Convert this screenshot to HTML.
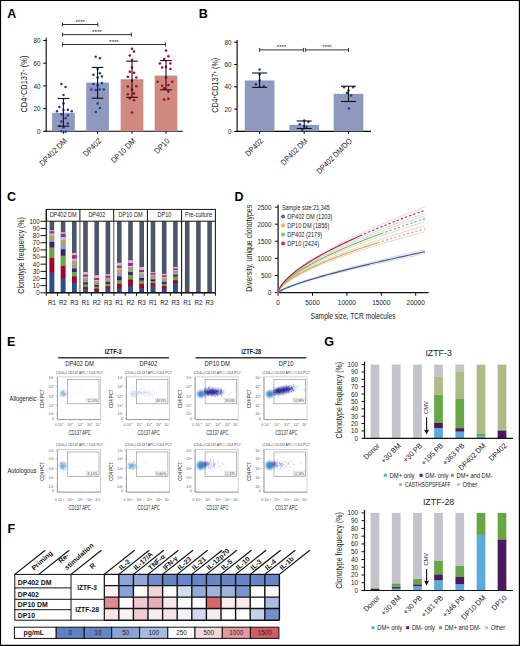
<!DOCTYPE html>
<html><head><meta charset="utf-8"><title>Figure</title>
<style>
html,body{margin:0;padding:0;background:#fff;width:520px;height:646px;overflow:hidden}
svg{display:block;font-family:"Liberation Sans", sans-serif}
</style></head><body>
<svg width="520" height="646" viewBox="0 0 520 646">
<defs><filter id="bl1" x="-50%" y="-50%" width="200%" height="200%"><feGaussianBlur stdDeviation="0.9"/></filter><filter id="bl2" x="-50%" y="-50%" width="200%" height="200%"><feGaussianBlur stdDeviation="0.7"/></filter><filter id="bl3" x="-50%" y="-50%" width="200%" height="200%"><feGaussianBlur stdDeviation="1.1"/></filter></defs>
<rect width="520" height="646" fill="#fff"/>
<text x="7.30" y="18.00" font-size="12.5" text-anchor="start" font-weight="bold" fill="#000" >A</text>
<line x1="46.20" y1="37.70" x2="46.20" y2="131.80" stroke="#000" stroke-width="1.1" />
<line x1="45.70" y1="131.30" x2="182.80" y2="131.30" stroke="#000" stroke-width="1.1" />
<line x1="43.20" y1="131.30" x2="46.20" y2="131.30" stroke="#000" stroke-width="1" />
<text x="40.60" y="133.90" font-size="7.8" text-anchor="end" font-weight="normal" fill="#222"  textLength="3.56" lengthAdjust="spacingAndGlyphs">0</text>
<line x1="43.20" y1="108.60" x2="46.20" y2="108.60" stroke="#000" stroke-width="1" />
<text x="40.60" y="111.20" font-size="7.8" text-anchor="end" font-weight="normal" fill="#222"  textLength="7.11" lengthAdjust="spacingAndGlyphs">20</text>
<line x1="43.20" y1="85.90" x2="46.20" y2="85.90" stroke="#000" stroke-width="1" />
<text x="40.60" y="88.50" font-size="7.8" text-anchor="end" font-weight="normal" fill="#222"  textLength="7.11" lengthAdjust="spacingAndGlyphs">40</text>
<line x1="43.20" y1="63.20" x2="46.20" y2="63.20" stroke="#000" stroke-width="1" />
<text x="40.60" y="65.80" font-size="7.8" text-anchor="end" font-weight="normal" fill="#222"  textLength="7.11" lengthAdjust="spacingAndGlyphs">60</text>
<line x1="43.20" y1="40.50" x2="46.20" y2="40.50" stroke="#000" stroke-width="1" />
<text x="40.60" y="43.10" font-size="7.8" text-anchor="end" font-weight="normal" fill="#222"  textLength="7.11" lengthAdjust="spacingAndGlyphs">80</text>
<text x="27.30" y="84.10" font-size="8.4" text-anchor="middle" font-weight="normal" fill="#222" transform="rotate(-90 27.30 84.10)"  textLength="57.00" lengthAdjust="spacingAndGlyphs">CD4<tspan dy="-2.6" font-size="5">+</tspan><tspan dy="2.6">CD137</tspan><tspan dy="-2.6" font-size="5">+</tspan><tspan dy="2.6"> (%)</tspan></text>
<rect x="52.05" y="112.80" width="22.70" height="18.50" fill="#8f99c0" stroke="none" stroke-width="0" />
<rect x="86.25" y="82.61" width="22.70" height="48.69" fill="#8f99c0" stroke="none" stroke-width="0" />
<rect x="120.65" y="79.20" width="22.70" height="52.10" fill="#cf8a80" stroke="none" stroke-width="0" />
<rect x="154.65" y="75.57" width="22.70" height="55.73" fill="#cf8a80" stroke="none" stroke-width="0" />
<circle cx="61.36" cy="84.12" r="1.25" fill="#1f3f86" stroke="none" stroke-width="0"/>
<circle cx="65.54" cy="86.90" r="1.25" fill="#1f3f86" stroke="none" stroke-width="0"/>
<circle cx="63.53" cy="94.95" r="1.25" fill="#1f3f86" stroke="none" stroke-width="0"/>
<circle cx="63.53" cy="103.47" r="1.25" fill="#1f3f86" stroke="none" stroke-width="0"/>
<circle cx="59.35" cy="107.03" r="1.25" fill="#1f3f86" stroke="none" stroke-width="0"/>
<circle cx="57.03" cy="111.21" r="1.25" fill="#1f3f86" stroke="none" stroke-width="0"/>
<circle cx="63.53" cy="110.12" r="1.25" fill="#1f3f86" stroke="none" stroke-width="0"/>
<circle cx="67.86" cy="109.66" r="1.25" fill="#1f3f86" stroke="none" stroke-width="0"/>
<circle cx="71.73" cy="111.21" r="1.25" fill="#1f3f86" stroke="none" stroke-width="0"/>
<circle cx="61.36" cy="114.30" r="1.25" fill="#1f3f86" stroke="none" stroke-width="0"/>
<circle cx="67.86" cy="115.39" r="1.25" fill="#1f3f86" stroke="none" stroke-width="0"/>
<circle cx="65.54" cy="118.17" r="1.25" fill="#1f3f86" stroke="none" stroke-width="0"/>
<circle cx="61.36" cy="121.58" r="1.25" fill="#1f3f86" stroke="none" stroke-width="0"/>
<circle cx="67.86" cy="123.59" r="1.25" fill="#1f3f86" stroke="none" stroke-width="0"/>
<circle cx="59.35" cy="125.91" r="1.25" fill="#1f3f86" stroke="none" stroke-width="0"/>
<circle cx="63.53" cy="127.46" r="1.25" fill="#1f3f86" stroke="none" stroke-width="0"/>
<circle cx="61.36" cy="131.33" r="1.25" fill="#1f3f86" stroke="none" stroke-width="0"/>
<circle cx="65.54" cy="131.64" r="1.25" fill="#1f3f86" stroke="none" stroke-width="0"/>
<circle cx="95.73" cy="56.72" r="1.25" fill="#1f3f86" stroke="none" stroke-width="0"/>
<circle cx="99.91" cy="58.27" r="1.25" fill="#1f3f86" stroke="none" stroke-width="0"/>
<circle cx="97.59" cy="68.95" r="1.25" fill="#1f3f86" stroke="none" stroke-width="0"/>
<circle cx="93.41" cy="74.83" r="1.25" fill="#1f3f86" stroke="none" stroke-width="0"/>
<circle cx="99.91" cy="73.28" r="1.25" fill="#1f3f86" stroke="none" stroke-width="0"/>
<circle cx="101.92" cy="76.38" r="1.25" fill="#1f3f86" stroke="none" stroke-width="0"/>
<circle cx="97.59" cy="77.62" r="1.25" fill="#1f3f86" stroke="none" stroke-width="0"/>
<circle cx="93.41" cy="84.12" r="1.25" fill="#1f3f86" stroke="none" stroke-width="0"/>
<circle cx="101.92" cy="83.03" r="1.25" fill="#1f3f86" stroke="none" stroke-width="0"/>
<circle cx="97.59" cy="85.20" r="1.25" fill="#1f3f86" stroke="none" stroke-width="0"/>
<circle cx="91.39" cy="89.54" r="1.25" fill="#1f3f86" stroke="none" stroke-width="0"/>
<circle cx="95.73" cy="90.00" r="1.25" fill="#1f3f86" stroke="none" stroke-width="0"/>
<circle cx="99.60" cy="89.54" r="1.25" fill="#1f3f86" stroke="none" stroke-width="0"/>
<circle cx="103.78" cy="89.54" r="1.25" fill="#1f3f86" stroke="none" stroke-width="0"/>
<circle cx="97.59" cy="103.47" r="1.25" fill="#1f3f86" stroke="none" stroke-width="0"/>
<circle cx="99.91" cy="108.11" r="1.25" fill="#1f3f86" stroke="none" stroke-width="0"/>
<circle cx="95.73" cy="111.98" r="1.25" fill="#1f3f86" stroke="none" stroke-width="0"/>
<circle cx="131.98" cy="48.82" r="1.25" fill="#a8002a" stroke="none" stroke-width="0"/>
<circle cx="133.99" cy="51.61" r="1.25" fill="#a8002a" stroke="none" stroke-width="0"/>
<circle cx="129.81" cy="55.48" r="1.25" fill="#a8002a" stroke="none" stroke-width="0"/>
<circle cx="131.98" cy="59.81" r="1.25" fill="#a8002a" stroke="none" stroke-width="0"/>
<circle cx="131.98" cy="67.55" r="1.25" fill="#a8002a" stroke="none" stroke-width="0"/>
<circle cx="129.81" cy="71.73" r="1.25" fill="#a8002a" stroke="none" stroke-width="0"/>
<circle cx="133.99" cy="72.82" r="1.25" fill="#a8002a" stroke="none" stroke-width="0"/>
<circle cx="127.80" cy="76.84" r="1.25" fill="#a8002a" stroke="none" stroke-width="0"/>
<circle cx="136.32" cy="77.46" r="1.25" fill="#a8002a" stroke="none" stroke-width="0"/>
<circle cx="131.98" cy="80.56" r="1.25" fill="#a8002a" stroke="none" stroke-width="0"/>
<circle cx="127.80" cy="86.44" r="1.25" fill="#a8002a" stroke="none" stroke-width="0"/>
<circle cx="136.32" cy="86.13" r="1.25" fill="#a8002a" stroke="none" stroke-width="0"/>
<circle cx="131.98" cy="89.54" r="1.25" fill="#a8002a" stroke="none" stroke-width="0"/>
<circle cx="127.80" cy="94.18" r="1.25" fill="#a8002a" stroke="none" stroke-width="0"/>
<circle cx="133.99" cy="93.41" r="1.25" fill="#a8002a" stroke="none" stroke-width="0"/>
<circle cx="129.81" cy="98.51" r="1.25" fill="#a8002a" stroke="none" stroke-width="0"/>
<circle cx="133.99" cy="100.37" r="1.25" fill="#a8002a" stroke="none" stroke-width="0"/>
<circle cx="131.98" cy="112.45" r="1.25" fill="#a8002a" stroke="none" stroke-width="0"/>
<circle cx="166.04" cy="50.53" r="1.25" fill="#a8002a" stroke="none" stroke-width="0"/>
<circle cx="168.36" cy="56.25" r="1.25" fill="#a8002a" stroke="none" stroke-width="0"/>
<circle cx="164.18" cy="58.89" r="1.25" fill="#a8002a" stroke="none" stroke-width="0"/>
<circle cx="159.85" cy="63.53" r="1.25" fill="#a8002a" stroke="none" stroke-width="0"/>
<circle cx="170.37" cy="63.53" r="1.25" fill="#a8002a" stroke="none" stroke-width="0"/>
<circle cx="162.17" cy="67.40" r="1.25" fill="#a8002a" stroke="none" stroke-width="0"/>
<circle cx="166.04" cy="66.63" r="1.25" fill="#a8002a" stroke="none" stroke-width="0"/>
<circle cx="170.37" cy="68.95" r="1.25" fill="#a8002a" stroke="none" stroke-width="0"/>
<circle cx="166.04" cy="77.15" r="1.25" fill="#a8002a" stroke="none" stroke-width="0"/>
<circle cx="157.68" cy="81.80" r="1.25" fill="#a8002a" stroke="none" stroke-width="0"/>
<circle cx="172.23" cy="81.80" r="1.25" fill="#a8002a" stroke="none" stroke-width="0"/>
<circle cx="162.17" cy="85.82" r="1.25" fill="#a8002a" stroke="none" stroke-width="0"/>
<circle cx="168.36" cy="84.89" r="1.25" fill="#a8002a" stroke="none" stroke-width="0"/>
<circle cx="164.18" cy="88.30" r="1.25" fill="#a8002a" stroke="none" stroke-width="0"/>
<circle cx="168.36" cy="91.55" r="1.25" fill="#a8002a" stroke="none" stroke-width="0"/>
<circle cx="164.18" cy="99.60" r="1.25" fill="#a8002a" stroke="none" stroke-width="0"/>
<circle cx="168.36" cy="98.82" r="1.25" fill="#a8002a" stroke="none" stroke-width="0"/>
<line x1="63.40" y1="98.50" x2="63.40" y2="126.20" stroke="#111" stroke-width="1.1" />
<line x1="57.60" y1="98.50" x2="69.20" y2="98.50" stroke="#111" stroke-width="1.1" />
<line x1="57.60" y1="126.20" x2="69.20" y2="126.20" stroke="#111" stroke-width="1.1" />
<line x1="63.40" y1="131.30" x2="63.40" y2="133.80" stroke="#000" stroke-width="1" />
<line x1="97.60" y1="67.40" x2="97.60" y2="98.20" stroke="#111" stroke-width="1.1" />
<line x1="91.80" y1="67.40" x2="103.40" y2="67.40" stroke="#111" stroke-width="1.1" />
<line x1="91.80" y1="98.20" x2="103.40" y2="98.20" stroke="#111" stroke-width="1.1" />
<line x1="97.60" y1="131.30" x2="97.60" y2="133.80" stroke="#000" stroke-width="1" />
<line x1="132.00" y1="61.20" x2="132.00" y2="97.30" stroke="#111" stroke-width="1.1" />
<line x1="126.20" y1="61.20" x2="137.80" y2="61.20" stroke="#111" stroke-width="1.1" />
<line x1="126.20" y1="97.30" x2="137.80" y2="97.30" stroke="#111" stroke-width="1.1" />
<line x1="132.00" y1="131.30" x2="132.00" y2="133.80" stroke="#000" stroke-width="1" />
<line x1="166.00" y1="60.60" x2="166.00" y2="89.80" stroke="#111" stroke-width="1.1" />
<line x1="160.20" y1="60.60" x2="171.80" y2="60.60" stroke="#111" stroke-width="1.1" />
<line x1="160.20" y1="89.80" x2="171.80" y2="89.80" stroke="#111" stroke-width="1.1" />
<line x1="166.00" y1="131.30" x2="166.00" y2="133.80" stroke="#000" stroke-width="1" />
<text x="67.60" y="141.50" font-size="8.0" text-anchor="end" font-weight="normal" fill="#222" transform="rotate(-45 67.60 141.50)"  textLength="35.21" lengthAdjust="spacingAndGlyphs">DP402 DM</text>
<text x="101.80" y="141.50" font-size="8.0" text-anchor="end" font-weight="normal" fill="#222" transform="rotate(-45 101.80 141.50)"  textLength="22.01" lengthAdjust="spacingAndGlyphs">DP402</text>
<text x="136.20" y="141.50" font-size="8.0" text-anchor="end" font-weight="normal" fill="#222" transform="rotate(-45 136.20 141.50)"  textLength="31.21" lengthAdjust="spacingAndGlyphs">DP10 DM</text>
<text x="170.20" y="141.50" font-size="8.0" text-anchor="end" font-weight="normal" fill="#222" transform="rotate(-45 170.20 141.50)"  textLength="18.01" lengthAdjust="spacingAndGlyphs">DP10</text>
<line x1="62.50" y1="24.50" x2="97.80" y2="24.50" stroke="#333" stroke-width="1" />
<line x1="62.50" y1="22.50" x2="62.50" y2="26.50" stroke="#333" stroke-width="1" />
<line x1="97.80" y1="22.50" x2="97.80" y2="26.50" stroke="#333" stroke-width="1" />
<text x="80.15" y="23.60" font-size="6.0" text-anchor="middle" font-weight="normal" fill="#222" >****</text>
<line x1="62.50" y1="34.60" x2="131.40" y2="34.60" stroke="#333" stroke-width="1" />
<line x1="62.50" y1="32.60" x2="62.50" y2="36.60" stroke="#333" stroke-width="1" />
<line x1="131.40" y1="32.60" x2="131.40" y2="36.60" stroke="#333" stroke-width="1" />
<text x="96.95" y="33.70" font-size="6.0" text-anchor="middle" font-weight="normal" fill="#222" >****</text>
<line x1="62.50" y1="44.50" x2="165.50" y2="44.50" stroke="#333" stroke-width="1" />
<line x1="62.50" y1="42.50" x2="62.50" y2="46.50" stroke="#333" stroke-width="1" />
<line x1="165.50" y1="42.50" x2="165.50" y2="46.50" stroke="#333" stroke-width="1" />
<text x="114.00" y="43.60" font-size="6.0" text-anchor="middle" font-weight="normal" fill="#222" >****</text>
<text x="198.80" y="17.60" font-size="12.5" text-anchor="start" font-weight="bold" fill="#000" >B</text>
<line x1="237.10" y1="39.90" x2="237.10" y2="131.90" stroke="#000" stroke-width="1.1" />
<line x1="236.60" y1="131.40" x2="371.00" y2="131.40" stroke="#000" stroke-width="1.1" />
<line x1="234.10" y1="131.40" x2="237.10" y2="131.40" stroke="#000" stroke-width="1" />
<text x="231.60" y="134.00" font-size="7.8" text-anchor="end" font-weight="normal" fill="#222"  textLength="3.56" lengthAdjust="spacingAndGlyphs">0</text>
<line x1="234.10" y1="109.10" x2="237.10" y2="109.10" stroke="#000" stroke-width="1" />
<text x="231.60" y="111.70" font-size="7.8" text-anchor="end" font-weight="normal" fill="#222"  textLength="7.11" lengthAdjust="spacingAndGlyphs">20</text>
<line x1="234.10" y1="86.80" x2="237.10" y2="86.80" stroke="#000" stroke-width="1" />
<text x="231.60" y="89.40" font-size="7.8" text-anchor="end" font-weight="normal" fill="#222"  textLength="7.11" lengthAdjust="spacingAndGlyphs">40</text>
<line x1="234.10" y1="64.50" x2="237.10" y2="64.50" stroke="#000" stroke-width="1" />
<text x="231.60" y="67.10" font-size="7.8" text-anchor="end" font-weight="normal" fill="#222"  textLength="7.11" lengthAdjust="spacingAndGlyphs">60</text>
<line x1="234.10" y1="42.20" x2="237.10" y2="42.20" stroke="#000" stroke-width="1" />
<text x="231.60" y="44.80" font-size="7.8" text-anchor="end" font-weight="normal" fill="#222"  textLength="7.11" lengthAdjust="spacingAndGlyphs">80</text>
<text x="218.30" y="85.30" font-size="8.4" text-anchor="middle" font-weight="normal" fill="#222" transform="rotate(-90 218.30 85.30)"  textLength="55.00" lengthAdjust="spacingAndGlyphs">CD4<tspan dy="-2.6" font-size="5">+</tspan><tspan dy="2.6">CD137</tspan><tspan dy="-2.6" font-size="5">+</tspan><tspan dy="2.6"> (%)</tspan></text>
<rect x="244.75" y="80.44" width="29.70" height="50.96" fill="#8f99c0" stroke="none" stroke-width="0" />
<rect x="289.35" y="124.82" width="29.70" height="6.58" fill="#8f99c0" stroke="none" stroke-width="0" />
<rect x="333.65" y="93.82" width="29.70" height="37.58" fill="#8f99c0" stroke="none" stroke-width="0" />
<circle cx="259.57" cy="69.49" r="1.25" fill="#1f3f86" stroke="none" stroke-width="0"/>
<circle cx="259.57" cy="74.60" r="1.25" fill="#1f3f86" stroke="none" stroke-width="0"/>
<circle cx="259.57" cy="80.55" r="1.25" fill="#1f3f86" stroke="none" stroke-width="0"/>
<circle cx="255.83" cy="84.13" r="1.25" fill="#1f3f86" stroke="none" stroke-width="0"/>
<circle cx="263.83" cy="86.17" r="1.25" fill="#1f3f86" stroke="none" stroke-width="0"/>
<circle cx="259.57" cy="87.02" r="1.25" fill="#1f3f86" stroke="none" stroke-width="0"/>
<circle cx="304.23" cy="120.38" r="1.25" fill="#1f3f86" stroke="none" stroke-width="0"/>
<circle cx="308.46" cy="121.92" r="1.25" fill="#1f3f86" stroke="none" stroke-width="0"/>
<circle cx="299.81" cy="124.23" r="1.25" fill="#1f3f86" stroke="none" stroke-width="0"/>
<circle cx="306.54" cy="127.12" r="1.25" fill="#1f3f86" stroke="none" stroke-width="0"/>
<circle cx="302.31" cy="130.00" r="1.25" fill="#1f3f86" stroke="none" stroke-width="0"/>
<circle cx="304.23" cy="126.15" r="1.25" fill="#1f3f86" stroke="none" stroke-width="0"/>
<circle cx="344.04" cy="87.31" r="1.25" fill="#1f3f86" stroke="none" stroke-width="0"/>
<circle cx="353.08" cy="87.31" r="1.25" fill="#1f3f86" stroke="none" stroke-width="0"/>
<circle cx="348.46" cy="90.58" r="1.25" fill="#1f3f86" stroke="none" stroke-width="0"/>
<circle cx="346.92" cy="93.08" r="1.25" fill="#1f3f86" stroke="none" stroke-width="0"/>
<circle cx="351.15" cy="95.38" r="1.25" fill="#1f3f86" stroke="none" stroke-width="0"/>
<circle cx="348.85" cy="108.46" r="1.25" fill="#1f3f86" stroke="none" stroke-width="0"/>
<line x1="259.60" y1="73.00" x2="259.60" y2="87.40" stroke="#111" stroke-width="1.1" />
<line x1="252.10" y1="73.00" x2="267.10" y2="73.00" stroke="#111" stroke-width="1.1" />
<line x1="252.10" y1="87.40" x2="267.10" y2="87.40" stroke="#111" stroke-width="1.1" />
<line x1="259.60" y1="131.40" x2="259.60" y2="133.90" stroke="#000" stroke-width="1" />
<line x1="304.20" y1="121.00" x2="304.20" y2="128.50" stroke="#111" stroke-width="1.1" />
<line x1="296.70" y1="121.00" x2="311.70" y2="121.00" stroke="#111" stroke-width="1.1" />
<line x1="296.70" y1="128.50" x2="311.70" y2="128.50" stroke="#111" stroke-width="1.1" />
<line x1="304.20" y1="131.40" x2="304.20" y2="133.90" stroke="#000" stroke-width="1" />
<line x1="348.50" y1="86.20" x2="348.50" y2="101.50" stroke="#111" stroke-width="1.1" />
<line x1="341.00" y1="86.20" x2="356.00" y2="86.20" stroke="#111" stroke-width="1.1" />
<line x1="341.00" y1="101.50" x2="356.00" y2="101.50" stroke="#111" stroke-width="1.1" />
<line x1="348.50" y1="131.40" x2="348.50" y2="133.90" stroke="#000" stroke-width="1" />
<text x="263.60" y="141.60" font-size="8.0" text-anchor="end" font-weight="normal" fill="#222" transform="rotate(-45 263.60 141.60)"  textLength="21.28" lengthAdjust="spacingAndGlyphs">DP402</text>
<text x="308.20" y="141.60" font-size="8.0" text-anchor="end" font-weight="normal" fill="#222" transform="rotate(-45 308.20 141.60)"  textLength="34.04" lengthAdjust="spacingAndGlyphs">DP402 DM</text>
<text x="352.50" y="141.60" font-size="8.0" text-anchor="end" font-weight="normal" fill="#222" transform="rotate(-45 352.50 141.60)"  textLength="46.41" lengthAdjust="spacingAndGlyphs">DP402 DM/DO</text>
<line x1="259.60" y1="49.90" x2="303.40" y2="49.90" stroke="#333" stroke-width="1" />
<line x1="259.60" y1="47.90" x2="259.60" y2="51.90" stroke="#333" stroke-width="1" />
<line x1="303.40" y1="47.90" x2="303.40" y2="51.90" stroke="#333" stroke-width="1" />
<line x1="305.40" y1="49.90" x2="348.50" y2="49.90" stroke="#333" stroke-width="1" />
<line x1="305.40" y1="47.90" x2="305.40" y2="51.90" stroke="#333" stroke-width="1" />
<line x1="348.50" y1="47.90" x2="348.50" y2="51.90" stroke="#333" stroke-width="1" />
<text x="281.50" y="49.00" font-size="6.0" text-anchor="middle" font-weight="normal" fill="#222" >****</text>
<text x="327.00" y="49.00" font-size="6.0" text-anchor="middle" font-weight="normal" fill="#222" >****</text>
<text x="7.00" y="201.20" font-size="12.5" text-anchor="start" font-weight="bold" fill="#000" >C</text>
<rect x="49.60" y="221.30" width="4.60" height="71.50" fill="#4d5669" stroke="none" stroke-width="0" />
<rect x="49.60" y="272.49" width="4.60" height="20.31" fill="#2c4f8c" stroke="none" stroke-width="0" />
<rect x="49.60" y="257.84" width="4.60" height="14.66" fill="#a8002d" stroke="none" stroke-width="0" />
<rect x="49.60" y="247.33" width="4.60" height="10.51" fill="#6aa842" stroke="none" stroke-width="0" />
<rect x="49.60" y="241.89" width="4.60" height="5.43" fill="#4b1c5c" stroke="none" stroke-width="0" />
<rect x="49.60" y="238.96" width="4.60" height="2.93" fill="#6ab0e6" stroke="none" stroke-width="0" />
<rect x="49.60" y="235.74" width="4.60" height="3.22" fill="#ec9420" stroke="none" stroke-width="0" />
<rect x="49.60" y="233.24" width="4.60" height="2.50" fill="#8fd0f0" stroke="none" stroke-width="0" />
<rect x="49.60" y="231.31" width="4.60" height="1.93" fill="#d5147a" stroke="none" stroke-width="0" />
<rect x="49.60" y="230.31" width="4.60" height="1.00" fill="#cbc2e4" stroke="none" stroke-width="0" />
<rect x="60.80" y="221.30" width="4.60" height="71.50" fill="#4d5669" stroke="none" stroke-width="0" />
<rect x="60.80" y="278.00" width="4.60" height="14.80" fill="#2c4f8c" stroke="none" stroke-width="0" />
<rect x="60.80" y="265.84" width="4.60" height="12.15" fill="#a8002d" stroke="none" stroke-width="0" />
<rect x="60.80" y="255.48" width="4.60" height="10.37" fill="#6aa842" stroke="none" stroke-width="0" />
<rect x="60.80" y="249.19" width="4.60" height="6.29" fill="#4b1c5c" stroke="none" stroke-width="0" />
<rect x="60.80" y="244.18" width="4.60" height="5.00" fill="#6ab0e6" stroke="none" stroke-width="0" />
<rect x="60.80" y="240.61" width="4.60" height="3.57" fill="#ec9420" stroke="none" stroke-width="0" />
<rect x="60.80" y="237.03" width="4.60" height="3.57" fill="#8fd0f0" stroke="none" stroke-width="0" />
<rect x="60.80" y="233.81" width="4.60" height="3.22" fill="#d5147a" stroke="none" stroke-width="0" />
<rect x="60.80" y="232.24" width="4.60" height="1.57" fill="#cbc2e4" stroke="none" stroke-width="0" />
<rect x="72.00" y="221.30" width="4.60" height="71.50" fill="#4d5669" stroke="none" stroke-width="0" />
<rect x="72.00" y="282.79" width="4.60" height="10.01" fill="#2c4f8c" stroke="none" stroke-width="0" />
<rect x="72.00" y="276.36" width="4.60" height="6.44" fill="#a8002d" stroke="none" stroke-width="0" />
<rect x="72.00" y="271.99" width="4.60" height="4.36" fill="#6aa842" stroke="none" stroke-width="0" />
<rect x="72.00" y="268.42" width="4.60" height="3.58" fill="#4b1c5c" stroke="none" stroke-width="0" />
<rect x="72.00" y="265.13" width="4.60" height="3.29" fill="#6ab0e6" stroke="none" stroke-width="0" />
<rect x="72.00" y="261.63" width="4.60" height="3.50" fill="#ec9420" stroke="none" stroke-width="0" />
<rect x="72.00" y="258.41" width="4.60" height="3.22" fill="#8fd0f0" stroke="none" stroke-width="0" />
<rect x="72.00" y="255.12" width="4.60" height="3.29" fill="#d5147a" stroke="none" stroke-width="0" />
<rect x="72.00" y="252.97" width="4.60" height="2.15" fill="#cbc2e4" stroke="none" stroke-width="0" />
<rect x="83.20" y="221.30" width="4.60" height="71.50" fill="#4d5669" stroke="none" stroke-width="0" />
<rect x="83.20" y="289.30" width="4.60" height="3.50" fill="#2c4f8c" stroke="none" stroke-width="0" />
<rect x="83.20" y="286.79" width="4.60" height="2.50" fill="#a8002d" stroke="none" stroke-width="0" />
<rect x="83.20" y="284.22" width="4.60" height="2.57" fill="#6aa842" stroke="none" stroke-width="0" />
<rect x="83.20" y="282.29" width="4.60" height="1.93" fill="#4b1c5c" stroke="none" stroke-width="0" />
<rect x="83.20" y="280.43" width="4.60" height="1.86" fill="#6ab0e6" stroke="none" stroke-width="0" />
<rect x="83.20" y="278.14" width="4.60" height="2.29" fill="#ec9420" stroke="none" stroke-width="0" />
<rect x="83.20" y="276.43" width="4.60" height="1.72" fill="#8fd0f0" stroke="none" stroke-width="0" />
<rect x="83.20" y="274.57" width="4.60" height="1.86" fill="#d5147a" stroke="none" stroke-width="0" />
<rect x="83.20" y="272.06" width="4.60" height="2.50" fill="#cbc2e4" stroke="none" stroke-width="0" />
<rect x="94.40" y="221.30" width="4.60" height="71.50" fill="#4d5669" stroke="none" stroke-width="0" />
<rect x="94.40" y="290.94" width="4.60" height="1.86" fill="#2c4f8c" stroke="none" stroke-width="0" />
<rect x="94.40" y="288.51" width="4.60" height="2.43" fill="#a8002d" stroke="none" stroke-width="0" />
<rect x="94.40" y="286.44" width="4.60" height="2.07" fill="#6aa842" stroke="none" stroke-width="0" />
<rect x="94.40" y="284.94" width="4.60" height="1.50" fill="#4b1c5c" stroke="none" stroke-width="0" />
<rect x="94.40" y="283.50" width="4.60" height="1.43" fill="#6ab0e6" stroke="none" stroke-width="0" />
<rect x="94.40" y="281.15" width="4.60" height="2.36" fill="#ec9420" stroke="none" stroke-width="0" />
<rect x="94.40" y="279.93" width="4.60" height="1.22" fill="#8fd0f0" stroke="none" stroke-width="0" />
<rect x="94.40" y="277.93" width="4.60" height="2.00" fill="#d5147a" stroke="none" stroke-width="0" />
<rect x="94.40" y="275.14" width="4.60" height="2.79" fill="#cbc2e4" stroke="none" stroke-width="0" />
<rect x="105.60" y="221.30" width="4.60" height="71.50" fill="#4d5669" stroke="none" stroke-width="0" />
<rect x="105.60" y="288.80" width="4.60" height="4.00" fill="#2c4f8c" stroke="none" stroke-width="0" />
<rect x="105.60" y="286.15" width="4.60" height="2.65" fill="#a8002d" stroke="none" stroke-width="0" />
<rect x="105.60" y="283.86" width="4.60" height="2.29" fill="#6aa842" stroke="none" stroke-width="0" />
<rect x="105.60" y="281.79" width="4.60" height="2.07" fill="#4b1c5c" stroke="none" stroke-width="0" />
<rect x="105.60" y="280.14" width="4.60" height="1.64" fill="#6ab0e6" stroke="none" stroke-width="0" />
<rect x="105.60" y="278.50" width="4.60" height="1.64" fill="#ec9420" stroke="none" stroke-width="0" />
<rect x="105.60" y="277.57" width="4.60" height="0.93" fill="#8fd0f0" stroke="none" stroke-width="0" />
<rect x="105.60" y="275.78" width="4.60" height="1.79" fill="#d5147a" stroke="none" stroke-width="0" />
<rect x="105.60" y="274.21" width="4.60" height="1.57" fill="#cbc2e4" stroke="none" stroke-width="0" />
<rect x="117.00" y="221.30" width="4.60" height="71.50" fill="#4d5669" stroke="none" stroke-width="0" />
<rect x="117.00" y="288.51" width="4.60" height="4.29" fill="#2c4f8c" stroke="none" stroke-width="0" />
<rect x="117.00" y="283.79" width="4.60" height="4.72" fill="#a8002d" stroke="none" stroke-width="0" />
<rect x="117.00" y="280.14" width="4.60" height="3.65" fill="#6aa842" stroke="none" stroke-width="0" />
<rect x="117.00" y="276.36" width="4.60" height="3.79" fill="#4b1c5c" stroke="none" stroke-width="0" />
<rect x="117.00" y="272.99" width="4.60" height="3.36" fill="#6ab0e6" stroke="none" stroke-width="0" />
<rect x="117.00" y="269.92" width="4.60" height="3.07" fill="#ec9420" stroke="none" stroke-width="0" />
<rect x="117.00" y="267.63" width="4.60" height="2.29" fill="#8fd0f0" stroke="none" stroke-width="0" />
<rect x="117.00" y="265.63" width="4.60" height="2.00" fill="#d5147a" stroke="none" stroke-width="0" />
<rect x="117.00" y="262.77" width="4.60" height="2.86" fill="#cbc2e4" stroke="none" stroke-width="0" />
<rect x="128.20" y="221.30" width="4.60" height="71.50" fill="#4d5669" stroke="none" stroke-width="0" />
<rect x="128.20" y="286.08" width="4.60" height="6.72" fill="#2c4f8c" stroke="none" stroke-width="0" />
<rect x="128.20" y="279.50" width="4.60" height="6.58" fill="#a8002d" stroke="none" stroke-width="0" />
<rect x="128.20" y="275.00" width="4.60" height="4.50" fill="#6aa842" stroke="none" stroke-width="0" />
<rect x="128.20" y="272.06" width="4.60" height="2.93" fill="#4b1c5c" stroke="none" stroke-width="0" />
<rect x="128.20" y="269.92" width="4.60" height="2.14" fill="#6ab0e6" stroke="none" stroke-width="0" />
<rect x="128.20" y="267.63" width="4.60" height="2.29" fill="#ec9420" stroke="none" stroke-width="0" />
<rect x="128.20" y="265.63" width="4.60" height="2.00" fill="#8fd0f0" stroke="none" stroke-width="0" />
<rect x="128.20" y="262.91" width="4.60" height="2.72" fill="#d5147a" stroke="none" stroke-width="0" />
<rect x="128.20" y="260.20" width="4.60" height="2.72" fill="#cbc2e4" stroke="none" stroke-width="0" />
<rect x="139.40" y="221.30" width="4.60" height="71.50" fill="#4d5669" stroke="none" stroke-width="0" />
<rect x="139.40" y="288.22" width="4.60" height="4.58" fill="#2c4f8c" stroke="none" stroke-width="0" />
<rect x="139.40" y="283.79" width="4.60" height="4.43" fill="#a8002d" stroke="none" stroke-width="0" />
<rect x="139.40" y="280.43" width="4.60" height="3.36" fill="#6aa842" stroke="none" stroke-width="0" />
<rect x="139.40" y="278.00" width="4.60" height="2.43" fill="#4b1c5c" stroke="none" stroke-width="0" />
<rect x="139.40" y="276.07" width="4.60" height="1.93" fill="#6ab0e6" stroke="none" stroke-width="0" />
<rect x="139.40" y="273.92" width="4.60" height="2.14" fill="#ec9420" stroke="none" stroke-width="0" />
<rect x="139.40" y="272.06" width="4.60" height="1.86" fill="#8fd0f0" stroke="none" stroke-width="0" />
<rect x="139.40" y="269.92" width="4.60" height="2.14" fill="#d5147a" stroke="none" stroke-width="0" />
<rect x="139.40" y="266.92" width="4.60" height="3.00" fill="#cbc2e4" stroke="none" stroke-width="0" />
<rect x="150.70" y="221.30" width="4.60" height="71.50" fill="#4d5669" stroke="none" stroke-width="0" />
<rect x="150.70" y="285.79" width="4.60" height="7.01" fill="#2c4f8c" stroke="none" stroke-width="0" />
<rect x="150.70" y="283.08" width="4.60" height="2.72" fill="#a8002d" stroke="none" stroke-width="0" />
<rect x="150.70" y="281.07" width="4.60" height="2.00" fill="#6aa842" stroke="none" stroke-width="0" />
<rect x="150.70" y="279.36" width="4.60" height="1.72" fill="#4b1c5c" stroke="none" stroke-width="0" />
<rect x="150.70" y="277.79" width="4.60" height="1.57" fill="#6ab0e6" stroke="none" stroke-width="0" />
<rect x="150.70" y="275.64" width="4.60" height="2.15" fill="#ec9420" stroke="none" stroke-width="0" />
<rect x="150.70" y="274.35" width="4.60" height="1.29" fill="#8fd0f0" stroke="none" stroke-width="0" />
<rect x="150.70" y="272.99" width="4.60" height="1.36" fill="#d5147a" stroke="none" stroke-width="0" />
<rect x="150.70" y="272.06" width="4.60" height="0.93" fill="#cbc2e4" stroke="none" stroke-width="0" />
<rect x="161.90" y="221.30" width="4.60" height="71.50" fill="#4d5669" stroke="none" stroke-width="0" />
<rect x="161.90" y="289.23" width="4.60" height="3.57" fill="#2c4f8c" stroke="none" stroke-width="0" />
<rect x="161.90" y="285.79" width="4.60" height="3.43" fill="#a8002d" stroke="none" stroke-width="0" />
<rect x="161.90" y="283.79" width="4.60" height="2.00" fill="#6aa842" stroke="none" stroke-width="0" />
<rect x="161.90" y="281.79" width="4.60" height="2.00" fill="#4b1c5c" stroke="none" stroke-width="0" />
<rect x="161.90" y="280.14" width="4.60" height="1.64" fill="#6ab0e6" stroke="none" stroke-width="0" />
<rect x="161.90" y="278.00" width="4.60" height="2.14" fill="#ec9420" stroke="none" stroke-width="0" />
<rect x="161.90" y="276.64" width="4.60" height="1.36" fill="#8fd0f0" stroke="none" stroke-width="0" />
<rect x="161.90" y="275.28" width="4.60" height="1.36" fill="#d5147a" stroke="none" stroke-width="0" />
<rect x="161.90" y="273.92" width="4.60" height="1.36" fill="#cbc2e4" stroke="none" stroke-width="0" />
<rect x="173.10" y="221.30" width="4.60" height="71.50" fill="#4d5669" stroke="none" stroke-width="0" />
<rect x="173.10" y="283.36" width="4.60" height="9.44" fill="#2c4f8c" stroke="none" stroke-width="0" />
<rect x="173.10" y="280.14" width="4.60" height="3.22" fill="#a8002d" stroke="none" stroke-width="0" />
<rect x="173.10" y="276.36" width="4.60" height="3.79" fill="#6aa842" stroke="none" stroke-width="0" />
<rect x="173.10" y="274.78" width="4.60" height="1.57" fill="#4b1c5c" stroke="none" stroke-width="0" />
<rect x="173.10" y="272.99" width="4.60" height="1.79" fill="#6ab0e6" stroke="none" stroke-width="0" />
<rect x="173.10" y="271.35" width="4.60" height="1.64" fill="#ec9420" stroke="none" stroke-width="0" />
<rect x="173.10" y="269.92" width="4.60" height="1.43" fill="#8fd0f0" stroke="none" stroke-width="0" />
<rect x="173.10" y="268.49" width="4.60" height="1.43" fill="#d5147a" stroke="none" stroke-width="0" />
<rect x="173.10" y="266.92" width="4.60" height="1.57" fill="#cbc2e4" stroke="none" stroke-width="0" />
<rect x="184.90" y="221.30" width="4.60" height="71.50" fill="#4d5669" stroke="none" stroke-width="0" />
<rect x="184.90" y="292.09" width="4.60" height="0.71" fill="#a0662a" stroke="none" stroke-width="0" />
<rect x="196.10" y="221.30" width="4.60" height="71.50" fill="#4d5669" stroke="none" stroke-width="0" />
<rect x="196.10" y="292.37" width="4.60" height="0.43" fill="#a0662a" stroke="none" stroke-width="0" />
<rect x="207.30" y="221.30" width="4.60" height="71.50" fill="#4d5669" stroke="none" stroke-width="0" />
<rect x="207.30" y="292.09" width="4.60" height="0.71" fill="#a0662a" stroke="none" stroke-width="0" />
<line x1="79.90" y1="221.30" x2="79.90" y2="292.80" stroke="#8c8c8c" stroke-width="1.5" />
<line x1="113.70" y1="221.30" x2="113.70" y2="292.80" stroke="#8c8c8c" stroke-width="1.5" />
<line x1="147.40" y1="221.30" x2="147.40" y2="292.80" stroke="#1a1a1a" stroke-width="1.1" />
<line x1="181.60" y1="221.30" x2="181.60" y2="292.80" stroke="#1a1a1a" stroke-width="1.1" />
<rect x="46.30" y="209.40" width="169.10" height="11.80" fill="none" stroke="#111" stroke-width="1" />
<line x1="79.90" y1="209.40" x2="79.90" y2="221.20" stroke="#111" stroke-width="1" />
<line x1="113.70" y1="209.40" x2="113.70" y2="221.20" stroke="#111" stroke-width="1" />
<line x1="147.40" y1="209.40" x2="147.40" y2="221.20" stroke="#111" stroke-width="1" />
<line x1="181.60" y1="209.40" x2="181.60" y2="221.20" stroke="#111" stroke-width="1" />
<line x1="215.40" y1="221.20" x2="215.40" y2="292.80" stroke="#111" stroke-width="1" />
<text x="63.10" y="217.40" font-size="6.4" text-anchor="middle" font-weight="normal" fill="#222"  textLength="26.92" lengthAdjust="spacingAndGlyphs">DP402 DM</text>
<text x="96.80" y="217.40" font-size="6.4" text-anchor="middle" font-weight="normal" fill="#222"  textLength="16.83" lengthAdjust="spacingAndGlyphs">DP402</text>
<text x="130.55" y="217.40" font-size="6.4" text-anchor="middle" font-weight="normal" fill="#222"  textLength="23.86" lengthAdjust="spacingAndGlyphs">DP10 DM</text>
<text x="164.50" y="217.40" font-size="6.4" text-anchor="middle" font-weight="normal" fill="#222"  textLength="13.77" lengthAdjust="spacingAndGlyphs">DP10</text>
<text x="198.50" y="217.40" font-size="6.4" text-anchor="middle" font-weight="normal" fill="#222"  textLength="26.92" lengthAdjust="spacingAndGlyphs">Pre-culture</text>
<line x1="46.30" y1="209.40" x2="46.30" y2="293.40" stroke="#111" stroke-width="1.2" />
<line x1="46.30" y1="292.80" x2="215.40" y2="292.80" stroke="#111" stroke-width="1.4" />
<line x1="46.30" y1="292.80" x2="46.30" y2="295.80" stroke="#111" stroke-width="1" />
<line x1="57.57" y1="292.80" x2="57.57" y2="295.80" stroke="#111" stroke-width="1" />
<line x1="68.85" y1="292.80" x2="68.85" y2="295.80" stroke="#111" stroke-width="1" />
<line x1="80.12" y1="292.80" x2="80.12" y2="295.80" stroke="#111" stroke-width="1" />
<line x1="91.39" y1="292.80" x2="91.39" y2="295.80" stroke="#111" stroke-width="1" />
<line x1="102.67" y1="292.80" x2="102.67" y2="295.80" stroke="#111" stroke-width="1" />
<line x1="113.94" y1="292.80" x2="113.94" y2="295.80" stroke="#111" stroke-width="1" />
<line x1="125.21" y1="292.80" x2="125.21" y2="295.80" stroke="#111" stroke-width="1" />
<line x1="136.49" y1="292.80" x2="136.49" y2="295.80" stroke="#111" stroke-width="1" />
<line x1="147.76" y1="292.80" x2="147.76" y2="295.80" stroke="#111" stroke-width="1" />
<line x1="159.03" y1="292.80" x2="159.03" y2="295.80" stroke="#111" stroke-width="1" />
<line x1="170.31" y1="292.80" x2="170.31" y2="295.80" stroke="#111" stroke-width="1" />
<line x1="181.58" y1="292.80" x2="181.58" y2="295.80" stroke="#111" stroke-width="1" />
<line x1="192.85" y1="292.80" x2="192.85" y2="295.80" stroke="#111" stroke-width="1" />
<line x1="204.13" y1="292.80" x2="204.13" y2="295.80" stroke="#111" stroke-width="1" />
<line x1="215.40" y1="292.80" x2="215.40" y2="295.80" stroke="#111" stroke-width="1" />
<line x1="40.50" y1="292.80" x2="46.30" y2="292.80" stroke="#111" stroke-width="1" />
<text x="39.60" y="295.20" font-size="6.8" text-anchor="end" font-weight="normal" fill="#222"  textLength="3.40" lengthAdjust="spacingAndGlyphs">0</text>
<line x1="40.50" y1="285.65" x2="46.30" y2="285.65" stroke="#111" stroke-width="1" />
<text x="39.60" y="288.05" font-size="6.8" text-anchor="end" font-weight="normal" fill="#222"  textLength="6.81" lengthAdjust="spacingAndGlyphs">10</text>
<line x1="40.50" y1="278.50" x2="46.30" y2="278.50" stroke="#111" stroke-width="1" />
<text x="39.60" y="280.90" font-size="6.8" text-anchor="end" font-weight="normal" fill="#222"  textLength="6.81" lengthAdjust="spacingAndGlyphs">20</text>
<line x1="40.50" y1="271.35" x2="46.30" y2="271.35" stroke="#111" stroke-width="1" />
<text x="39.60" y="273.75" font-size="6.8" text-anchor="end" font-weight="normal" fill="#222"  textLength="6.81" lengthAdjust="spacingAndGlyphs">30</text>
<line x1="40.50" y1="264.20" x2="46.30" y2="264.20" stroke="#111" stroke-width="1" />
<text x="39.60" y="266.60" font-size="6.8" text-anchor="end" font-weight="normal" fill="#222"  textLength="6.81" lengthAdjust="spacingAndGlyphs">40</text>
<line x1="40.50" y1="257.05" x2="46.30" y2="257.05" stroke="#111" stroke-width="1" />
<text x="39.60" y="259.45" font-size="6.8" text-anchor="end" font-weight="normal" fill="#222"  textLength="6.81" lengthAdjust="spacingAndGlyphs">50</text>
<line x1="40.50" y1="249.90" x2="46.30" y2="249.90" stroke="#111" stroke-width="1" />
<text x="39.60" y="252.30" font-size="6.8" text-anchor="end" font-weight="normal" fill="#222"  textLength="6.81" lengthAdjust="spacingAndGlyphs">60</text>
<line x1="40.50" y1="242.75" x2="46.30" y2="242.75" stroke="#111" stroke-width="1" />
<text x="39.60" y="245.15" font-size="6.8" text-anchor="end" font-weight="normal" fill="#222"  textLength="6.81" lengthAdjust="spacingAndGlyphs">70</text>
<line x1="40.50" y1="235.60" x2="46.30" y2="235.60" stroke="#111" stroke-width="1" />
<text x="39.60" y="238.00" font-size="6.8" text-anchor="end" font-weight="normal" fill="#222"  textLength="6.81" lengthAdjust="spacingAndGlyphs">80</text>
<line x1="40.50" y1="228.45" x2="46.30" y2="228.45" stroke="#111" stroke-width="1" />
<text x="39.60" y="230.85" font-size="6.8" text-anchor="end" font-weight="normal" fill="#222"  textLength="6.81" lengthAdjust="spacingAndGlyphs">90</text>
<line x1="40.50" y1="221.30" x2="46.30" y2="221.30" stroke="#111" stroke-width="1" />
<text x="39.60" y="223.70" font-size="6.8" text-anchor="end" font-weight="normal" fill="#222"  textLength="10.21" lengthAdjust="spacingAndGlyphs">100</text>
<text x="23.60" y="255.40" font-size="8.4" text-anchor="middle" font-weight="normal" fill="#222" transform="rotate(-90 23.60 255.40)"  textLength="76.50" lengthAdjust="spacingAndGlyphs">Clonotype frequency (%)</text>
<text x="51.90" y="305.00" font-size="7.0" text-anchor="middle" font-weight="normal" fill="#222"  textLength="8.05" lengthAdjust="spacingAndGlyphs">R1</text>
<text x="63.10" y="305.00" font-size="7.0" text-anchor="middle" font-weight="normal" fill="#222"  textLength="8.05" lengthAdjust="spacingAndGlyphs">R2</text>
<text x="74.30" y="305.00" font-size="7.0" text-anchor="middle" font-weight="normal" fill="#222"  textLength="8.05" lengthAdjust="spacingAndGlyphs">R3</text>
<text x="85.50" y="305.00" font-size="7.0" text-anchor="middle" font-weight="normal" fill="#222"  textLength="8.05" lengthAdjust="spacingAndGlyphs">R1</text>
<text x="96.70" y="305.00" font-size="7.0" text-anchor="middle" font-weight="normal" fill="#222"  textLength="8.05" lengthAdjust="spacingAndGlyphs">R2</text>
<text x="107.90" y="305.00" font-size="7.0" text-anchor="middle" font-weight="normal" fill="#222"  textLength="8.05" lengthAdjust="spacingAndGlyphs">R3</text>
<text x="119.30" y="305.00" font-size="7.0" text-anchor="middle" font-weight="normal" fill="#222"  textLength="8.05" lengthAdjust="spacingAndGlyphs">R1</text>
<text x="130.50" y="305.00" font-size="7.0" text-anchor="middle" font-weight="normal" fill="#222"  textLength="8.05" lengthAdjust="spacingAndGlyphs">R2</text>
<text x="141.70" y="305.00" font-size="7.0" text-anchor="middle" font-weight="normal" fill="#222"  textLength="8.05" lengthAdjust="spacingAndGlyphs">R3</text>
<text x="153.00" y="305.00" font-size="7.0" text-anchor="middle" font-weight="normal" fill="#222"  textLength="8.05" lengthAdjust="spacingAndGlyphs">R1</text>
<text x="164.20" y="305.00" font-size="7.0" text-anchor="middle" font-weight="normal" fill="#222"  textLength="8.05" lengthAdjust="spacingAndGlyphs">R2</text>
<text x="175.40" y="305.00" font-size="7.0" text-anchor="middle" font-weight="normal" fill="#222"  textLength="8.05" lengthAdjust="spacingAndGlyphs">R3</text>
<text x="187.20" y="305.00" font-size="7.0" text-anchor="middle" font-weight="normal" fill="#222"  textLength="8.05" lengthAdjust="spacingAndGlyphs">R1</text>
<text x="198.40" y="305.00" font-size="7.0" text-anchor="middle" font-weight="normal" fill="#222"  textLength="8.05" lengthAdjust="spacingAndGlyphs">R2</text>
<text x="209.60" y="305.00" font-size="7.0" text-anchor="middle" font-weight="normal" fill="#222"  textLength="8.05" lengthAdjust="spacingAndGlyphs">R3</text>
<text x="234.50" y="201.20" font-size="12.5" text-anchor="start" font-weight="bold" fill="#000" >D</text>
<line x1="278.10" y1="204.70" x2="278.10" y2="293.20" stroke="#111" stroke-width="1.2" />
<line x1="277.50" y1="292.60" x2="428.60" y2="292.60" stroke="#111" stroke-width="1.2" />
<line x1="274.90" y1="292.60" x2="278.10" y2="292.60" stroke="#111" stroke-width="1" />
<text x="271.40" y="295.10" font-size="7.1" text-anchor="end" font-weight="normal" fill="#222"  textLength="3.47" lengthAdjust="spacingAndGlyphs">0</text>
<line x1="274.90" y1="275.50" x2="278.10" y2="275.50" stroke="#111" stroke-width="1" />
<text x="271.40" y="278.00" font-size="7.1" text-anchor="end" font-weight="normal" fill="#222"  textLength="10.42" lengthAdjust="spacingAndGlyphs">500</text>
<line x1="274.90" y1="258.40" x2="278.10" y2="258.40" stroke="#111" stroke-width="1" />
<text x="271.40" y="260.90" font-size="7.1" text-anchor="end" font-weight="normal" fill="#222"  textLength="13.90" lengthAdjust="spacingAndGlyphs">1000</text>
<line x1="274.90" y1="241.30" x2="278.10" y2="241.30" stroke="#111" stroke-width="1" />
<text x="271.40" y="243.80" font-size="7.1" text-anchor="end" font-weight="normal" fill="#222"  textLength="13.90" lengthAdjust="spacingAndGlyphs">1500</text>
<line x1="274.90" y1="224.20" x2="278.10" y2="224.20" stroke="#111" stroke-width="1" />
<text x="271.40" y="226.70" font-size="7.1" text-anchor="end" font-weight="normal" fill="#222"  textLength="13.90" lengthAdjust="spacingAndGlyphs">2000</text>
<line x1="274.90" y1="207.10" x2="278.10" y2="207.10" stroke="#111" stroke-width="1" />
<text x="271.40" y="209.60" font-size="7.1" text-anchor="end" font-weight="normal" fill="#222"  textLength="13.90" lengthAdjust="spacingAndGlyphs">2500</text>
<line x1="278.10" y1="292.60" x2="278.10" y2="295.80" stroke="#111" stroke-width="1" />
<text x="278.10" y="304.80" font-size="7.1" text-anchor="middle" font-weight="normal" fill="#222"  textLength="3.63" lengthAdjust="spacingAndGlyphs">0</text>
<line x1="312.50" y1="292.60" x2="312.50" y2="295.80" stroke="#111" stroke-width="1" />
<text x="312.50" y="304.80" font-size="7.1" text-anchor="middle" font-weight="normal" fill="#222"  textLength="14.53" lengthAdjust="spacingAndGlyphs">5000</text>
<line x1="346.90" y1="292.60" x2="346.90" y2="295.80" stroke="#111" stroke-width="1" />
<text x="346.90" y="304.80" font-size="7.1" text-anchor="middle" font-weight="normal" fill="#222"  textLength="18.16" lengthAdjust="spacingAndGlyphs">10000</text>
<line x1="381.30" y1="292.60" x2="381.30" y2="295.80" stroke="#111" stroke-width="1" />
<text x="381.30" y="304.80" font-size="7.1" text-anchor="middle" font-weight="normal" fill="#222"  textLength="18.16" lengthAdjust="spacingAndGlyphs">15000</text>
<line x1="415.70" y1="292.60" x2="415.70" y2="295.80" stroke="#111" stroke-width="1" />
<text x="415.70" y="304.80" font-size="7.1" text-anchor="middle" font-weight="normal" fill="#222"  textLength="18.16" lengthAdjust="spacingAndGlyphs">20000</text>
<text x="353.00" y="318.60" font-size="9.5" text-anchor="middle" font-weight="normal" fill="#222"  textLength="85.00" lengthAdjust="spacingAndGlyphs">Sample size, TCR molecules</text>
<text x="251.80" y="248.20" font-size="8.8" text-anchor="middle" font-weight="normal" fill="#222" transform="rotate(-90 251.80 248.20)"  textLength="87.00" lengthAdjust="spacingAndGlyphs">Diversity, unique clonotypes</text>
<path d="M278.10,292.10 L278.31,291.82 L278.74,291.44 L279.32,291.02 L280.03,290.56 L280.86,290.08 L281.79,289.57 L282.82,289.05 L283.95,288.51 L285.16,287.96 L286.45,287.39 L287.83,286.80 L289.28,286.21 L290.81,285.60 L292.41,284.98 L294.08,284.36 L295.82,283.72 L297.62,283.07 L299.49,282.42 L301.43,281.76 L303.42,281.09 L305.48,280.41 L307.59,279.72 L309.77,279.03 L312.00,278.33 L314.29,277.62 L316.63,276.91 L319.03,276.19 L321.48,275.47 L323.99,274.73 L326.54,274.00 L329.15,273.25 L331.81,272.51 L334.52,271.75 L337.28,270.99 L340.09,270.23 L342.95,269.46 L345.86,268.69 L348.81,267.91 L351.81,267.12 L354.86,266.33 L357.95,265.54 L361.09,264.74 L364.28,263.94 L367.51,263.13 L370.78,262.32 L374.10,261.51 L377.46,260.69 L380.86,259.87 L384.31,259.04 L387.80,258.21 L391.33,257.38 L394.90,256.54 L398.52,255.69 L402.17,254.85 L405.87,254.00 L409.61,253.15 L413.38,252.29 L417.20,251.43 L421.06,250.56 L424.95,249.70" fill="none" stroke="#c9c9cf" stroke-width="0.7"/>
<path d="M278.10,293.10 L278.31,292.82 L278.74,292.45 L279.32,292.04 L280.03,291.60 L280.86,291.14 L281.79,290.65 L282.82,290.15 L283.95,289.63 L285.16,289.10 L286.45,288.56 L287.83,288.00 L289.28,287.44 L290.81,286.86 L292.41,286.28 L294.08,285.68 L295.82,285.08 L297.62,284.47 L299.49,283.86 L301.43,283.23 L303.42,282.60 L305.48,281.97 L307.59,281.33 L309.77,280.68 L312.00,280.02 L314.29,279.36 L316.63,278.70 L319.03,278.03 L321.48,277.35 L323.99,276.67 L326.54,275.99 L329.15,275.30 L331.81,274.60 L334.52,273.90 L337.28,273.20 L340.09,272.50 L342.95,271.78 L345.86,271.07 L348.81,270.35 L351.81,269.63 L354.86,268.90 L357.95,268.17 L361.09,267.44 L364.28,266.70 L367.51,265.96 L370.78,265.22 L374.10,264.47 L377.46,263.72 L380.86,262.97 L384.31,262.21 L387.80,261.45 L391.33,260.69 L394.90,259.92 L398.52,259.15 L402.17,258.38 L405.87,257.61 L409.61,256.83 L413.38,256.05 L417.20,255.27 L421.06,254.48 L424.95,253.70" fill="none" stroke="#c9c9cf" stroke-width="0.7"/>
<path d="M278.10,292.60 L278.31,292.32 L278.74,291.95 L279.32,291.53 L280.03,291.08 L280.86,290.61 L281.79,290.11 L282.82,289.60 L283.95,289.07 L285.16,288.53 L286.45,287.97 L287.83,287.40 L289.28,286.82 L290.81,286.23 L292.41,285.63 L294.08,285.02 L295.82,284.40 L297.62,283.77 L299.49,283.14 L301.43,282.50 L303.42,281.85 L305.48,281.19 L307.59,280.52 L309.77,279.85 L312.00,279.18 L314.29,278.49 L316.63,277.80 L319.03,277.11 L321.48,276.41 L323.99,275.70 L326.54,274.99 L329.15,274.28 L331.81,273.55 L334.52,272.83 L337.28,272.10 L340.09,271.36 L342.95,270.62 L345.86,269.88 L348.81,269.13 L351.81,268.38 L354.86,267.62 L357.95,266.86 L361.09,266.09 L364.28,265.32 L367.51,264.55 L370.78,263.77 L374.10,262.99 L377.46,262.21 L380.86,261.42 L384.31,260.63 L387.80,259.83 L391.33,259.03 L394.90,258.23 L398.52,257.42 L402.17,256.62 L405.87,255.80 L409.61,254.99 L413.38,254.17 L417.20,253.35 L421.06,252.52 L424.95,251.70 L424.95,251.70" fill="none" stroke="#3b5a9a" stroke-width="1.2"/>
<path d="M278.10,291.85 L278.31,290.85 L278.74,289.83 L279.32,288.79 L280.03,287.75 L280.86,286.70 L281.79,285.65 L282.82,284.59 L283.95,283.53 L285.16,282.46 L286.45,281.39 L287.83,280.32 L289.28,279.25 L290.81,278.17 L292.41,277.09 L294.08,276.01 L295.82,274.93 L297.62,273.84 L299.49,272.75 L301.43,271.66 L303.42,270.57 L305.48,269.48 L307.59,268.38 L309.77,267.29 L312.00,266.19 L314.29,265.09 L316.63,263.99 L319.03,262.88 L321.48,261.78 L323.99,260.68 L326.54,259.57 L329.15,258.46 L331.81,257.35 L334.52,256.24 L337.28,255.13 L340.09,254.01 L342.95,252.90 L345.86,251.78 L348.81,250.66 L351.81,249.55 L354.86,248.43 L357.95,247.31 L361.09,246.18 L364.28,245.06 L367.51,243.94 L370.78,242.81 L374.10,241.69 L377.46,240.56 L380.86,239.43 L384.31,238.30 L387.80,237.17 L391.33,236.04 L394.90,234.91 L398.52,233.78 L402.17,232.64 L405.87,231.51 L409.61,230.37 L413.38,229.23 L417.20,228.10 L421.06,226.96 L424.95,225.82" fill="none" stroke="#c9c9cf" stroke-width="0.7"/>
<path d="M278.10,293.35 L278.31,292.36 L278.74,291.35 L279.32,290.33 L280.03,289.31 L280.86,288.28 L281.79,287.26 L282.82,286.23 L283.95,285.20 L285.16,284.18 L286.45,283.15 L287.83,282.12 L289.28,281.09 L290.81,280.06 L292.41,279.03 L294.08,278.00 L295.82,276.97 L297.62,275.94 L299.49,274.91 L301.43,273.88 L303.42,272.85 L305.48,271.82 L307.59,270.79 L309.77,269.76 L312.00,268.73 L314.29,267.70 L316.63,266.67 L319.03,265.64 L321.48,264.61 L323.99,263.58 L326.54,262.55 L329.15,261.52 L331.81,260.50 L334.52,259.47 L337.28,258.44 L340.09,257.41 L342.95,256.39 L345.86,255.36 L348.81,254.33 L351.81,253.31 L354.86,252.28 L357.95,251.25 L361.09,250.23 L364.28,249.20 L367.51,248.18 L370.78,247.15 L374.10,246.13 L377.46,245.10 L380.86,244.08 L384.31,243.06 L387.80,242.03 L391.33,241.01 L394.90,239.99 L398.52,238.97 L402.17,237.94 L405.87,236.92 L409.61,235.90 L413.38,234.88 L417.20,233.86 L421.06,232.84 L424.95,231.82" fill="none" stroke="#c9c9cf" stroke-width="0.7"/>
<path d="M278.10,292.60 L278.31,291.60 L278.74,290.59 L279.32,289.56 L280.03,288.53 L280.86,287.49 L281.79,286.45 L282.82,285.41 L283.95,284.37 L285.16,283.32 L286.45,282.27 L287.83,281.22 L289.28,280.17 L290.81,279.11 L292.41,278.06 L294.08,277.00 L295.82,275.95 L297.62,274.89 L299.49,273.83 L301.43,272.77 L303.42,271.71 L305.48,270.65 L307.59,269.59 L309.77,268.52 L312.00,267.46 L314.29,266.39 L316.63,265.33 L319.03,264.26 L321.48,263.20 L323.99,262.13 L326.54,261.06 L329.15,259.99 L331.81,258.92 L334.52,257.85 L337.28,256.78 L340.09,255.71 L342.95,254.64 L345.86,253.57 L348.81,252.50 L351.81,251.43 L354.86,250.35 L357.95,249.28 L361.09,248.21 L364.28,247.13 L367.51,246.06 L370.78,244.98 L374.10,243.91 L377.46,242.83 L377.50,242.82" fill="none" stroke="#eba43a" stroke-width="1.2"/>
<path d="M377.50,242.82 L380.86,241.76 L384.31,240.68 L387.80,239.60 L391.33,238.53 L394.90,237.45 L398.52,236.37 L402.17,235.29 L405.87,234.21 L409.61,233.13 L413.38,232.06 L417.20,230.98 L421.06,229.90 L424.95,228.82" fill="none" stroke="#eba43a" stroke-width="1.2" stroke-dasharray="2.2,2.2"/>
<path d="M278.10,291.85 L278.31,290.73 L278.74,289.57 L279.32,288.39 L280.03,287.20 L280.86,286.01 L281.79,284.80 L282.82,283.59 L283.95,282.37 L285.16,281.15 L286.45,279.92 L287.83,278.69 L289.28,277.46 L290.81,276.22 L292.41,274.98 L294.08,273.73 L295.82,272.49 L297.62,271.24 L299.49,269.98 L301.43,268.73 L303.42,267.47 L305.48,266.21 L307.59,264.94 L309.77,263.68 L312.00,262.41 L314.29,261.14 L316.63,259.87 L319.03,258.60 L321.48,257.32 L323.99,256.04 L326.54,254.76 L329.15,253.48 L331.81,252.20 L334.52,250.92 L337.28,249.63 L340.09,248.34 L342.95,247.05 L345.86,245.76 L348.81,244.47 L351.81,243.18 L354.86,241.88 L357.95,240.58 L361.09,239.29 L364.28,237.99 L367.51,236.68 L370.78,235.38 L374.10,234.08 L377.46,232.77 L380.86,231.47 L384.31,230.16 L387.80,228.85 L391.33,227.54 L394.90,226.23 L398.52,224.92 L402.17,223.60 L405.87,222.29 L409.61,220.97 L413.38,219.65 L417.20,218.33 L421.06,217.01 L424.95,215.69" fill="none" stroke="#c9c9cf" stroke-width="0.7"/>
<path d="M278.10,293.35 L278.31,292.24 L278.74,291.09 L279.32,289.93 L280.03,288.76 L280.86,287.59 L281.79,286.41 L282.82,285.23 L283.95,284.05 L285.16,282.87 L286.45,281.68 L287.83,280.49 L289.28,279.30 L290.81,278.11 L292.41,276.92 L294.08,275.72 L295.82,274.53 L297.62,273.33 L299.49,272.14 L301.43,270.94 L303.42,269.74 L305.48,268.55 L307.59,267.35 L309.77,266.15 L312.00,264.95 L314.29,263.75 L316.63,262.55 L319.03,261.35 L321.48,260.15 L323.99,258.95 L326.54,257.75 L329.15,256.55 L331.81,255.35 L334.52,254.15 L337.28,252.94 L340.09,251.74 L342.95,250.54 L345.86,249.34 L348.81,248.14 L351.81,246.93 L354.86,245.73 L357.95,244.53 L361.09,243.33 L364.28,242.13 L367.51,240.92 L370.78,239.72 L374.10,238.52 L377.46,237.32 L380.86,236.12 L384.31,234.91 L387.80,233.71 L391.33,232.51 L394.90,231.31 L398.52,230.11 L402.17,228.90 L405.87,227.70 L409.61,226.50 L413.38,225.30 L417.20,224.10 L421.06,222.90 L424.95,221.69" fill="none" stroke="#c9c9cf" stroke-width="0.7"/>
<path d="M278.10,292.60 L278.31,291.48 L278.74,290.33 L279.32,289.16 L280.03,287.98 L280.86,286.80 L281.79,285.61 L282.82,284.41 L283.95,283.21 L285.16,282.01 L286.45,280.80 L287.83,279.59 L289.28,278.38 L290.81,277.16 L292.41,275.95 L294.08,274.73 L295.82,273.51 L297.62,272.28 L299.49,271.06 L301.43,269.83 L303.42,268.61 L305.48,267.38 L307.59,266.15 L309.77,264.91 L312.00,263.68 L314.29,262.45 L316.63,261.21 L319.03,259.97 L321.48,258.74 L323.99,257.50 L326.54,256.26 L329.15,255.02 L331.81,253.77 L334.52,252.53 L337.28,251.29 L340.09,250.04 L342.95,248.80 L345.86,247.55 L348.81,246.30 L351.81,245.06 L354.86,243.81 L357.95,242.56 L361.09,241.31 L364.28,240.06 L367.51,238.80 L370.78,237.55 L374.10,236.30 L377.46,235.05 L380.86,233.79 L381.30,233.63" fill="none" stroke="#7cb84e" stroke-width="1.2"/>
<path d="M381.30,233.63 L384.31,232.54 L387.80,231.28 L391.33,230.02 L394.90,228.77 L398.52,227.51 L402.17,226.25 L405.87,224.99 L409.61,223.74 L413.38,222.48 L417.20,221.22 L421.06,219.95 L424.95,218.69" fill="none" stroke="#7cb84e" stroke-width="1.2" stroke-dasharray="2.2,2.2"/>
<path d="M278.10,291.80 L278.31,290.55 L278.74,289.26 L279.32,287.95 L280.03,286.62 L280.86,285.29 L281.79,283.94 L282.82,282.59 L283.95,281.24 L285.16,279.88 L286.45,278.51 L287.83,277.14 L289.28,275.76 L290.81,274.38 L292.41,273.00 L294.08,271.62 L295.82,270.23 L297.62,268.83 L299.49,267.44 L301.43,266.04 L303.42,264.64 L305.48,263.23 L307.59,261.83 L309.77,260.42 L312.00,259.01 L314.29,257.59 L316.63,256.18 L319.03,254.76 L321.48,253.34 L323.99,251.92 L326.54,250.49 L329.15,249.07 L331.81,247.64 L334.52,246.21 L337.28,244.78 L340.09,243.34 L342.95,241.91 L345.86,240.47 L348.81,239.03 L351.81,237.59 L354.86,236.15 L357.95,234.71 L361.09,233.26 L364.28,231.82 L367.51,230.37 L370.78,228.92 L374.10,227.47 L377.46,226.02 L380.86,224.56 L384.31,223.11 L387.80,221.65 L391.33,220.19 L394.90,218.73 L398.52,217.27 L402.17,215.81 L405.87,214.35 L409.61,212.88 L413.38,211.42 L417.20,209.95 L421.06,208.48 L424.95,207.01" fill="none" stroke="#c9c9cf" stroke-width="0.7"/>
<path d="M278.10,293.40 L278.31,292.16 L278.74,290.88 L279.32,289.59 L280.03,288.28 L280.86,286.98 L281.79,285.66 L282.82,284.35 L283.95,283.03 L285.16,281.71 L286.45,280.38 L287.83,279.06 L289.28,277.73 L290.81,276.40 L292.41,275.07 L294.08,273.74 L295.82,272.41 L297.62,271.07 L299.49,269.74 L301.43,268.40 L303.42,267.07 L305.48,265.73 L307.59,264.39 L309.77,263.05 L312.00,261.72 L314.29,260.38 L316.63,259.04 L319.03,257.70 L321.48,256.36 L323.99,255.02 L326.54,253.68 L329.15,252.34 L331.81,251.00 L334.52,249.65 L337.28,248.31 L340.09,246.97 L342.95,245.63 L345.86,244.29 L348.81,242.95 L351.81,241.60 L354.86,240.26 L357.95,238.92 L361.09,237.58 L364.28,236.23 L367.51,234.89 L370.78,233.55 L374.10,232.21 L377.46,230.86 L380.86,229.52 L384.31,228.18 L387.80,226.84 L391.33,225.49 L394.90,224.15 L398.52,222.81 L402.17,221.47 L405.87,220.12 L409.61,218.78 L413.38,217.44 L417.20,216.10 L421.06,214.75 L424.95,213.41" fill="none" stroke="#c9c9cf" stroke-width="0.7"/>
<path d="M278.10,292.60 L278.31,291.36 L278.74,290.07 L279.32,288.77 L280.03,287.45 L280.86,286.13 L281.79,284.80 L282.82,283.47 L283.95,282.13 L285.16,280.79 L286.45,279.45 L287.83,278.10 L289.28,276.75 L290.81,275.39 L292.41,274.04 L294.08,272.68 L295.82,271.32 L297.62,269.95 L299.49,268.59 L301.43,267.22 L303.42,265.85 L305.48,264.48 L307.59,263.11 L309.77,261.74 L312.00,260.36 L314.29,258.99 L316.63,257.61 L319.03,256.23 L321.48,254.85 L323.99,253.47 L326.54,252.09 L329.15,250.70 L331.81,249.32 L334.52,247.93 L337.28,246.55 L340.09,245.16 L342.95,243.77 L345.86,242.38 L348.81,240.99 L351.81,239.60 L354.86,238.21 L357.95,236.81 L360.20,235.82" fill="none" stroke="#b8203e" stroke-width="1.2"/>
<path d="M360.20,235.82 L361.09,235.42 L364.28,234.03 L367.51,232.63 L370.78,231.23 L374.10,229.84 L377.46,228.44 L380.86,227.04 L384.31,225.64 L387.80,224.24 L391.33,222.84 L394.90,221.44 L398.52,220.04 L402.17,218.64 L405.87,217.24 L409.61,215.83 L413.38,214.43 L417.20,213.02 L421.06,211.62 L424.95,210.21" fill="none" stroke="#b8203e" stroke-width="1.2" stroke-dasharray="2.2,2.2"/>
<text x="281.90" y="210.10" font-size="6.8" text-anchor="start" font-weight="normal" fill="#222"  textLength="48.00" lengthAdjust="spacingAndGlyphs">Sample size:21,345</text>
<circle cx="283.10" cy="216.50" r="1.9" fill="#3b5a9a" stroke="none" stroke-width="0"/>
<circle cx="283.10" cy="216.50" r="0.45" fill="#fff" stroke="none" stroke-width="0"/>
<text x="287.30" y="218.90" font-size="7.0" text-anchor="start" font-weight="normal" fill="#222"  textLength="45.13" lengthAdjust="spacingAndGlyphs">DP402 DM (1203)</text>
<circle cx="283.10" cy="225.50" r="1.9" fill="#eba43a" stroke="none" stroke-width="0"/>
<circle cx="283.10" cy="225.50" r="0.45" fill="#fff" stroke="none" stroke-width="0"/>
<text x="287.30" y="227.90" font-size="7.0" text-anchor="start" font-weight="normal" fill="#222"  textLength="42.01" lengthAdjust="spacingAndGlyphs">DP10 DM (1856)</text>
<circle cx="283.10" cy="234.50" r="1.9" fill="#7cb84e" stroke="none" stroke-width="0"/>
<circle cx="283.10" cy="234.50" r="0.45" fill="#fff" stroke="none" stroke-width="0"/>
<text x="287.30" y="236.90" font-size="7.0" text-anchor="start" font-weight="normal" fill="#222"  textLength="34.86" lengthAdjust="spacingAndGlyphs">DP402 (2179)</text>
<circle cx="283.10" cy="243.50" r="1.9" fill="#b8203e" stroke="none" stroke-width="0"/>
<circle cx="283.10" cy="243.50" r="0.45" fill="#fff" stroke="none" stroke-width="0"/>
<text x="287.30" y="245.90" font-size="7.0" text-anchor="start" font-weight="normal" fill="#222"  textLength="31.75" lengthAdjust="spacingAndGlyphs">DP10 (2424)</text>
<text x="6.90" y="345.80" font-size="12.5" text-anchor="start" font-weight="bold" fill="#000" >E</text>
<text x="113.20" y="353.90" font-size="6.6" text-anchor="middle" font-weight="bold" fill="#1a1a1a"  textLength="17.10" lengthAdjust="spacingAndGlyphs">IZTF-3</text>
<line x1="58.20" y1="357.80" x2="168.90" y2="357.80" stroke="#3a3a3a" stroke-width="1.6" />
<text x="251.20" y="353.90" font-size="6.6" text-anchor="middle" font-weight="bold" fill="#1a1a1a"  textLength="20.00" lengthAdjust="spacingAndGlyphs">IZTF-28</text>
<line x1="195.50" y1="357.80" x2="306.30" y2="357.80" stroke="#3a3a3a" stroke-width="1.6" />
<text x="23.00" y="401.40" font-size="6.8" text-anchor="middle" font-weight="normal" fill="#222"  textLength="27.00" lengthAdjust="spacingAndGlyphs">Allogeneic</text>
<text x="21.85" y="472.90" font-size="6.6" text-anchor="middle" font-weight="normal" fill="#222"  textLength="28.90" lengthAdjust="spacingAndGlyphs">Autologous</text>
<text x="79.50" y="366.40" font-size="7.3" text-anchor="middle" font-weight="normal" fill="#222"  textLength="28.56" lengthAdjust="spacingAndGlyphs">DP402 DM</text>
<text x="79.50" y="373.50" font-size="3.7" text-anchor="middle" font-weight="normal" fill="#444"  textLength="47.00" lengthAdjust="spacingAndGlyphs">|CD4+) CD137 APC / CD4 PC7</text>
<rect x="57.40" y="376.90" width="43.00" height="42.60" fill="#fff" stroke="#b4b4b4" stroke-width="0.6" />
<line x1="57.40" y1="376.90" x2="57.40" y2="419.50" stroke="#8a8a8a" stroke-width="0.7" />
<line x1="57.40" y1="419.50" x2="100.40" y2="419.50" stroke="#8a8a8a" stroke-width="0.7" />
<line x1="56.10" y1="378.00" x2="57.40" y2="378.00" stroke="#999" stroke-width="0.5" />
<line x1="56.10" y1="386.30" x2="57.40" y2="386.30" stroke="#999" stroke-width="0.5" />
<line x1="56.10" y1="396.30" x2="57.40" y2="396.30" stroke="#999" stroke-width="0.5" />
<line x1="56.10" y1="405.40" x2="57.40" y2="405.40" stroke="#999" stroke-width="0.5" />
<line x1="56.10" y1="414.00" x2="57.40" y2="414.00" stroke="#999" stroke-width="0.5" />
<line x1="56.10" y1="418.50" x2="57.40" y2="418.50" stroke="#999" stroke-width="0.5" />
<line x1="60.40" y1="419.50" x2="60.40" y2="420.80" stroke="#999" stroke-width="0.5" />
<line x1="70.40" y1="419.50" x2="70.40" y2="420.80" stroke="#999" stroke-width="0.5" />
<line x1="80.40" y1="419.50" x2="80.40" y2="420.80" stroke="#999" stroke-width="0.5" />
<line x1="90.40" y1="419.50" x2="90.40" y2="420.80" stroke="#999" stroke-width="0.5" />
<line x1="100.40" y1="419.50" x2="100.40" y2="420.80" stroke="#999" stroke-width="0.5" />
<text x="54.20" y="379.30" font-size="3.8" text-anchor="end" font-weight="normal" fill="#666" >10<tspan dy="-1.3" font-size="2.4">4</tspan></text>
<text x="54.20" y="387.60" font-size="3.8" text-anchor="end" font-weight="normal" fill="#666" >10<tspan dy="-1.3" font-size="2.4">3</tspan></text>
<text x="54.20" y="397.60" font-size="3.8" text-anchor="end" font-weight="normal" fill="#666" >10<tspan dy="-1.3" font-size="2.4">2</tspan></text>
<text x="54.20" y="406.70" font-size="3.8" text-anchor="end" font-weight="normal" fill="#666" >10<tspan dy="-1.3" font-size="2.4">1</tspan></text>
<text x="54.20" y="415.30" font-size="3.8" text-anchor="end" font-weight="normal" fill="#666" >-10<tspan dy="-1.3" font-size="2.4">1</tspan></text>
<text x="54.20" y="419.80" font-size="3.8" text-anchor="end" font-weight="normal" fill="#666" >0</text>
<text x="59.40" y="425.70" font-size="3.8" text-anchor="middle" font-weight="normal" fill="#666" >0 10<tspan dy="-1.3" font-size="2.4">-1</tspan></text>
<text x="70.30" y="425.70" font-size="3.8" text-anchor="middle" font-weight="normal" fill="#666" >10<tspan dy="-1.3" font-size="2.4">1</tspan></text>
<text x="80.30" y="425.70" font-size="3.8" text-anchor="middle" font-weight="normal" fill="#666" >10<tspan dy="-1.3" font-size="2.4">2</tspan></text>
<text x="89.80" y="425.70" font-size="3.8" text-anchor="middle" font-weight="normal" fill="#666" >10<tspan dy="-1.3" font-size="2.4">3</tspan></text>
<text x="98.10" y="425.70" font-size="3.8" text-anchor="middle" font-weight="normal" fill="#666" >10<tspan dy="-1.3" font-size="2.4">4</tspan></text>
<text x="79.70" y="435.40" font-size="6.4" text-anchor="middle" font-weight="normal" fill="#2a2a2a"  textLength="22.30" lengthAdjust="spacingAndGlyphs">CD137 APC</text>
<text x="44.00" y="398.90" font-size="6.2" text-anchor="middle" font-weight="normal" fill="#2a2a2a" transform="rotate(-90 44.00 398.90)"  textLength="18.50" lengthAdjust="spacingAndGlyphs">CD4 PC7</text>
<rect x="67.40" y="379.40" width="31.60" height="24.40" fill="none" stroke="#8a8a8a" stroke-width="0.6" />
<rect x="86.40" y="398.50" width="12.10" height="4.60" fill="#fff" stroke="#aaa" stroke-width="0.35" />
<text x="92.50" y="402.20" font-size="4.2" text-anchor="middle" font-weight="normal" fill="#333"  textLength="10.20" lengthAdjust="spacingAndGlyphs">12,24%</text>
<ellipse cx="63.00" cy="393.40" rx="2.6" ry="3.0" fill="#8dbde6" fill-opacity="0.75" filter="url(#bl1)" transform="rotate(0 63.00 393.40)"/>
<circle cx="62.54" cy="394.42" r="0.45" fill="#6aa6da" fill-opacity="0.6"/>
<circle cx="62.59" cy="392.77" r="0.45" fill="#6aa6da" fill-opacity="0.6"/>
<circle cx="61.33" cy="392.97" r="0.45" fill="#6aa6da" fill-opacity="0.6"/>
<circle cx="65.00" cy="394.25" r="0.45" fill="#6aa6da" fill-opacity="0.6"/>
<circle cx="64.87" cy="393.90" r="0.45" fill="#6aa6da" fill-opacity="0.6"/>
<circle cx="63.71" cy="393.77" r="0.45" fill="#6aa6da" fill-opacity="0.6"/>
<circle cx="60.00" cy="395.11" r="0.45" fill="#6aa6da" fill-opacity="0.6"/>
<circle cx="63.91" cy="394.40" r="0.45" fill="#6aa6da" fill-opacity="0.6"/>
<circle cx="59.96" cy="389.91" r="0.45" fill="#6aa6da" fill-opacity="0.6"/>
<circle cx="61.40" cy="392.46" r="0.45" fill="#6aa6da" fill-opacity="0.6"/>
<circle cx="63.55" cy="393.31" r="0.45" fill="#6aa6da" fill-opacity="0.6"/>
<circle cx="63.94" cy="392.12" r="0.45" fill="#6aa6da" fill-opacity="0.6"/>
<circle cx="63.56" cy="394.19" r="0.45" fill="#6aa6da" fill-opacity="0.6"/>
<circle cx="61.81" cy="396.84" r="0.45" fill="#6aa6da" fill-opacity="0.6"/>
<circle cx="64.00" cy="395.79" r="0.45" fill="#6aa6da" fill-opacity="0.6"/>
<circle cx="61.88" cy="391.92" r="0.45" fill="#6aa6da" fill-opacity="0.6"/>
<circle cx="62.38" cy="393.19" r="0.45" fill="#6aa6da" fill-opacity="0.6"/>
<circle cx="64.14" cy="393.90" r="0.45" fill="#6aa6da" fill-opacity="0.6"/>
<circle cx="62.19" cy="391.49" r="0.45" fill="#6aa6da" fill-opacity="0.6"/>
<circle cx="62.06" cy="395.84" r="0.45" fill="#6aa6da" fill-opacity="0.6"/>
<circle cx="61.55" cy="393.89" r="0.45" fill="#6aa6da" fill-opacity="0.6"/>
<circle cx="63.77" cy="390.42" r="0.45" fill="#6aa6da" fill-opacity="0.6"/>
<circle cx="63.09" cy="396.01" r="0.45" fill="#6aa6da" fill-opacity="0.6"/>
<circle cx="59.37" cy="392.76" r="0.45" fill="#6aa6da" fill-opacity="0.6"/>
<circle cx="62.81" cy="391.77" r="0.45" fill="#6aa6da" fill-opacity="0.6"/>
<circle cx="63.90" cy="393.28" r="0.45" fill="#6aa6da" fill-opacity="0.6"/>
<circle cx="60.36" cy="395.06" r="0.45" fill="#6aa6da" fill-opacity="0.6"/>
<circle cx="64.20" cy="395.29" r="0.45" fill="#6aa6da" fill-opacity="0.6"/>
<circle cx="65.59" cy="394.12" r="0.45" fill="#6aa6da" fill-opacity="0.6"/>
<circle cx="63.21" cy="390.80" r="0.45" fill="#6aa6da" fill-opacity="0.6"/>
<circle cx="64.11" cy="392.18" r="0.45" fill="#6aa6da" fill-opacity="0.6"/>
<circle cx="62.19" cy="390.87" r="0.45" fill="#6aa6da" fill-opacity="0.6"/>
<circle cx="61.26" cy="392.34" r="0.45" fill="#6aa6da" fill-opacity="0.6"/>
<circle cx="65.32" cy="389.34" r="0.45" fill="#6aa6da" fill-opacity="0.6"/>
<circle cx="60.38" cy="393.88" r="0.45" fill="#6aa6da" fill-opacity="0.6"/>
<circle cx="65.60" cy="394.56" r="0.45" fill="#6aa6da" fill-opacity="0.6"/>
<circle cx="59.58" cy="388.36" r="0.45" fill="#6aa6da" fill-opacity="0.6"/>
<circle cx="63.64" cy="391.93" r="0.45" fill="#6aa6da" fill-opacity="0.6"/>
<circle cx="60.98" cy="395.35" r="0.45" fill="#6aa6da" fill-opacity="0.6"/>
<circle cx="64.98" cy="393.71" r="0.45" fill="#6aa6da" fill-opacity="0.6"/>
<circle cx="63.44" cy="394.27" r="0.45" fill="#6aa6da" fill-opacity="0.6"/>
<circle cx="65.87" cy="394.64" r="0.45" fill="#6aa6da" fill-opacity="0.6"/>
<circle cx="63.93" cy="394.50" r="0.45" fill="#6aa6da" fill-opacity="0.6"/>
<circle cx="60.18" cy="395.96" r="0.45" fill="#6aa6da" fill-opacity="0.6"/>
<circle cx="64.72" cy="394.46" r="0.45" fill="#6aa6da" fill-opacity="0.6"/>
<circle cx="82.74" cy="391.50" r="0.45" fill="#a8c4e8" fill-opacity="0.5"/>
<circle cx="71.42" cy="387.97" r="0.45" fill="#a8c4e8" fill-opacity="0.5"/>
<circle cx="64.84" cy="396.46" r="0.45" fill="#a8c4e8" fill-opacity="0.5"/>
<circle cx="76.11" cy="398.23" r="0.45" fill="#a8c4e8" fill-opacity="0.5"/>
<circle cx="68.52" cy="392.95" r="0.45" fill="#a8c4e8" fill-opacity="0.5"/>
<circle cx="66.25" cy="395.35" r="0.45" fill="#a8c4e8" fill-opacity="0.5"/>
<circle cx="64.20" cy="396.84" r="0.45" fill="#a8c4e8" fill-opacity="0.5"/>
<circle cx="69.62" cy="392.16" r="0.45" fill="#a8c4e8" fill-opacity="0.5"/>
<circle cx="73.42" cy="393.48" r="0.45" fill="#a8c4e8" fill-opacity="0.5"/>
<circle cx="71.80" cy="396.24" r="0.45" fill="#a8c4e8" fill-opacity="0.5"/>
<circle cx="77.65" cy="392.07" r="0.45" fill="#a8c4e8" fill-opacity="0.5"/>
<circle cx="76.80" cy="393.00" r="0.45" fill="#a8c4e8" fill-opacity="0.5"/>
<circle cx="64.49" cy="392.51" r="0.45" fill="#a8c4e8" fill-opacity="0.5"/>
<circle cx="77.05" cy="390.32" r="0.45" fill="#a8c4e8" fill-opacity="0.5"/>
<circle cx="75.61" cy="389.60" r="0.45" fill="#a8c4e8" fill-opacity="0.5"/>
<circle cx="70.87" cy="395.29" r="0.45" fill="#a8c4e8" fill-opacity="0.5"/>
<circle cx="74.29" cy="395.98" r="0.45" fill="#a8c4e8" fill-opacity="0.5"/>
<circle cx="66.45" cy="393.83" r="0.45" fill="#a8c4e8" fill-opacity="0.5"/>
<circle cx="64.52" cy="395.13" r="0.45" fill="#a8c4e8" fill-opacity="0.5"/>
<circle cx="64.76" cy="394.23" r="0.45" fill="#a8c4e8" fill-opacity="0.5"/>
<circle cx="68.73" cy="393.40" r="0.45" fill="#a8c4e8" fill-opacity="0.5"/>
<circle cx="70.64" cy="395.10" r="0.45" fill="#a8c4e8" fill-opacity="0.5"/>
<circle cx="83.11" cy="394.37" r="0.45" fill="#a8c4e8" fill-opacity="0.5"/>
<circle cx="67.28" cy="392.28" r="0.45" fill="#a8c4e8" fill-opacity="0.5"/>
<circle cx="63.13" cy="396.17" r="0.45" fill="#a8c4e8" fill-opacity="0.5"/>
<circle cx="66.37" cy="394.56" r="0.45" fill="#a8c4e8" fill-opacity="0.5"/>
<circle cx="81.37" cy="385.71" r="0.45" fill="#a8c4e8" fill-opacity="0.5"/>
<circle cx="74.24" cy="394.13" r="0.45" fill="#a8c4e8" fill-opacity="0.5"/>
<circle cx="66.98" cy="394.12" r="0.45" fill="#a8c4e8" fill-opacity="0.5"/>
<circle cx="67.31" cy="395.37" r="0.45" fill="#a8c4e8" fill-opacity="0.5"/>
<circle cx="65.82" cy="391.83" r="0.45" fill="#a8c4e8" fill-opacity="0.5"/>
<circle cx="87.30" cy="394.47" r="0.45" fill="#a8c4e8" fill-opacity="0.5"/>
<circle cx="68.54" cy="393.10" r="0.45" fill="#a8c4e8" fill-opacity="0.5"/>
<circle cx="65.26" cy="393.21" r="0.45" fill="#a8c4e8" fill-opacity="0.5"/>
<circle cx="90.28" cy="391.94" r="0.45" fill="#a8c4e8" fill-opacity="0.5"/>
<circle cx="73.09" cy="389.89" r="0.45" fill="#a8c4e8" fill-opacity="0.5"/>
<circle cx="63.67" cy="396.26" r="0.45" fill="#a8c4e8" fill-opacity="0.5"/>
<circle cx="71.56" cy="397.87" r="0.45" fill="#a8c4e8" fill-opacity="0.5"/>
<circle cx="80.01" cy="392.34" r="0.45" fill="#a8c4e8" fill-opacity="0.5"/>
<circle cx="66.41" cy="395.27" r="0.45" fill="#a8c4e8" fill-opacity="0.5"/>
<text x="148.40" y="366.40" font-size="7.3" text-anchor="middle" font-weight="normal" fill="#222"  textLength="17.86" lengthAdjust="spacingAndGlyphs">DP402</text>
<text x="148.40" y="373.50" font-size="3.7" text-anchor="middle" font-weight="normal" fill="#444"  textLength="47.00" lengthAdjust="spacingAndGlyphs">|CD4+) CD137 APC / CD4 PC7</text>
<rect x="126.30" y="376.90" width="43.00" height="42.60" fill="#fff" stroke="#b4b4b4" stroke-width="0.6" />
<line x1="126.30" y1="376.90" x2="126.30" y2="419.50" stroke="#8a8a8a" stroke-width="0.7" />
<line x1="126.30" y1="419.50" x2="169.30" y2="419.50" stroke="#8a8a8a" stroke-width="0.7" />
<line x1="125.00" y1="378.00" x2="126.30" y2="378.00" stroke="#999" stroke-width="0.5" />
<line x1="125.00" y1="386.30" x2="126.30" y2="386.30" stroke="#999" stroke-width="0.5" />
<line x1="125.00" y1="396.30" x2="126.30" y2="396.30" stroke="#999" stroke-width="0.5" />
<line x1="125.00" y1="405.40" x2="126.30" y2="405.40" stroke="#999" stroke-width="0.5" />
<line x1="125.00" y1="414.00" x2="126.30" y2="414.00" stroke="#999" stroke-width="0.5" />
<line x1="125.00" y1="418.50" x2="126.30" y2="418.50" stroke="#999" stroke-width="0.5" />
<line x1="129.30" y1="419.50" x2="129.30" y2="420.80" stroke="#999" stroke-width="0.5" />
<line x1="139.30" y1="419.50" x2="139.30" y2="420.80" stroke="#999" stroke-width="0.5" />
<line x1="149.30" y1="419.50" x2="149.30" y2="420.80" stroke="#999" stroke-width="0.5" />
<line x1="159.30" y1="419.50" x2="159.30" y2="420.80" stroke="#999" stroke-width="0.5" />
<line x1="169.30" y1="419.50" x2="169.30" y2="420.80" stroke="#999" stroke-width="0.5" />
<text x="123.10" y="379.30" font-size="3.8" text-anchor="end" font-weight="normal" fill="#666" >10<tspan dy="-1.3" font-size="2.4">4</tspan></text>
<text x="123.10" y="387.60" font-size="3.8" text-anchor="end" font-weight="normal" fill="#666" >10<tspan dy="-1.3" font-size="2.4">3</tspan></text>
<text x="123.10" y="397.60" font-size="3.8" text-anchor="end" font-weight="normal" fill="#666" >10<tspan dy="-1.3" font-size="2.4">2</tspan></text>
<text x="123.10" y="406.70" font-size="3.8" text-anchor="end" font-weight="normal" fill="#666" >10<tspan dy="-1.3" font-size="2.4">1</tspan></text>
<text x="123.10" y="415.30" font-size="3.8" text-anchor="end" font-weight="normal" fill="#666" >-10<tspan dy="-1.3" font-size="2.4">1</tspan></text>
<text x="123.10" y="419.80" font-size="3.8" text-anchor="end" font-weight="normal" fill="#666" >0</text>
<text x="128.30" y="425.70" font-size="3.8" text-anchor="middle" font-weight="normal" fill="#666" >0 10<tspan dy="-1.3" font-size="2.4">-1</tspan></text>
<text x="139.20" y="425.70" font-size="3.8" text-anchor="middle" font-weight="normal" fill="#666" >10<tspan dy="-1.3" font-size="2.4">1</tspan></text>
<text x="149.20" y="425.70" font-size="3.8" text-anchor="middle" font-weight="normal" fill="#666" >10<tspan dy="-1.3" font-size="2.4">2</tspan></text>
<text x="158.70" y="425.70" font-size="3.8" text-anchor="middle" font-weight="normal" fill="#666" >10<tspan dy="-1.3" font-size="2.4">3</tspan></text>
<text x="167.00" y="425.70" font-size="3.8" text-anchor="middle" font-weight="normal" fill="#666" >10<tspan dy="-1.3" font-size="2.4">4</tspan></text>
<text x="148.60" y="435.40" font-size="6.4" text-anchor="middle" font-weight="normal" fill="#2a2a2a"  textLength="22.30" lengthAdjust="spacingAndGlyphs">CD137 APC</text>
<text x="112.90" y="398.90" font-size="6.2" text-anchor="middle" font-weight="normal" fill="#2a2a2a" transform="rotate(-90 112.90 398.90)"  textLength="18.50" lengthAdjust="spacingAndGlyphs">CD4 PC7</text>
<rect x="136.30" y="379.40" width="31.60" height="24.40" fill="none" stroke="#8a8a8a" stroke-width="0.6" />
<rect x="155.30" y="398.50" width="12.10" height="4.60" fill="#fff" stroke="#aaa" stroke-width="0.35" />
<text x="161.40" y="402.20" font-size="4.2" text-anchor="middle" font-weight="normal" fill="#333"  textLength="10.20" lengthAdjust="spacingAndGlyphs">48,53%</text>
<ellipse cx="132.90" cy="393.90" rx="3.0" ry="2.2" fill="#a9cbea" fill-opacity="0.5" filter="url(#bl1)" transform="rotate(0 132.90 393.90)"/>
<ellipse cx="143.90" cy="392.90" rx="10" ry="2.6" fill="#d0dcf0" fill-opacity="0.35" filter="url(#bl1)" transform="rotate(0 143.90 392.90)"/>
<circle cx="147.91" cy="386.16" r="0.45" fill="#a8cce8" fill-opacity="0.45"/>
<circle cx="142.91" cy="388.69" r="0.45" fill="#a8cce8" fill-opacity="0.45"/>
<circle cx="137.83" cy="395.97" r="0.45" fill="#9aaee0" fill-opacity="0.45"/>
<circle cx="138.48" cy="393.17" r="0.45" fill="#9aaee0" fill-opacity="0.45"/>
<circle cx="134.93" cy="396.93" r="0.45" fill="#a8cce8" fill-opacity="0.45"/>
<circle cx="152.36" cy="394.21" r="0.45" fill="#a8cce8" fill-opacity="0.45"/>
<circle cx="145.96" cy="392.06" r="0.45" fill="#9aaee0" fill-opacity="0.45"/>
<circle cx="136.96" cy="394.72" r="0.45" fill="#9aaee0" fill-opacity="0.45"/>
<circle cx="144.70" cy="389.14" r="0.45" fill="#a8cce8" fill-opacity="0.45"/>
<circle cx="143.77" cy="393.26" r="0.45" fill="#a8cce8" fill-opacity="0.45"/>
<circle cx="149.83" cy="394.30" r="0.45" fill="#a8cce8" fill-opacity="0.45"/>
<circle cx="139.59" cy="389.10" r="0.45" fill="#9aaee0" fill-opacity="0.45"/>
<circle cx="144.33" cy="396.59" r="0.45" fill="#9aaee0" fill-opacity="0.45"/>
<circle cx="145.12" cy="386.66" r="0.45" fill="#9aaee0" fill-opacity="0.45"/>
<circle cx="149.59" cy="395.89" r="0.45" fill="#a8cce8" fill-opacity="0.45"/>
<circle cx="138.66" cy="394.16" r="0.45" fill="#9aaee0" fill-opacity="0.45"/>
<circle cx="152.38" cy="389.93" r="0.45" fill="#9aaee0" fill-opacity="0.45"/>
<circle cx="150.16" cy="386.52" r="0.45" fill="#a8cce8" fill-opacity="0.45"/>
<circle cx="136.08" cy="395.64" r="0.45" fill="#9aaee0" fill-opacity="0.45"/>
<circle cx="165.04" cy="392.31" r="0.45" fill="#a8cce8" fill-opacity="0.45"/>
<circle cx="153.16" cy="391.41" r="0.45" fill="#9aaee0" fill-opacity="0.45"/>
<circle cx="150.15" cy="389.25" r="0.45" fill="#9aaee0" fill-opacity="0.45"/>
<circle cx="135.79" cy="395.20" r="0.45" fill="#9aaee0" fill-opacity="0.45"/>
<circle cx="135.20" cy="392.27" r="0.45" fill="#9aaee0" fill-opacity="0.45"/>
<circle cx="152.31" cy="396.24" r="0.45" fill="#9aaee0" fill-opacity="0.45"/>
<circle cx="141.96" cy="393.72" r="0.45" fill="#a8cce8" fill-opacity="0.45"/>
<circle cx="149.49" cy="395.09" r="0.45" fill="#a8cce8" fill-opacity="0.45"/>
<circle cx="141.03" cy="392.36" r="0.45" fill="#9aaee0" fill-opacity="0.45"/>
<circle cx="134.41" cy="393.84" r="0.45" fill="#9aaee0" fill-opacity="0.45"/>
<circle cx="137.96" cy="391.69" r="0.45" fill="#9aaee0" fill-opacity="0.45"/>
<circle cx="133.72" cy="390.29" r="0.45" fill="#9aaee0" fill-opacity="0.45"/>
<circle cx="141.81" cy="392.55" r="0.45" fill="#a8cce8" fill-opacity="0.45"/>
<circle cx="146.98" cy="394.55" r="0.45" fill="#9aaee0" fill-opacity="0.45"/>
<circle cx="132.72" cy="397.43" r="0.45" fill="#a8cce8" fill-opacity="0.45"/>
<circle cx="145.10" cy="391.21" r="0.45" fill="#a8cce8" fill-opacity="0.45"/>
<circle cx="142.09" cy="394.04" r="0.45" fill="#a8cce8" fill-opacity="0.45"/>
<circle cx="144.75" cy="392.48" r="0.45" fill="#9aaee0" fill-opacity="0.45"/>
<circle cx="140.17" cy="392.42" r="0.45" fill="#a8cce8" fill-opacity="0.45"/>
<circle cx="134.96" cy="388.59" r="0.45" fill="#a8cce8" fill-opacity="0.45"/>
<circle cx="135.05" cy="396.31" r="0.45" fill="#a8cce8" fill-opacity="0.45"/>
<circle cx="139.10" cy="391.94" r="0.45" fill="#9aaee0" fill-opacity="0.45"/>
<circle cx="131.91" cy="393.73" r="0.45" fill="#9aaee0" fill-opacity="0.45"/>
<circle cx="150.57" cy="394.05" r="0.45" fill="#a8cce8" fill-opacity="0.45"/>
<circle cx="140.98" cy="392.11" r="0.45" fill="#a8cce8" fill-opacity="0.45"/>
<circle cx="132.63" cy="392.24" r="0.45" fill="#a8cce8" fill-opacity="0.45"/>
<circle cx="143.49" cy="392.48" r="0.45" fill="#a8cce8" fill-opacity="0.45"/>
<circle cx="138.10" cy="394.74" r="0.45" fill="#a8cce8" fill-opacity="0.45"/>
<circle cx="139.13" cy="391.80" r="0.45" fill="#9aaee0" fill-opacity="0.45"/>
<circle cx="137.86" cy="392.89" r="0.45" fill="#9aaee0" fill-opacity="0.45"/>
<circle cx="135.25" cy="396.72" r="0.45" fill="#9aaee0" fill-opacity="0.45"/>
<circle cx="139.08" cy="392.18" r="0.45" fill="#9aaee0" fill-opacity="0.45"/>
<circle cx="135.44" cy="396.15" r="0.45" fill="#a8cce8" fill-opacity="0.45"/>
<circle cx="165.23" cy="394.47" r="0.45" fill="#a8cce8" fill-opacity="0.45"/>
<circle cx="140.99" cy="392.75" r="0.45" fill="#9aaee0" fill-opacity="0.45"/>
<circle cx="154.43" cy="393.30" r="0.45" fill="#9aaee0" fill-opacity="0.45"/>
<circle cx="143.81" cy="394.63" r="0.45" fill="#a8cce8" fill-opacity="0.45"/>
<circle cx="139.47" cy="391.34" r="0.45" fill="#9aaee0" fill-opacity="0.45"/>
<circle cx="148.40" cy="391.06" r="0.45" fill="#a8cce8" fill-opacity="0.45"/>
<circle cx="139.10" cy="393.48" r="0.45" fill="#a8cce8" fill-opacity="0.45"/>
<circle cx="132.10" cy="393.81" r="0.45" fill="#a8cce8" fill-opacity="0.45"/>
<circle cx="141.04" cy="389.72" r="0.45" fill="#9aaee0" fill-opacity="0.45"/>
<circle cx="138.43" cy="392.37" r="0.45" fill="#a8cce8" fill-opacity="0.45"/>
<circle cx="137.49" cy="393.75" r="0.45" fill="#a8cce8" fill-opacity="0.45"/>
<circle cx="143.68" cy="391.97" r="0.45" fill="#9aaee0" fill-opacity="0.45"/>
<circle cx="135.90" cy="392.90" r="0.45" fill="#9aaee0" fill-opacity="0.45"/>
<circle cx="137.77" cy="393.76" r="0.45" fill="#9aaee0" fill-opacity="0.45"/>
<circle cx="132.34" cy="395.27" r="0.45" fill="#a8cce8" fill-opacity="0.45"/>
<circle cx="132.68" cy="396.10" r="0.45" fill="#9aaee0" fill-opacity="0.45"/>
<circle cx="134.69" cy="393.64" r="0.45" fill="#9aaee0" fill-opacity="0.45"/>
<circle cx="153.70" cy="392.69" r="0.45" fill="#a8cce8" fill-opacity="0.45"/>
<circle cx="140.53" cy="395.50" r="0.45" fill="#a8cce8" fill-opacity="0.45"/>
<circle cx="151.87" cy="395.15" r="0.45" fill="#9aaee0" fill-opacity="0.45"/>
<circle cx="148.76" cy="392.70" r="0.45" fill="#9aaee0" fill-opacity="0.45"/>
<circle cx="144.67" cy="392.61" r="0.45" fill="#a8cce8" fill-opacity="0.45"/>
<circle cx="139.33" cy="396.82" r="0.45" fill="#a8cce8" fill-opacity="0.45"/>
<circle cx="135.26" cy="391.39" r="0.45" fill="#9aaee0" fill-opacity="0.45"/>
<circle cx="141.37" cy="393.35" r="0.45" fill="#9aaee0" fill-opacity="0.45"/>
<circle cx="135.42" cy="391.38" r="0.45" fill="#9aaee0" fill-opacity="0.45"/>
<circle cx="154.10" cy="394.62" r="0.45" fill="#a8cce8" fill-opacity="0.45"/>
<circle cx="132.19" cy="391.67" r="0.45" fill="#9aaee0" fill-opacity="0.45"/>
<circle cx="132.64" cy="395.93" r="0.45" fill="#9aaee0" fill-opacity="0.45"/>
<circle cx="136.00" cy="393.82" r="0.45" fill="#a8cce8" fill-opacity="0.45"/>
<circle cx="149.54" cy="392.00" r="0.45" fill="#9aaee0" fill-opacity="0.45"/>
<circle cx="145.15" cy="392.30" r="0.45" fill="#9aaee0" fill-opacity="0.45"/>
<circle cx="146.68" cy="392.68" r="0.45" fill="#9aaee0" fill-opacity="0.45"/>
<circle cx="135.27" cy="393.20" r="0.45" fill="#a8cce8" fill-opacity="0.45"/>
<circle cx="144.51" cy="392.83" r="0.45" fill="#9aaee0" fill-opacity="0.45"/>
<circle cx="133.31" cy="393.74" r="0.45" fill="#9aaee0" fill-opacity="0.45"/>
<circle cx="133.22" cy="394.98" r="0.45" fill="#a8cce8" fill-opacity="0.45"/>
<circle cx="145.92" cy="391.97" r="0.45" fill="#a8cce8" fill-opacity="0.45"/>
<circle cx="132.69" cy="388.54" r="0.45" fill="#9aaee0" fill-opacity="0.45"/>
<circle cx="142.54" cy="399.03" r="0.45" fill="#9aaee0" fill-opacity="0.45"/>
<circle cx="133.35" cy="389.93" r="0.45" fill="#9aaee0" fill-opacity="0.45"/>
<circle cx="147.75" cy="388.25" r="0.45" fill="#a8cce8" fill-opacity="0.45"/>
<circle cx="133.86" cy="388.94" r="0.45" fill="#9aaee0" fill-opacity="0.45"/>
<circle cx="140.79" cy="392.53" r="0.45" fill="#a8cce8" fill-opacity="0.45"/>
<circle cx="142.83" cy="388.62" r="0.45" fill="#a8cce8" fill-opacity="0.45"/>
<circle cx="148.93" cy="390.28" r="0.45" fill="#a8cce8" fill-opacity="0.45"/>
<circle cx="136.25" cy="393.78" r="0.45" fill="#9aaee0" fill-opacity="0.45"/>
<circle cx="132.58" cy="394.23" r="0.45" fill="#a8cce8" fill-opacity="0.45"/>
<circle cx="142.33" cy="391.67" r="0.45" fill="#a8cce8" fill-opacity="0.45"/>
<circle cx="133.28" cy="390.81" r="0.45" fill="#9aaee0" fill-opacity="0.45"/>
<circle cx="141.29" cy="389.12" r="0.45" fill="#a8cce8" fill-opacity="0.45"/>
<circle cx="143.65" cy="392.04" r="0.45" fill="#9aaee0" fill-opacity="0.45"/>
<circle cx="135.20" cy="391.41" r="0.45" fill="#9aaee0" fill-opacity="0.45"/>
<circle cx="134.16" cy="397.15" r="0.45" fill="#9aaee0" fill-opacity="0.45"/>
<circle cx="133.98" cy="386.76" r="0.45" fill="#9aaee0" fill-opacity="0.45"/>
<circle cx="137.19" cy="394.98" r="0.45" fill="#a8cce8" fill-opacity="0.45"/>
<circle cx="137.52" cy="389.81" r="0.45" fill="#a8cce8" fill-opacity="0.45"/>
<circle cx="141.39" cy="393.56" r="0.45" fill="#9aaee0" fill-opacity="0.45"/>
<text x="217.20" y="366.40" font-size="7.3" text-anchor="middle" font-weight="normal" fill="#222"  textLength="25.31" lengthAdjust="spacingAndGlyphs">DP10 DM</text>
<text x="217.20" y="373.50" font-size="3.7" text-anchor="middle" font-weight="normal" fill="#444"  textLength="47.00" lengthAdjust="spacingAndGlyphs">|CD4+) CD137 APC / CD4 PC7</text>
<rect x="195.10" y="376.90" width="43.00" height="42.60" fill="#fff" stroke="#b4b4b4" stroke-width="0.6" />
<line x1="195.10" y1="376.90" x2="195.10" y2="419.50" stroke="#8a8a8a" stroke-width="0.7" />
<line x1="195.10" y1="419.50" x2="238.10" y2="419.50" stroke="#8a8a8a" stroke-width="0.7" />
<line x1="193.80" y1="378.00" x2="195.10" y2="378.00" stroke="#999" stroke-width="0.5" />
<line x1="193.80" y1="386.30" x2="195.10" y2="386.30" stroke="#999" stroke-width="0.5" />
<line x1="193.80" y1="396.30" x2="195.10" y2="396.30" stroke="#999" stroke-width="0.5" />
<line x1="193.80" y1="405.40" x2="195.10" y2="405.40" stroke="#999" stroke-width="0.5" />
<line x1="193.80" y1="414.00" x2="195.10" y2="414.00" stroke="#999" stroke-width="0.5" />
<line x1="193.80" y1="418.50" x2="195.10" y2="418.50" stroke="#999" stroke-width="0.5" />
<line x1="198.10" y1="419.50" x2="198.10" y2="420.80" stroke="#999" stroke-width="0.5" />
<line x1="208.10" y1="419.50" x2="208.10" y2="420.80" stroke="#999" stroke-width="0.5" />
<line x1="218.10" y1="419.50" x2="218.10" y2="420.80" stroke="#999" stroke-width="0.5" />
<line x1="228.10" y1="419.50" x2="228.10" y2="420.80" stroke="#999" stroke-width="0.5" />
<line x1="238.10" y1="419.50" x2="238.10" y2="420.80" stroke="#999" stroke-width="0.5" />
<text x="191.90" y="379.30" font-size="3.8" text-anchor="end" font-weight="normal" fill="#666" >10<tspan dy="-1.3" font-size="2.4">4</tspan></text>
<text x="191.90" y="387.60" font-size="3.8" text-anchor="end" font-weight="normal" fill="#666" >10<tspan dy="-1.3" font-size="2.4">3</tspan></text>
<text x="191.90" y="397.60" font-size="3.8" text-anchor="end" font-weight="normal" fill="#666" >10<tspan dy="-1.3" font-size="2.4">2</tspan></text>
<text x="191.90" y="406.70" font-size="3.8" text-anchor="end" font-weight="normal" fill="#666" >10<tspan dy="-1.3" font-size="2.4">1</tspan></text>
<text x="191.90" y="415.30" font-size="3.8" text-anchor="end" font-weight="normal" fill="#666" >-10<tspan dy="-1.3" font-size="2.4">1</tspan></text>
<text x="191.90" y="419.80" font-size="3.8" text-anchor="end" font-weight="normal" fill="#666" >0</text>
<text x="197.10" y="425.70" font-size="3.8" text-anchor="middle" font-weight="normal" fill="#666" >0 10<tspan dy="-1.3" font-size="2.4">-1</tspan></text>
<text x="208.00" y="425.70" font-size="3.8" text-anchor="middle" font-weight="normal" fill="#666" >10<tspan dy="-1.3" font-size="2.4">1</tspan></text>
<text x="218.00" y="425.70" font-size="3.8" text-anchor="middle" font-weight="normal" fill="#666" >10<tspan dy="-1.3" font-size="2.4">2</tspan></text>
<text x="227.50" y="425.70" font-size="3.8" text-anchor="middle" font-weight="normal" fill="#666" >10<tspan dy="-1.3" font-size="2.4">3</tspan></text>
<text x="235.80" y="425.70" font-size="3.8" text-anchor="middle" font-weight="normal" fill="#666" >10<tspan dy="-1.3" font-size="2.4">4</tspan></text>
<text x="217.40" y="435.40" font-size="6.4" text-anchor="middle" font-weight="normal" fill="#2a2a2a"  textLength="22.30" lengthAdjust="spacingAndGlyphs">CD137 APC</text>
<text x="181.70" y="398.90" font-size="6.2" text-anchor="middle" font-weight="normal" fill="#2a2a2a" transform="rotate(-90 181.70 398.90)"  textLength="18.50" lengthAdjust="spacingAndGlyphs">CD4 PC7</text>
<rect x="205.10" y="379.40" width="31.60" height="24.40" fill="none" stroke="#8a8a8a" stroke-width="0.6" />
<rect x="224.10" y="398.50" width="12.10" height="4.60" fill="#fff" stroke="#aaa" stroke-width="0.35" />
<text x="230.20" y="402.20" font-size="4.2" text-anchor="middle" font-weight="normal" fill="#333"  textLength="10.20" lengthAdjust="spacingAndGlyphs">59,69%</text>
<ellipse cx="200.90" cy="394.00" rx="3.6" ry="3.6" fill="#3f88cc" fill-opacity="1.0" filter="url(#bl3)" transform="rotate(0 200.90 394.00)"/>
<ellipse cx="213.20" cy="391.99" rx="10.900000000000006" ry="3.6" fill="#7078d0" fill-opacity="0.5" filter="url(#bl3)" transform="rotate(-1.7183580016554572 213.20 391.99)"/>
<ellipse cx="211.70" cy="391.99" rx="6.900000000000006" ry="2.6" fill="#1a1f8a" fill-opacity="0.95" filter="url(#bl3)" transform="rotate(-1.7183580016554572 211.70 391.99)"/>
<circle cx="217.53" cy="390.98" r="0.45" fill="#232a96" fill-opacity="0.6"/>
<circle cx="204.52" cy="394.51" r="0.45" fill="#232a96" fill-opacity="0.6"/>
<circle cx="205.38" cy="391.83" r="0.45" fill="#232a96" fill-opacity="0.6"/>
<circle cx="216.62" cy="394.65" r="0.45" fill="#232a96" fill-opacity="0.6"/>
<circle cx="216.33" cy="391.26" r="0.45" fill="#232a96" fill-opacity="0.6"/>
<circle cx="212.57" cy="394.17" r="0.45" fill="#232a96" fill-opacity="0.6"/>
<circle cx="212.60" cy="394.91" r="0.45" fill="#232a96" fill-opacity="0.6"/>
<circle cx="207.85" cy="394.82" r="0.45" fill="#232a96" fill-opacity="0.6"/>
<circle cx="221.71" cy="392.01" r="0.45" fill="#232a96" fill-opacity="0.6"/>
<circle cx="212.47" cy="391.82" r="0.45" fill="#232a96" fill-opacity="0.6"/>
<circle cx="218.89" cy="393.80" r="0.45" fill="#232a96" fill-opacity="0.6"/>
<circle cx="209.08" cy="391.64" r="0.45" fill="#232a96" fill-opacity="0.6"/>
<circle cx="208.04" cy="393.32" r="0.45" fill="#232a96" fill-opacity="0.6"/>
<circle cx="214.65" cy="391.45" r="0.45" fill="#232a96" fill-opacity="0.6"/>
<circle cx="206.82" cy="387.48" r="0.45" fill="#232a96" fill-opacity="0.6"/>
<circle cx="206.66" cy="391.42" r="0.45" fill="#232a96" fill-opacity="0.6"/>
<circle cx="218.90" cy="387.80" r="0.45" fill="#232a96" fill-opacity="0.6"/>
<circle cx="216.82" cy="391.61" r="0.45" fill="#232a96" fill-opacity="0.6"/>
<circle cx="208.42" cy="393.83" r="0.45" fill="#232a96" fill-opacity="0.6"/>
<circle cx="204.74" cy="390.87" r="0.45" fill="#232a96" fill-opacity="0.6"/>
<circle cx="204.36" cy="390.12" r="0.45" fill="#232a96" fill-opacity="0.6"/>
<circle cx="209.67" cy="392.15" r="0.45" fill="#232a96" fill-opacity="0.6"/>
<circle cx="206.80" cy="391.20" r="0.45" fill="#232a96" fill-opacity="0.6"/>
<circle cx="219.26" cy="393.13" r="0.45" fill="#232a96" fill-opacity="0.6"/>
<circle cx="204.33" cy="392.22" r="0.45" fill="#232a96" fill-opacity="0.6"/>
<circle cx="206.44" cy="388.50" r="0.45" fill="#232a96" fill-opacity="0.6"/>
<circle cx="220.79" cy="390.76" r="0.45" fill="#232a96" fill-opacity="0.6"/>
<circle cx="209.46" cy="388.06" r="0.45" fill="#232a96" fill-opacity="0.6"/>
<circle cx="210.93" cy="386.55" r="0.45" fill="#232a96" fill-opacity="0.6"/>
<circle cx="214.79" cy="396.23" r="0.45" fill="#232a96" fill-opacity="0.6"/>
<circle cx="210.72" cy="390.64" r="0.45" fill="#232a96" fill-opacity="0.6"/>
<circle cx="205.16" cy="392.84" r="0.45" fill="#232a96" fill-opacity="0.6"/>
<circle cx="206.11" cy="392.94" r="0.45" fill="#232a96" fill-opacity="0.6"/>
<circle cx="220.95" cy="390.36" r="0.45" fill="#232a96" fill-opacity="0.6"/>
<circle cx="208.74" cy="391.84" r="0.45" fill="#232a96" fill-opacity="0.6"/>
<circle cx="207.68" cy="394.36" r="0.45" fill="#232a96" fill-opacity="0.6"/>
<circle cx="210.95" cy="395.80" r="0.45" fill="#232a96" fill-opacity="0.6"/>
<circle cx="218.75" cy="390.69" r="0.45" fill="#232a96" fill-opacity="0.6"/>
<circle cx="215.53" cy="395.73" r="0.45" fill="#232a96" fill-opacity="0.6"/>
<circle cx="214.08" cy="389.57" r="0.45" fill="#232a96" fill-opacity="0.6"/>
<circle cx="217.11" cy="394.75" r="0.45" fill="#232a96" fill-opacity="0.6"/>
<circle cx="212.33" cy="392.90" r="0.45" fill="#232a96" fill-opacity="0.6"/>
<circle cx="217.70" cy="390.84" r="0.45" fill="#232a96" fill-opacity="0.6"/>
<circle cx="205.17" cy="390.94" r="0.45" fill="#232a96" fill-opacity="0.6"/>
<circle cx="220.80" cy="393.20" r="0.45" fill="#232a96" fill-opacity="0.6"/>
<circle cx="210.42" cy="393.56" r="0.45" fill="#232a96" fill-opacity="0.6"/>
<circle cx="209.60" cy="391.68" r="0.45" fill="#232a96" fill-opacity="0.6"/>
<circle cx="208.93" cy="386.88" r="0.45" fill="#232a96" fill-opacity="0.6"/>
<circle cx="215.98" cy="391.09" r="0.45" fill="#232a96" fill-opacity="0.6"/>
<circle cx="211.32" cy="394.29" r="0.45" fill="#232a96" fill-opacity="0.6"/>
<circle cx="207.28" cy="392.79" r="0.45" fill="#232a96" fill-opacity="0.6"/>
<circle cx="220.43" cy="392.82" r="0.45" fill="#232a96" fill-opacity="0.6"/>
<circle cx="213.15" cy="392.71" r="0.45" fill="#232a96" fill-opacity="0.6"/>
<circle cx="222.04" cy="395.73" r="0.45" fill="#232a96" fill-opacity="0.6"/>
<circle cx="212.31" cy="392.75" r="0.45" fill="#232a96" fill-opacity="0.6"/>
<circle cx="205.91" cy="393.11" r="0.45" fill="#232a96" fill-opacity="0.6"/>
<circle cx="210.39" cy="393.20" r="0.45" fill="#232a96" fill-opacity="0.6"/>
<circle cx="208.90" cy="392.82" r="0.45" fill="#232a96" fill-opacity="0.6"/>
<circle cx="214.44" cy="394.30" r="0.45" fill="#232a96" fill-opacity="0.6"/>
<circle cx="211.65" cy="389.92" r="0.45" fill="#232a96" fill-opacity="0.6"/>
<circle cx="211.67" cy="390.15" r="0.45" fill="#232a96" fill-opacity="0.6"/>
<circle cx="210.32" cy="391.74" r="0.45" fill="#232a96" fill-opacity="0.6"/>
<circle cx="205.40" cy="391.31" r="0.45" fill="#232a96" fill-opacity="0.6"/>
<circle cx="206.54" cy="397.04" r="0.45" fill="#232a96" fill-opacity="0.6"/>
<circle cx="213.26" cy="389.33" r="0.45" fill="#232a96" fill-opacity="0.6"/>
<circle cx="208.14" cy="389.33" r="0.45" fill="#232a96" fill-opacity="0.6"/>
<circle cx="209.12" cy="392.07" r="0.45" fill="#232a96" fill-opacity="0.6"/>
<circle cx="212.24" cy="393.88" r="0.45" fill="#232a96" fill-opacity="0.6"/>
<circle cx="221.28" cy="393.93" r="0.45" fill="#232a96" fill-opacity="0.6"/>
<circle cx="204.69" cy="389.05" r="0.45" fill="#232a96" fill-opacity="0.6"/>
<circle cx="204.87" cy="391.17" r="0.45" fill="#232a96" fill-opacity="0.6"/>
<circle cx="212.72" cy="388.04" r="0.45" fill="#232a96" fill-opacity="0.6"/>
<circle cx="214.75" cy="393.78" r="0.45" fill="#232a96" fill-opacity="0.6"/>
<circle cx="220.80" cy="391.71" r="0.45" fill="#232a96" fill-opacity="0.6"/>
<circle cx="219.00" cy="394.89" r="0.45" fill="#232a96" fill-opacity="0.6"/>
<circle cx="208.72" cy="388.06" r="0.45" fill="#232a96" fill-opacity="0.6"/>
<circle cx="206.24" cy="393.45" r="0.45" fill="#232a96" fill-opacity="0.6"/>
<circle cx="216.44" cy="393.74" r="0.45" fill="#232a96" fill-opacity="0.6"/>
<circle cx="221.06" cy="391.21" r="0.45" fill="#232a96" fill-opacity="0.6"/>
<circle cx="217.91" cy="389.09" r="0.45" fill="#232a96" fill-opacity="0.6"/>
<circle cx="212.44" cy="391.44" r="0.45" fill="#232a96" fill-opacity="0.6"/>
<circle cx="218.22" cy="391.61" r="0.45" fill="#232a96" fill-opacity="0.6"/>
<circle cx="208.44" cy="394.47" r="0.45" fill="#232a96" fill-opacity="0.6"/>
<circle cx="209.71" cy="390.72" r="0.45" fill="#232a96" fill-opacity="0.6"/>
<circle cx="206.58" cy="392.10" r="0.45" fill="#232a96" fill-opacity="0.6"/>
<circle cx="216.73" cy="394.53" r="0.45" fill="#232a96" fill-opacity="0.6"/>
<circle cx="206.30" cy="394.23" r="0.45" fill="#232a96" fill-opacity="0.6"/>
<circle cx="214.68" cy="392.88" r="0.45" fill="#232a96" fill-opacity="0.6"/>
<circle cx="211.21" cy="392.42" r="0.45" fill="#232a96" fill-opacity="0.6"/>
<circle cx="204.49" cy="394.73" r="0.45" fill="#232a96" fill-opacity="0.6"/>
<circle cx="209.67" cy="387.38" r="0.45" fill="#232a96" fill-opacity="0.6"/>
<circle cx="215.77" cy="393.03" r="0.45" fill="#232a96" fill-opacity="0.6"/>
<circle cx="220.03" cy="390.35" r="0.45" fill="#232a96" fill-opacity="0.6"/>
<circle cx="208.70" cy="392.28" r="0.45" fill="#232a96" fill-opacity="0.6"/>
<circle cx="221.40" cy="391.23" r="0.45" fill="#232a96" fill-opacity="0.6"/>
<circle cx="204.69" cy="390.63" r="0.45" fill="#232a96" fill-opacity="0.6"/>
<circle cx="213.17" cy="391.03" r="0.45" fill="#232a96" fill-opacity="0.6"/>
<circle cx="208.88" cy="390.30" r="0.45" fill="#232a96" fill-opacity="0.6"/>
<circle cx="216.18" cy="393.06" r="0.45" fill="#232a96" fill-opacity="0.6"/>
<circle cx="204.91" cy="391.56" r="0.45" fill="#232a96" fill-opacity="0.6"/>
<circle cx="210.32" cy="389.49" r="0.45" fill="#232a96" fill-opacity="0.6"/>
<circle cx="207.83" cy="393.47" r="0.45" fill="#232a96" fill-opacity="0.6"/>
<circle cx="218.49" cy="391.62" r="0.45" fill="#232a96" fill-opacity="0.6"/>
<circle cx="207.95" cy="389.84" r="0.45" fill="#232a96" fill-opacity="0.6"/>
<circle cx="221.56" cy="390.35" r="0.45" fill="#232a96" fill-opacity="0.6"/>
<circle cx="208.41" cy="395.33" r="0.45" fill="#232a96" fill-opacity="0.6"/>
<circle cx="208.24" cy="392.19" r="0.45" fill="#232a96" fill-opacity="0.6"/>
<circle cx="221.24" cy="390.11" r="0.45" fill="#232a96" fill-opacity="0.6"/>
<circle cx="213.12" cy="392.45" r="0.45" fill="#232a96" fill-opacity="0.6"/>
<circle cx="211.72" cy="393.22" r="0.45" fill="#232a96" fill-opacity="0.6"/>
<circle cx="216.14" cy="392.86" r="0.45" fill="#232a96" fill-opacity="0.6"/>
<circle cx="211.30" cy="391.65" r="0.45" fill="#232a96" fill-opacity="0.6"/>
<circle cx="208.09" cy="393.12" r="0.45" fill="#232a96" fill-opacity="0.6"/>
<circle cx="205.22" cy="392.00" r="0.45" fill="#232a96" fill-opacity="0.6"/>
<circle cx="205.37" cy="388.99" r="0.45" fill="#232a96" fill-opacity="0.6"/>
<circle cx="220.03" cy="394.25" r="0.45" fill="#232a96" fill-opacity="0.6"/>
<circle cx="217.34" cy="396.21" r="0.45" fill="#232a96" fill-opacity="0.6"/>
<circle cx="210.16" cy="391.96" r="0.45" fill="#232a96" fill-opacity="0.6"/>
<circle cx="207.60" cy="395.00" r="0.45" fill="#232a96" fill-opacity="0.6"/>
<circle cx="204.87" cy="390.95" r="0.45" fill="#232a96" fill-opacity="0.6"/>
<circle cx="216.13" cy="390.52" r="0.45" fill="#232a96" fill-opacity="0.6"/>
<circle cx="210.20" cy="393.29" r="0.45" fill="#232a96" fill-opacity="0.6"/>
<circle cx="207.31" cy="393.65" r="0.45" fill="#232a96" fill-opacity="0.6"/>
<circle cx="210.56" cy="392.04" r="0.45" fill="#232a96" fill-opacity="0.6"/>
<circle cx="221.31" cy="395.19" r="0.45" fill="#232a96" fill-opacity="0.6"/>
<circle cx="207.99" cy="395.53" r="0.45" fill="#232a96" fill-opacity="0.6"/>
<circle cx="210.65" cy="393.54" r="0.45" fill="#232a96" fill-opacity="0.6"/>
<circle cx="212.00" cy="388.79" r="0.45" fill="#232a96" fill-opacity="0.6"/>
<circle cx="205.18" cy="390.36" r="0.45" fill="#232a96" fill-opacity="0.6"/>
<circle cx="220.67" cy="392.01" r="0.45" fill="#232a96" fill-opacity="0.6"/>
<circle cx="207.74" cy="389.43" r="0.45" fill="#232a96" fill-opacity="0.6"/>
<circle cx="204.84" cy="395.24" r="0.45" fill="#232a96" fill-opacity="0.6"/>
<circle cx="211.61" cy="393.21" r="0.45" fill="#232a96" fill-opacity="0.6"/>
<circle cx="205.02" cy="389.18" r="0.45" fill="#232a96" fill-opacity="0.6"/>
<circle cx="204.92" cy="396.13" r="0.45" fill="#232a96" fill-opacity="0.6"/>
<circle cx="208.87" cy="393.70" r="0.45" fill="#232a96" fill-opacity="0.6"/>
<circle cx="217.60" cy="393.19" r="0.45" fill="#232a96" fill-opacity="0.6"/>
<circle cx="209.15" cy="391.03" r="0.45" fill="#232a96" fill-opacity="0.6"/>
<circle cx="221.35" cy="390.59" r="0.45" fill="#232a96" fill-opacity="0.6"/>
<circle cx="217.06" cy="390.82" r="0.45" fill="#232a96" fill-opacity="0.6"/>
<circle cx="209.93" cy="392.00" r="0.45" fill="#232a96" fill-opacity="0.6"/>
<circle cx="217.75" cy="391.96" r="0.45" fill="#232a96" fill-opacity="0.6"/>
<circle cx="220.61" cy="388.68" r="0.45" fill="#232a96" fill-opacity="0.6"/>
<circle cx="204.73" cy="388.79" r="0.45" fill="#232a96" fill-opacity="0.6"/>
<circle cx="208.46" cy="387.37" r="0.45" fill="#232a96" fill-opacity="0.6"/>
<circle cx="221.28" cy="392.43" r="0.45" fill="#232a96" fill-opacity="0.6"/>
<circle cx="211.18" cy="391.98" r="0.45" fill="#232a96" fill-opacity="0.6"/>
<circle cx="213.08" cy="393.95" r="0.45" fill="#232a96" fill-opacity="0.6"/>
<circle cx="220.82" cy="393.10" r="0.45" fill="#232a96" fill-opacity="0.6"/>
<circle cx="217.45" cy="394.93" r="0.45" fill="#232a96" fill-opacity="0.6"/>
<circle cx="215.70" cy="387.53" r="0.45" fill="#7a7ad0" fill-opacity="0.45"/>
<circle cx="214.75" cy="390.33" r="0.45" fill="#7a7ad0" fill-opacity="0.45"/>
<circle cx="210.32" cy="394.42" r="0.45" fill="#7a7ad0" fill-opacity="0.45"/>
<circle cx="205.52" cy="391.05" r="0.45" fill="#7a7ad0" fill-opacity="0.45"/>
<circle cx="212.45" cy="396.38" r="0.45" fill="#7a7ad0" fill-opacity="0.45"/>
<circle cx="204.39" cy="393.22" r="0.45" fill="#7a7ad0" fill-opacity="0.45"/>
<circle cx="222.90" cy="392.39" r="0.45" fill="#7a7ad0" fill-opacity="0.45"/>
<circle cx="223.56" cy="398.60" r="0.45" fill="#7a7ad0" fill-opacity="0.45"/>
<circle cx="236.10" cy="385.65" r="0.45" fill="#7a7ad0" fill-opacity="0.45"/>
<circle cx="204.89" cy="393.35" r="0.45" fill="#7a7ad0" fill-opacity="0.45"/>
<circle cx="218.79" cy="393.64" r="0.45" fill="#7a7ad0" fill-opacity="0.45"/>
<circle cx="208.38" cy="389.13" r="0.45" fill="#7a7ad0" fill-opacity="0.45"/>
<circle cx="205.84" cy="395.05" r="0.45" fill="#7a7ad0" fill-opacity="0.45"/>
<circle cx="220.64" cy="388.83" r="0.45" fill="#7a7ad0" fill-opacity="0.45"/>
<circle cx="204.67" cy="386.76" r="0.45" fill="#7a7ad0" fill-opacity="0.45"/>
<circle cx="208.20" cy="390.86" r="0.45" fill="#7a7ad0" fill-opacity="0.45"/>
<circle cx="211.06" cy="390.03" r="0.45" fill="#7a7ad0" fill-opacity="0.45"/>
<circle cx="217.53" cy="390.70" r="0.45" fill="#7a7ad0" fill-opacity="0.45"/>
<circle cx="205.05" cy="390.32" r="0.45" fill="#7a7ad0" fill-opacity="0.45"/>
<circle cx="204.48" cy="394.30" r="0.45" fill="#7a7ad0" fill-opacity="0.45"/>
<circle cx="222.08" cy="396.44" r="0.45" fill="#7a7ad0" fill-opacity="0.45"/>
<circle cx="216.05" cy="390.67" r="0.45" fill="#7a7ad0" fill-opacity="0.45"/>
<circle cx="236.10" cy="396.40" r="0.45" fill="#7a7ad0" fill-opacity="0.45"/>
<circle cx="215.17" cy="391.78" r="0.45" fill="#7a7ad0" fill-opacity="0.45"/>
<circle cx="212.14" cy="388.16" r="0.45" fill="#7a7ad0" fill-opacity="0.45"/>
<circle cx="211.26" cy="391.92" r="0.45" fill="#7a7ad0" fill-opacity="0.45"/>
<circle cx="231.69" cy="392.20" r="0.45" fill="#7a7ad0" fill-opacity="0.45"/>
<circle cx="222.22" cy="386.43" r="0.45" fill="#7a7ad0" fill-opacity="0.45"/>
<circle cx="216.41" cy="392.42" r="0.45" fill="#7a7ad0" fill-opacity="0.45"/>
<circle cx="211.42" cy="393.22" r="0.45" fill="#7a7ad0" fill-opacity="0.45"/>
<circle cx="223.86" cy="390.99" r="0.45" fill="#7a7ad0" fill-opacity="0.45"/>
<circle cx="217.40" cy="390.66" r="0.45" fill="#7a7ad0" fill-opacity="0.45"/>
<circle cx="215.22" cy="389.59" r="0.45" fill="#7a7ad0" fill-opacity="0.45"/>
<circle cx="205.93" cy="397.00" r="0.45" fill="#7a7ad0" fill-opacity="0.45"/>
<circle cx="210.98" cy="391.56" r="0.45" fill="#7a7ad0" fill-opacity="0.45"/>
<circle cx="221.47" cy="389.47" r="0.45" fill="#7a7ad0" fill-opacity="0.45"/>
<circle cx="207.20" cy="394.74" r="0.45" fill="#7a7ad0" fill-opacity="0.45"/>
<circle cx="210.69" cy="393.48" r="0.45" fill="#7a7ad0" fill-opacity="0.45"/>
<circle cx="204.93" cy="395.97" r="0.45" fill="#7a7ad0" fill-opacity="0.45"/>
<circle cx="210.16" cy="390.48" r="0.45" fill="#7a7ad0" fill-opacity="0.45"/>
<circle cx="217.62" cy="391.98" r="0.45" fill="#7a7ad0" fill-opacity="0.45"/>
<circle cx="208.48" cy="390.46" r="0.45" fill="#7a7ad0" fill-opacity="0.45"/>
<circle cx="208.15" cy="393.83" r="0.45" fill="#7a7ad0" fill-opacity="0.45"/>
<circle cx="209.61" cy="388.65" r="0.45" fill="#7a7ad0" fill-opacity="0.45"/>
<circle cx="210.69" cy="392.51" r="0.45" fill="#7a7ad0" fill-opacity="0.45"/>
<circle cx="219.30" cy="393.91" r="0.45" fill="#7a7ad0" fill-opacity="0.45"/>
<circle cx="208.51" cy="391.13" r="0.45" fill="#7a7ad0" fill-opacity="0.45"/>
<circle cx="216.24" cy="395.54" r="0.45" fill="#7a7ad0" fill-opacity="0.45"/>
<circle cx="214.63" cy="393.12" r="0.45" fill="#7a7ad0" fill-opacity="0.45"/>
<circle cx="217.44" cy="398.29" r="0.45" fill="#7a7ad0" fill-opacity="0.45"/>
<circle cx="211.71" cy="395.32" r="0.45" fill="#7a7ad0" fill-opacity="0.45"/>
<circle cx="214.01" cy="394.18" r="0.45" fill="#7a7ad0" fill-opacity="0.45"/>
<circle cx="236.10" cy="384.09" r="0.45" fill="#7a7ad0" fill-opacity="0.45"/>
<circle cx="210.82" cy="393.41" r="0.45" fill="#7a7ad0" fill-opacity="0.45"/>
<circle cx="205.69" cy="390.29" r="0.45" fill="#7a7ad0" fill-opacity="0.45"/>
<circle cx="236.10" cy="391.45" r="0.45" fill="#7a7ad0" fill-opacity="0.45"/>
<circle cx="228.97" cy="393.85" r="0.45" fill="#7a7ad0" fill-opacity="0.45"/>
<circle cx="230.12" cy="394.65" r="0.45" fill="#7a7ad0" fill-opacity="0.45"/>
<circle cx="212.97" cy="392.35" r="0.45" fill="#7a7ad0" fill-opacity="0.45"/>
<circle cx="223.21" cy="391.96" r="0.45" fill="#7a7ad0" fill-opacity="0.45"/>
<circle cx="225.17" cy="386.83" r="0.45" fill="#7a7ad0" fill-opacity="0.45"/>
<circle cx="222.04" cy="393.74" r="0.45" fill="#7a7ad0" fill-opacity="0.45"/>
<circle cx="216.54" cy="394.24" r="0.45" fill="#7a7ad0" fill-opacity="0.45"/>
<circle cx="211.75" cy="393.79" r="0.45" fill="#7a7ad0" fill-opacity="0.45"/>
<circle cx="236.10" cy="390.34" r="0.45" fill="#7a7ad0" fill-opacity="0.45"/>
<circle cx="217.81" cy="393.85" r="0.45" fill="#7a7ad0" fill-opacity="0.45"/>
<circle cx="217.52" cy="384.92" r="0.45" fill="#7a7ad0" fill-opacity="0.45"/>
<circle cx="206.84" cy="393.50" r="0.45" fill="#7a7ad0" fill-opacity="0.45"/>
<circle cx="236.10" cy="388.38" r="0.45" fill="#7a7ad0" fill-opacity="0.45"/>
<circle cx="209.24" cy="392.15" r="0.45" fill="#7a7ad0" fill-opacity="0.45"/>
<circle cx="217.59" cy="390.56" r="0.45" fill="#7a7ad0" fill-opacity="0.45"/>
<circle cx="221.51" cy="389.48" r="0.45" fill="#7a7ad0" fill-opacity="0.45"/>
<circle cx="208.30" cy="390.60" r="0.45" fill="#7a7ad0" fill-opacity="0.45"/>
<circle cx="206.67" cy="390.19" r="0.45" fill="#7a7ad0" fill-opacity="0.45"/>
<circle cx="228.26" cy="394.54" r="0.45" fill="#7a7ad0" fill-opacity="0.45"/>
<circle cx="208.85" cy="390.50" r="0.45" fill="#7a7ad0" fill-opacity="0.45"/>
<circle cx="207.31" cy="394.88" r="0.45" fill="#7a7ad0" fill-opacity="0.45"/>
<circle cx="218.96" cy="391.45" r="0.45" fill="#7a7ad0" fill-opacity="0.45"/>
<circle cx="212.39" cy="393.43" r="0.45" fill="#7a7ad0" fill-opacity="0.45"/>
<circle cx="209.33" cy="386.15" r="0.45" fill="#7a7ad0" fill-opacity="0.45"/>
<circle cx="222.94" cy="392.56" r="0.45" fill="#7a7ad0" fill-opacity="0.45"/>
<circle cx="204.50" cy="391.41" r="0.45" fill="#7a7ad0" fill-opacity="0.45"/>
<circle cx="208.25" cy="390.89" r="0.45" fill="#7a7ad0" fill-opacity="0.45"/>
<circle cx="219.67" cy="389.67" r="0.45" fill="#7a7ad0" fill-opacity="0.45"/>
<circle cx="213.25" cy="390.22" r="0.45" fill="#7a7ad0" fill-opacity="0.45"/>
<circle cx="221.68" cy="393.46" r="0.45" fill="#7a7ad0" fill-opacity="0.45"/>
<circle cx="223.95" cy="393.46" r="0.45" fill="#7a7ad0" fill-opacity="0.45"/>
<circle cx="219.52" cy="392.73" r="0.45" fill="#7a7ad0" fill-opacity="0.45"/>
<circle cx="224.91" cy="392.15" r="0.45" fill="#7a7ad0" fill-opacity="0.45"/>
<circle cx="215.26" cy="392.01" r="0.45" fill="#7a7ad0" fill-opacity="0.45"/>
<text x="286.10" y="366.40" font-size="7.3" text-anchor="middle" font-weight="normal" fill="#222"  textLength="14.61" lengthAdjust="spacingAndGlyphs">DP10</text>
<text x="286.10" y="373.50" font-size="3.7" text-anchor="middle" font-weight="normal" fill="#444"  textLength="47.00" lengthAdjust="spacingAndGlyphs">|CD4+) CD137 APC / CD4 PC7</text>
<rect x="264.00" y="376.90" width="43.00" height="42.60" fill="#fff" stroke="#b4b4b4" stroke-width="0.6" />
<line x1="264.00" y1="376.90" x2="264.00" y2="419.50" stroke="#8a8a8a" stroke-width="0.7" />
<line x1="264.00" y1="419.50" x2="307.00" y2="419.50" stroke="#8a8a8a" stroke-width="0.7" />
<line x1="262.70" y1="378.00" x2="264.00" y2="378.00" stroke="#999" stroke-width="0.5" />
<line x1="262.70" y1="386.30" x2="264.00" y2="386.30" stroke="#999" stroke-width="0.5" />
<line x1="262.70" y1="396.30" x2="264.00" y2="396.30" stroke="#999" stroke-width="0.5" />
<line x1="262.70" y1="405.40" x2="264.00" y2="405.40" stroke="#999" stroke-width="0.5" />
<line x1="262.70" y1="414.00" x2="264.00" y2="414.00" stroke="#999" stroke-width="0.5" />
<line x1="262.70" y1="418.50" x2="264.00" y2="418.50" stroke="#999" stroke-width="0.5" />
<line x1="267.00" y1="419.50" x2="267.00" y2="420.80" stroke="#999" stroke-width="0.5" />
<line x1="277.00" y1="419.50" x2="277.00" y2="420.80" stroke="#999" stroke-width="0.5" />
<line x1="287.00" y1="419.50" x2="287.00" y2="420.80" stroke="#999" stroke-width="0.5" />
<line x1="297.00" y1="419.50" x2="297.00" y2="420.80" stroke="#999" stroke-width="0.5" />
<line x1="307.00" y1="419.50" x2="307.00" y2="420.80" stroke="#999" stroke-width="0.5" />
<text x="260.80" y="379.30" font-size="3.8" text-anchor="end" font-weight="normal" fill="#666" >10<tspan dy="-1.3" font-size="2.4">4</tspan></text>
<text x="260.80" y="387.60" font-size="3.8" text-anchor="end" font-weight="normal" fill="#666" >10<tspan dy="-1.3" font-size="2.4">3</tspan></text>
<text x="260.80" y="397.60" font-size="3.8" text-anchor="end" font-weight="normal" fill="#666" >10<tspan dy="-1.3" font-size="2.4">2</tspan></text>
<text x="260.80" y="406.70" font-size="3.8" text-anchor="end" font-weight="normal" fill="#666" >10<tspan dy="-1.3" font-size="2.4">1</tspan></text>
<text x="260.80" y="415.30" font-size="3.8" text-anchor="end" font-weight="normal" fill="#666" >-10<tspan dy="-1.3" font-size="2.4">1</tspan></text>
<text x="260.80" y="419.80" font-size="3.8" text-anchor="end" font-weight="normal" fill="#666" >0</text>
<text x="266.00" y="425.70" font-size="3.8" text-anchor="middle" font-weight="normal" fill="#666" >0 10<tspan dy="-1.3" font-size="2.4">-1</tspan></text>
<text x="276.90" y="425.70" font-size="3.8" text-anchor="middle" font-weight="normal" fill="#666" >10<tspan dy="-1.3" font-size="2.4">1</tspan></text>
<text x="286.90" y="425.70" font-size="3.8" text-anchor="middle" font-weight="normal" fill="#666" >10<tspan dy="-1.3" font-size="2.4">2</tspan></text>
<text x="296.40" y="425.70" font-size="3.8" text-anchor="middle" font-weight="normal" fill="#666" >10<tspan dy="-1.3" font-size="2.4">3</tspan></text>
<text x="304.70" y="425.70" font-size="3.8" text-anchor="middle" font-weight="normal" fill="#666" >10<tspan dy="-1.3" font-size="2.4">4</tspan></text>
<text x="286.30" y="435.40" font-size="6.4" text-anchor="middle" font-weight="normal" fill="#2a2a2a"  textLength="22.30" lengthAdjust="spacingAndGlyphs">CD137 APC</text>
<text x="250.60" y="398.90" font-size="6.2" text-anchor="middle" font-weight="normal" fill="#2a2a2a" transform="rotate(-90 250.60 398.90)"  textLength="18.50" lengthAdjust="spacingAndGlyphs">CD4 PC7</text>
<rect x="274.00" y="379.40" width="31.60" height="24.40" fill="none" stroke="#8a8a8a" stroke-width="0.6" />
<rect x="293.00" y="398.50" width="12.10" height="4.60" fill="#fff" stroke="#aaa" stroke-width="0.35" />
<text x="299.10" y="402.20" font-size="4.2" text-anchor="middle" font-weight="normal" fill="#333"  textLength="10.20" lengthAdjust="spacingAndGlyphs">53,99%</text>
<ellipse cx="269.80" cy="394.00" rx="3.6" ry="3.6" fill="#3f88cc" fill-opacity="1.0" filter="url(#bl3)" transform="rotate(0 269.80 394.00)"/>
<ellipse cx="283.60" cy="390.35" rx="12.400000000000006" ry="3.6" fill="#7078d0" fill-opacity="0.5" filter="url(#bl3)" transform="rotate(-12.407418527400745 283.60 390.35)"/>
<ellipse cx="282.10" cy="390.35" rx="8.400000000000006" ry="2.6" fill="#1a1f8a" fill-opacity="0.95" filter="url(#bl3)" transform="rotate(-12.407418527400745 282.10 390.35)"/>
<circle cx="289.08" cy="389.10" r="0.45" fill="#232a96" fill-opacity="0.6"/>
<circle cx="276.94" cy="389.31" r="0.45" fill="#232a96" fill-opacity="0.6"/>
<circle cx="283.04" cy="390.81" r="0.45" fill="#232a96" fill-opacity="0.6"/>
<circle cx="282.16" cy="390.85" r="0.45" fill="#232a96" fill-opacity="0.6"/>
<circle cx="275.11" cy="389.66" r="0.45" fill="#232a96" fill-opacity="0.6"/>
<circle cx="274.05" cy="392.82" r="0.45" fill="#232a96" fill-opacity="0.6"/>
<circle cx="286.44" cy="391.97" r="0.45" fill="#232a96" fill-opacity="0.6"/>
<circle cx="289.37" cy="390.17" r="0.45" fill="#232a96" fill-opacity="0.6"/>
<circle cx="283.84" cy="391.98" r="0.45" fill="#232a96" fill-opacity="0.6"/>
<circle cx="281.06" cy="391.22" r="0.45" fill="#232a96" fill-opacity="0.6"/>
<circle cx="292.98" cy="390.31" r="0.45" fill="#232a96" fill-opacity="0.6"/>
<circle cx="293.92" cy="390.47" r="0.45" fill="#232a96" fill-opacity="0.6"/>
<circle cx="288.43" cy="389.35" r="0.45" fill="#232a96" fill-opacity="0.6"/>
<circle cx="293.62" cy="386.56" r="0.45" fill="#232a96" fill-opacity="0.6"/>
<circle cx="283.43" cy="394.02" r="0.45" fill="#232a96" fill-opacity="0.6"/>
<circle cx="276.63" cy="390.31" r="0.45" fill="#232a96" fill-opacity="0.6"/>
<circle cx="289.60" cy="389.23" r="0.45" fill="#232a96" fill-opacity="0.6"/>
<circle cx="280.50" cy="390.30" r="0.45" fill="#232a96" fill-opacity="0.6"/>
<circle cx="288.93" cy="390.93" r="0.45" fill="#232a96" fill-opacity="0.6"/>
<circle cx="278.92" cy="394.34" r="0.45" fill="#232a96" fill-opacity="0.6"/>
<circle cx="290.17" cy="389.86" r="0.45" fill="#232a96" fill-opacity="0.6"/>
<circle cx="292.33" cy="389.75" r="0.45" fill="#232a96" fill-opacity="0.6"/>
<circle cx="277.53" cy="391.06" r="0.45" fill="#232a96" fill-opacity="0.6"/>
<circle cx="279.84" cy="392.99" r="0.45" fill="#232a96" fill-opacity="0.6"/>
<circle cx="273.97" cy="392.50" r="0.45" fill="#232a96" fill-opacity="0.6"/>
<circle cx="292.68" cy="388.94" r="0.45" fill="#232a96" fill-opacity="0.6"/>
<circle cx="287.34" cy="390.00" r="0.45" fill="#232a96" fill-opacity="0.6"/>
<circle cx="289.53" cy="387.90" r="0.45" fill="#232a96" fill-opacity="0.6"/>
<circle cx="275.59" cy="389.02" r="0.45" fill="#232a96" fill-opacity="0.6"/>
<circle cx="280.68" cy="390.04" r="0.45" fill="#232a96" fill-opacity="0.6"/>
<circle cx="291.36" cy="385.85" r="0.45" fill="#232a96" fill-opacity="0.6"/>
<circle cx="291.56" cy="387.31" r="0.45" fill="#232a96" fill-opacity="0.6"/>
<circle cx="275.38" cy="394.40" r="0.45" fill="#232a96" fill-opacity="0.6"/>
<circle cx="281.40" cy="390.28" r="0.45" fill="#232a96" fill-opacity="0.6"/>
<circle cx="289.79" cy="388.01" r="0.45" fill="#232a96" fill-opacity="0.6"/>
<circle cx="285.21" cy="395.33" r="0.45" fill="#232a96" fill-opacity="0.6"/>
<circle cx="280.69" cy="390.74" r="0.45" fill="#232a96" fill-opacity="0.6"/>
<circle cx="276.88" cy="389.35" r="0.45" fill="#232a96" fill-opacity="0.6"/>
<circle cx="288.67" cy="392.15" r="0.45" fill="#232a96" fill-opacity="0.6"/>
<circle cx="278.48" cy="392.09" r="0.45" fill="#232a96" fill-opacity="0.6"/>
<circle cx="286.50" cy="391.79" r="0.45" fill="#232a96" fill-opacity="0.6"/>
<circle cx="287.00" cy="388.91" r="0.45" fill="#232a96" fill-opacity="0.6"/>
<circle cx="279.70" cy="391.27" r="0.45" fill="#232a96" fill-opacity="0.6"/>
<circle cx="276.31" cy="391.52" r="0.45" fill="#232a96" fill-opacity="0.6"/>
<circle cx="286.01" cy="387.31" r="0.45" fill="#232a96" fill-opacity="0.6"/>
<circle cx="291.83" cy="389.04" r="0.45" fill="#232a96" fill-opacity="0.6"/>
<circle cx="275.95" cy="391.99" r="0.45" fill="#232a96" fill-opacity="0.6"/>
<circle cx="273.66" cy="394.83" r="0.45" fill="#232a96" fill-opacity="0.6"/>
<circle cx="273.25" cy="391.64" r="0.45" fill="#232a96" fill-opacity="0.6"/>
<circle cx="280.63" cy="391.28" r="0.45" fill="#232a96" fill-opacity="0.6"/>
<circle cx="277.86" cy="388.98" r="0.45" fill="#232a96" fill-opacity="0.6"/>
<circle cx="277.45" cy="390.00" r="0.45" fill="#232a96" fill-opacity="0.6"/>
<circle cx="286.18" cy="388.34" r="0.45" fill="#232a96" fill-opacity="0.6"/>
<circle cx="292.68" cy="388.07" r="0.45" fill="#232a96" fill-opacity="0.6"/>
<circle cx="278.27" cy="391.59" r="0.45" fill="#232a96" fill-opacity="0.6"/>
<circle cx="286.47" cy="389.97" r="0.45" fill="#232a96" fill-opacity="0.6"/>
<circle cx="291.32" cy="388.60" r="0.45" fill="#232a96" fill-opacity="0.6"/>
<circle cx="278.70" cy="389.10" r="0.45" fill="#232a96" fill-opacity="0.6"/>
<circle cx="273.44" cy="390.65" r="0.45" fill="#232a96" fill-opacity="0.6"/>
<circle cx="280.49" cy="388.67" r="0.45" fill="#232a96" fill-opacity="0.6"/>
<circle cx="286.63" cy="385.05" r="0.45" fill="#232a96" fill-opacity="0.6"/>
<circle cx="288.46" cy="390.39" r="0.45" fill="#232a96" fill-opacity="0.6"/>
<circle cx="278.37" cy="391.53" r="0.45" fill="#232a96" fill-opacity="0.6"/>
<circle cx="284.26" cy="389.44" r="0.45" fill="#232a96" fill-opacity="0.6"/>
<circle cx="281.64" cy="390.39" r="0.45" fill="#232a96" fill-opacity="0.6"/>
<circle cx="289.40" cy="389.29" r="0.45" fill="#232a96" fill-opacity="0.6"/>
<circle cx="273.46" cy="387.85" r="0.45" fill="#232a96" fill-opacity="0.6"/>
<circle cx="276.16" cy="390.13" r="0.45" fill="#232a96" fill-opacity="0.6"/>
<circle cx="277.35" cy="389.53" r="0.45" fill="#232a96" fill-opacity="0.6"/>
<circle cx="286.54" cy="387.84" r="0.45" fill="#232a96" fill-opacity="0.6"/>
<circle cx="290.12" cy="389.22" r="0.45" fill="#232a96" fill-opacity="0.6"/>
<circle cx="279.45" cy="392.28" r="0.45" fill="#232a96" fill-opacity="0.6"/>
<circle cx="274.21" cy="394.53" r="0.45" fill="#232a96" fill-opacity="0.6"/>
<circle cx="288.08" cy="386.80" r="0.45" fill="#232a96" fill-opacity="0.6"/>
<circle cx="273.33" cy="393.93" r="0.45" fill="#232a96" fill-opacity="0.6"/>
<circle cx="282.88" cy="387.47" r="0.45" fill="#232a96" fill-opacity="0.6"/>
<circle cx="288.63" cy="387.51" r="0.45" fill="#232a96" fill-opacity="0.6"/>
<circle cx="275.39" cy="392.12" r="0.45" fill="#232a96" fill-opacity="0.6"/>
<circle cx="278.03" cy="392.80" r="0.45" fill="#232a96" fill-opacity="0.6"/>
<circle cx="288.79" cy="389.18" r="0.45" fill="#232a96" fill-opacity="0.6"/>
<circle cx="287.66" cy="390.71" r="0.45" fill="#232a96" fill-opacity="0.6"/>
<circle cx="278.73" cy="388.51" r="0.45" fill="#232a96" fill-opacity="0.6"/>
<circle cx="284.72" cy="386.58" r="0.45" fill="#232a96" fill-opacity="0.6"/>
<circle cx="284.08" cy="391.12" r="0.45" fill="#232a96" fill-opacity="0.6"/>
<circle cx="278.72" cy="387.90" r="0.45" fill="#232a96" fill-opacity="0.6"/>
<circle cx="277.71" cy="387.37" r="0.45" fill="#232a96" fill-opacity="0.6"/>
<circle cx="291.50" cy="389.64" r="0.45" fill="#232a96" fill-opacity="0.6"/>
<circle cx="278.11" cy="391.26" r="0.45" fill="#232a96" fill-opacity="0.6"/>
<circle cx="288.67" cy="391.75" r="0.45" fill="#232a96" fill-opacity="0.6"/>
<circle cx="280.00" cy="389.63" r="0.45" fill="#232a96" fill-opacity="0.6"/>
<circle cx="291.51" cy="387.51" r="0.45" fill="#232a96" fill-opacity="0.6"/>
<circle cx="292.08" cy="389.28" r="0.45" fill="#232a96" fill-opacity="0.6"/>
<circle cx="286.32" cy="388.33" r="0.45" fill="#232a96" fill-opacity="0.6"/>
<circle cx="293.56" cy="385.09" r="0.45" fill="#232a96" fill-opacity="0.6"/>
<circle cx="282.97" cy="391.62" r="0.45" fill="#232a96" fill-opacity="0.6"/>
<circle cx="291.04" cy="385.79" r="0.45" fill="#232a96" fill-opacity="0.6"/>
<circle cx="282.29" cy="389.81" r="0.45" fill="#232a96" fill-opacity="0.6"/>
<circle cx="279.60" cy="388.35" r="0.45" fill="#232a96" fill-opacity="0.6"/>
<circle cx="277.61" cy="390.68" r="0.45" fill="#232a96" fill-opacity="0.6"/>
<circle cx="292.14" cy="387.50" r="0.45" fill="#232a96" fill-opacity="0.6"/>
<circle cx="276.21" cy="392.43" r="0.45" fill="#232a96" fill-opacity="0.6"/>
<circle cx="292.52" cy="388.10" r="0.45" fill="#232a96" fill-opacity="0.6"/>
<circle cx="280.37" cy="390.91" r="0.45" fill="#232a96" fill-opacity="0.6"/>
<circle cx="274.07" cy="392.37" r="0.45" fill="#232a96" fill-opacity="0.6"/>
<circle cx="287.61" cy="387.07" r="0.45" fill="#232a96" fill-opacity="0.6"/>
<circle cx="288.53" cy="386.64" r="0.45" fill="#232a96" fill-opacity="0.6"/>
<circle cx="274.57" cy="390.38" r="0.45" fill="#232a96" fill-opacity="0.6"/>
<circle cx="290.21" cy="387.49" r="0.45" fill="#232a96" fill-opacity="0.6"/>
<circle cx="290.25" cy="388.99" r="0.45" fill="#232a96" fill-opacity="0.6"/>
<circle cx="291.25" cy="387.79" r="0.45" fill="#232a96" fill-opacity="0.6"/>
<circle cx="292.22" cy="388.87" r="0.45" fill="#232a96" fill-opacity="0.6"/>
<circle cx="277.48" cy="390.95" r="0.45" fill="#232a96" fill-opacity="0.6"/>
<circle cx="275.53" cy="395.29" r="0.45" fill="#232a96" fill-opacity="0.6"/>
<circle cx="290.09" cy="389.28" r="0.45" fill="#232a96" fill-opacity="0.6"/>
<circle cx="286.39" cy="390.52" r="0.45" fill="#232a96" fill-opacity="0.6"/>
<circle cx="279.18" cy="388.49" r="0.45" fill="#232a96" fill-opacity="0.6"/>
<circle cx="275.28" cy="394.35" r="0.45" fill="#232a96" fill-opacity="0.6"/>
<circle cx="277.46" cy="393.11" r="0.45" fill="#232a96" fill-opacity="0.6"/>
<circle cx="279.84" cy="390.39" r="0.45" fill="#232a96" fill-opacity="0.6"/>
<circle cx="278.54" cy="391.21" r="0.45" fill="#232a96" fill-opacity="0.6"/>
<circle cx="279.08" cy="390.52" r="0.45" fill="#232a96" fill-opacity="0.6"/>
<circle cx="279.87" cy="388.95" r="0.45" fill="#232a96" fill-opacity="0.6"/>
<circle cx="293.25" cy="384.08" r="0.45" fill="#232a96" fill-opacity="0.6"/>
<circle cx="286.06" cy="389.28" r="0.45" fill="#232a96" fill-opacity="0.6"/>
<circle cx="273.84" cy="390.32" r="0.45" fill="#232a96" fill-opacity="0.6"/>
<circle cx="289.28" cy="389.72" r="0.45" fill="#232a96" fill-opacity="0.6"/>
<circle cx="280.41" cy="389.95" r="0.45" fill="#232a96" fill-opacity="0.6"/>
<circle cx="277.70" cy="388.94" r="0.45" fill="#232a96" fill-opacity="0.6"/>
<circle cx="291.13" cy="391.21" r="0.45" fill="#232a96" fill-opacity="0.6"/>
<circle cx="276.74" cy="393.32" r="0.45" fill="#232a96" fill-opacity="0.6"/>
<circle cx="273.23" cy="393.15" r="0.45" fill="#232a96" fill-opacity="0.6"/>
<circle cx="293.54" cy="390.80" r="0.45" fill="#232a96" fill-opacity="0.6"/>
<circle cx="273.29" cy="389.97" r="0.45" fill="#232a96" fill-opacity="0.6"/>
<circle cx="289.77" cy="388.68" r="0.45" fill="#232a96" fill-opacity="0.6"/>
<circle cx="277.04" cy="389.60" r="0.45" fill="#232a96" fill-opacity="0.6"/>
<circle cx="290.50" cy="388.45" r="0.45" fill="#232a96" fill-opacity="0.6"/>
<circle cx="278.62" cy="392.46" r="0.45" fill="#232a96" fill-opacity="0.6"/>
<circle cx="277.67" cy="390.68" r="0.45" fill="#232a96" fill-opacity="0.6"/>
<circle cx="287.75" cy="388.08" r="0.45" fill="#232a96" fill-opacity="0.6"/>
<circle cx="286.44" cy="389.30" r="0.45" fill="#232a96" fill-opacity="0.6"/>
<circle cx="274.88" cy="392.52" r="0.45" fill="#232a96" fill-opacity="0.6"/>
<circle cx="289.57" cy="385.75" r="0.45" fill="#232a96" fill-opacity="0.6"/>
<circle cx="286.26" cy="388.14" r="0.45" fill="#232a96" fill-opacity="0.6"/>
<circle cx="281.41" cy="391.91" r="0.45" fill="#232a96" fill-opacity="0.6"/>
<circle cx="291.72" cy="391.54" r="0.45" fill="#232a96" fill-opacity="0.6"/>
<circle cx="273.72" cy="394.14" r="0.45" fill="#232a96" fill-opacity="0.6"/>
<circle cx="277.49" cy="390.92" r="0.45" fill="#232a96" fill-opacity="0.6"/>
<circle cx="283.62" cy="393.98" r="0.45" fill="#232a96" fill-opacity="0.6"/>
<circle cx="281.09" cy="391.50" r="0.45" fill="#232a96" fill-opacity="0.6"/>
<circle cx="282.79" cy="389.17" r="0.45" fill="#232a96" fill-opacity="0.6"/>
<circle cx="297.85" cy="385.85" r="0.45" fill="#7a7ad0" fill-opacity="0.45"/>
<circle cx="273.61" cy="388.07" r="0.45" fill="#7a7ad0" fill-opacity="0.45"/>
<circle cx="280.94" cy="392.53" r="0.45" fill="#7a7ad0" fill-opacity="0.45"/>
<circle cx="289.38" cy="393.10" r="0.45" fill="#7a7ad0" fill-opacity="0.45"/>
<circle cx="286.15" cy="385.43" r="0.45" fill="#7a7ad0" fill-opacity="0.45"/>
<circle cx="281.01" cy="393.12" r="0.45" fill="#7a7ad0" fill-opacity="0.45"/>
<circle cx="276.10" cy="387.92" r="0.45" fill="#7a7ad0" fill-opacity="0.45"/>
<circle cx="284.93" cy="391.84" r="0.45" fill="#7a7ad0" fill-opacity="0.45"/>
<circle cx="281.50" cy="389.01" r="0.45" fill="#7a7ad0" fill-opacity="0.45"/>
<circle cx="277.76" cy="393.41" r="0.45" fill="#7a7ad0" fill-opacity="0.45"/>
<circle cx="281.58" cy="385.19" r="0.45" fill="#7a7ad0" fill-opacity="0.45"/>
<circle cx="278.13" cy="392.46" r="0.45" fill="#7a7ad0" fill-opacity="0.45"/>
<circle cx="273.40" cy="394.64" r="0.45" fill="#7a7ad0" fill-opacity="0.45"/>
<circle cx="282.00" cy="390.03" r="0.45" fill="#7a7ad0" fill-opacity="0.45"/>
<circle cx="277.78" cy="392.79" r="0.45" fill="#7a7ad0" fill-opacity="0.45"/>
<circle cx="297.14" cy="386.23" r="0.45" fill="#7a7ad0" fill-opacity="0.45"/>
<circle cx="304.02" cy="389.70" r="0.45" fill="#7a7ad0" fill-opacity="0.45"/>
<circle cx="285.06" cy="391.23" r="0.45" fill="#7a7ad0" fill-opacity="0.45"/>
<circle cx="299.76" cy="385.85" r="0.45" fill="#7a7ad0" fill-opacity="0.45"/>
<circle cx="274.88" cy="388.86" r="0.45" fill="#7a7ad0" fill-opacity="0.45"/>
<circle cx="280.29" cy="394.41" r="0.45" fill="#7a7ad0" fill-opacity="0.45"/>
<circle cx="281.19" cy="391.63" r="0.45" fill="#7a7ad0" fill-opacity="0.45"/>
<circle cx="276.21" cy="392.01" r="0.45" fill="#7a7ad0" fill-opacity="0.45"/>
<circle cx="294.58" cy="390.43" r="0.45" fill="#7a7ad0" fill-opacity="0.45"/>
<circle cx="279.35" cy="387.75" r="0.45" fill="#7a7ad0" fill-opacity="0.45"/>
<circle cx="284.47" cy="387.41" r="0.45" fill="#7a7ad0" fill-opacity="0.45"/>
<circle cx="286.03" cy="392.34" r="0.45" fill="#7a7ad0" fill-opacity="0.45"/>
<circle cx="293.57" cy="390.31" r="0.45" fill="#7a7ad0" fill-opacity="0.45"/>
<circle cx="286.52" cy="387.65" r="0.45" fill="#7a7ad0" fill-opacity="0.45"/>
<circle cx="295.50" cy="385.21" r="0.45" fill="#7a7ad0" fill-opacity="0.45"/>
<circle cx="282.71" cy="391.07" r="0.45" fill="#7a7ad0" fill-opacity="0.45"/>
<circle cx="278.57" cy="385.34" r="0.45" fill="#7a7ad0" fill-opacity="0.45"/>
<circle cx="276.70" cy="387.13" r="0.45" fill="#7a7ad0" fill-opacity="0.45"/>
<circle cx="286.78" cy="385.83" r="0.45" fill="#7a7ad0" fill-opacity="0.45"/>
<circle cx="283.59" cy="387.52" r="0.45" fill="#7a7ad0" fill-opacity="0.45"/>
<circle cx="281.34" cy="394.04" r="0.45" fill="#7a7ad0" fill-opacity="0.45"/>
<circle cx="285.98" cy="391.07" r="0.45" fill="#7a7ad0" fill-opacity="0.45"/>
<circle cx="277.99" cy="386.81" r="0.45" fill="#7a7ad0" fill-opacity="0.45"/>
<circle cx="281.01" cy="388.94" r="0.45" fill="#7a7ad0" fill-opacity="0.45"/>
<circle cx="287.86" cy="390.40" r="0.45" fill="#7a7ad0" fill-opacity="0.45"/>
<circle cx="284.32" cy="387.77" r="0.45" fill="#7a7ad0" fill-opacity="0.45"/>
<circle cx="288.87" cy="382.99" r="0.45" fill="#7a7ad0" fill-opacity="0.45"/>
<circle cx="282.13" cy="393.96" r="0.45" fill="#7a7ad0" fill-opacity="0.45"/>
<circle cx="275.82" cy="388.89" r="0.45" fill="#7a7ad0" fill-opacity="0.45"/>
<circle cx="305.00" cy="383.76" r="0.45" fill="#7a7ad0" fill-opacity="0.45"/>
<circle cx="291.44" cy="389.02" r="0.45" fill="#7a7ad0" fill-opacity="0.45"/>
<circle cx="287.11" cy="393.28" r="0.45" fill="#7a7ad0" fill-opacity="0.45"/>
<circle cx="290.10" cy="387.25" r="0.45" fill="#7a7ad0" fill-opacity="0.45"/>
<circle cx="288.99" cy="390.90" r="0.45" fill="#7a7ad0" fill-opacity="0.45"/>
<circle cx="296.26" cy="385.99" r="0.45" fill="#7a7ad0" fill-opacity="0.45"/>
<circle cx="294.56" cy="387.20" r="0.45" fill="#7a7ad0" fill-opacity="0.45"/>
<circle cx="281.87" cy="387.30" r="0.45" fill="#7a7ad0" fill-opacity="0.45"/>
<circle cx="304.04" cy="389.05" r="0.45" fill="#7a7ad0" fill-opacity="0.45"/>
<circle cx="278.85" cy="395.08" r="0.45" fill="#7a7ad0" fill-opacity="0.45"/>
<circle cx="293.06" cy="390.80" r="0.45" fill="#7a7ad0" fill-opacity="0.45"/>
<circle cx="304.31" cy="390.98" r="0.45" fill="#7a7ad0" fill-opacity="0.45"/>
<circle cx="276.35" cy="392.26" r="0.45" fill="#7a7ad0" fill-opacity="0.45"/>
<circle cx="275.51" cy="394.49" r="0.45" fill="#7a7ad0" fill-opacity="0.45"/>
<circle cx="288.77" cy="389.02" r="0.45" fill="#7a7ad0" fill-opacity="0.45"/>
<circle cx="293.59" cy="389.79" r="0.45" fill="#7a7ad0" fill-opacity="0.45"/>
<circle cx="280.25" cy="392.41" r="0.45" fill="#7a7ad0" fill-opacity="0.45"/>
<circle cx="277.15" cy="395.88" r="0.45" fill="#7a7ad0" fill-opacity="0.45"/>
<circle cx="290.26" cy="387.18" r="0.45" fill="#7a7ad0" fill-opacity="0.45"/>
<circle cx="278.44" cy="395.99" r="0.45" fill="#7a7ad0" fill-opacity="0.45"/>
<circle cx="281.26" cy="391.64" r="0.45" fill="#7a7ad0" fill-opacity="0.45"/>
<circle cx="291.06" cy="391.79" r="0.45" fill="#7a7ad0" fill-opacity="0.45"/>
<circle cx="280.98" cy="386.79" r="0.45" fill="#7a7ad0" fill-opacity="0.45"/>
<circle cx="292.11" cy="388.73" r="0.45" fill="#7a7ad0" fill-opacity="0.45"/>
<circle cx="279.01" cy="398.06" r="0.45" fill="#7a7ad0" fill-opacity="0.45"/>
<circle cx="286.12" cy="392.54" r="0.45" fill="#7a7ad0" fill-opacity="0.45"/>
<circle cx="284.76" cy="384.98" r="0.45" fill="#7a7ad0" fill-opacity="0.45"/>
<circle cx="285.47" cy="389.97" r="0.45" fill="#7a7ad0" fill-opacity="0.45"/>
<circle cx="280.60" cy="390.14" r="0.45" fill="#7a7ad0" fill-opacity="0.45"/>
<circle cx="280.25" cy="388.38" r="0.45" fill="#7a7ad0" fill-opacity="0.45"/>
<circle cx="280.20" cy="388.88" r="0.45" fill="#7a7ad0" fill-opacity="0.45"/>
<circle cx="281.37" cy="391.91" r="0.45" fill="#7a7ad0" fill-opacity="0.45"/>
<circle cx="281.80" cy="391.11" r="0.45" fill="#7a7ad0" fill-opacity="0.45"/>
<circle cx="297.19" cy="387.00" r="0.45" fill="#7a7ad0" fill-opacity="0.45"/>
<circle cx="275.39" cy="393.78" r="0.45" fill="#7a7ad0" fill-opacity="0.45"/>
<circle cx="278.68" cy="394.03" r="0.45" fill="#7a7ad0" fill-opacity="0.45"/>
<circle cx="292.44" cy="389.70" r="0.45" fill="#7a7ad0" fill-opacity="0.45"/>
<circle cx="280.88" cy="388.27" r="0.45" fill="#7a7ad0" fill-opacity="0.45"/>
<circle cx="299.75" cy="383.98" r="0.45" fill="#7a7ad0" fill-opacity="0.45"/>
<circle cx="299.55" cy="388.25" r="0.45" fill="#7a7ad0" fill-opacity="0.45"/>
<circle cx="295.00" cy="384.67" r="0.45" fill="#7a7ad0" fill-opacity="0.45"/>
<circle cx="291.18" cy="392.32" r="0.45" fill="#7a7ad0" fill-opacity="0.45"/>
<circle cx="274.95" cy="391.45" r="0.45" fill="#7a7ad0" fill-opacity="0.45"/>
<circle cx="305.00" cy="384.59" r="0.45" fill="#7a7ad0" fill-opacity="0.45"/>
<circle cx="279.54" cy="389.04" r="0.45" fill="#7a7ad0" fill-opacity="0.45"/>
<circle cx="279.89" cy="391.65" r="0.45" fill="#7a7ad0" fill-opacity="0.45"/>
<text x="79.50" y="446.10" font-size="3.7" text-anchor="middle" font-weight="normal" fill="#444"  textLength="47.00" lengthAdjust="spacingAndGlyphs">|CD4+) CD137 APC / CD4 PC7</text>
<rect x="57.40" y="449.50" width="43.00" height="42.60" fill="#fff" stroke="#b4b4b4" stroke-width="0.6" />
<line x1="57.40" y1="449.50" x2="57.40" y2="492.10" stroke="#8a8a8a" stroke-width="0.7" />
<line x1="57.40" y1="492.10" x2="100.40" y2="492.10" stroke="#8a8a8a" stroke-width="0.7" />
<line x1="56.10" y1="450.60" x2="57.40" y2="450.60" stroke="#999" stroke-width="0.5" />
<line x1="56.10" y1="458.90" x2="57.40" y2="458.90" stroke="#999" stroke-width="0.5" />
<line x1="56.10" y1="468.90" x2="57.40" y2="468.90" stroke="#999" stroke-width="0.5" />
<line x1="56.10" y1="478.00" x2="57.40" y2="478.00" stroke="#999" stroke-width="0.5" />
<line x1="56.10" y1="486.60" x2="57.40" y2="486.60" stroke="#999" stroke-width="0.5" />
<line x1="56.10" y1="491.10" x2="57.40" y2="491.10" stroke="#999" stroke-width="0.5" />
<line x1="60.40" y1="492.10" x2="60.40" y2="493.40" stroke="#999" stroke-width="0.5" />
<line x1="70.40" y1="492.10" x2="70.40" y2="493.40" stroke="#999" stroke-width="0.5" />
<line x1="80.40" y1="492.10" x2="80.40" y2="493.40" stroke="#999" stroke-width="0.5" />
<line x1="90.40" y1="492.10" x2="90.40" y2="493.40" stroke="#999" stroke-width="0.5" />
<line x1="100.40" y1="492.10" x2="100.40" y2="493.40" stroke="#999" stroke-width="0.5" />
<text x="54.20" y="451.90" font-size="3.8" text-anchor="end" font-weight="normal" fill="#666" >10<tspan dy="-1.3" font-size="2.4">4</tspan></text>
<text x="54.20" y="460.20" font-size="3.8" text-anchor="end" font-weight="normal" fill="#666" >10<tspan dy="-1.3" font-size="2.4">3</tspan></text>
<text x="54.20" y="470.20" font-size="3.8" text-anchor="end" font-weight="normal" fill="#666" >10<tspan dy="-1.3" font-size="2.4">2</tspan></text>
<text x="54.20" y="479.30" font-size="3.8" text-anchor="end" font-weight="normal" fill="#666" >10<tspan dy="-1.3" font-size="2.4">1</tspan></text>
<text x="54.20" y="487.90" font-size="3.8" text-anchor="end" font-weight="normal" fill="#666" >-10<tspan dy="-1.3" font-size="2.4">1</tspan></text>
<text x="54.20" y="492.40" font-size="3.8" text-anchor="end" font-weight="normal" fill="#666" >0</text>
<text x="59.40" y="500.90" font-size="3.8" text-anchor="middle" font-weight="normal" fill="#666" >0 10<tspan dy="-1.3" font-size="2.4">-1</tspan></text>
<text x="70.30" y="500.90" font-size="3.8" text-anchor="middle" font-weight="normal" fill="#666" >10<tspan dy="-1.3" font-size="2.4">1</tspan></text>
<text x="80.30" y="500.90" font-size="3.8" text-anchor="middle" font-weight="normal" fill="#666" >10<tspan dy="-1.3" font-size="2.4">2</tspan></text>
<text x="89.80" y="500.90" font-size="3.8" text-anchor="middle" font-weight="normal" fill="#666" >10<tspan dy="-1.3" font-size="2.4">3</tspan></text>
<text x="98.10" y="500.90" font-size="3.8" text-anchor="middle" font-weight="normal" fill="#666" >10<tspan dy="-1.3" font-size="2.4">4</tspan></text>
<text x="79.70" y="510.30" font-size="6.4" text-anchor="middle" font-weight="normal" fill="#2a2a2a"  textLength="22.30" lengthAdjust="spacingAndGlyphs">CD137 APC</text>
<text x="44.00" y="471.50" font-size="6.2" text-anchor="middle" font-weight="normal" fill="#2a2a2a" transform="rotate(-90 44.00 471.50)"  textLength="18.50" lengthAdjust="spacingAndGlyphs">CD4 PC7</text>
<rect x="67.40" y="452.00" width="31.60" height="24.40" fill="none" stroke="#8a8a8a" stroke-width="0.6" />
<rect x="86.40" y="471.10" width="12.10" height="4.60" fill="#fff" stroke="#aaa" stroke-width="0.35" />
<text x="92.50" y="474.80" font-size="4.2" text-anchor="middle" font-weight="normal" fill="#333"  textLength="10.20" lengthAdjust="spacingAndGlyphs">8,14%</text>
<ellipse cx="63.00" cy="466.00" rx="2.8" ry="3.4" fill="#77b0e0" fill-opacity="0.85" filter="url(#bl1)" transform="rotate(0 63.00 466.00)"/>
<circle cx="63.36" cy="469.79" r="0.45" fill="#5a9ad6" fill-opacity="0.6"/>
<circle cx="62.34" cy="467.04" r="0.45" fill="#5a9ad6" fill-opacity="0.6"/>
<circle cx="65.92" cy="463.79" r="0.45" fill="#5a9ad6" fill-opacity="0.6"/>
<circle cx="65.08" cy="470.03" r="0.45" fill="#5a9ad6" fill-opacity="0.6"/>
<circle cx="60.29" cy="463.59" r="0.45" fill="#5a9ad6" fill-opacity="0.6"/>
<circle cx="60.92" cy="461.94" r="0.45" fill="#5a9ad6" fill-opacity="0.6"/>
<circle cx="63.91" cy="461.92" r="0.45" fill="#5a9ad6" fill-opacity="0.6"/>
<circle cx="64.00" cy="469.20" r="0.45" fill="#5a9ad6" fill-opacity="0.6"/>
<circle cx="59.77" cy="465.30" r="0.45" fill="#5a9ad6" fill-opacity="0.6"/>
<circle cx="59.16" cy="467.71" r="0.45" fill="#5a9ad6" fill-opacity="0.6"/>
<circle cx="61.53" cy="465.42" r="0.45" fill="#5a9ad6" fill-opacity="0.6"/>
<circle cx="63.11" cy="467.20" r="0.45" fill="#5a9ad6" fill-opacity="0.6"/>
<circle cx="62.31" cy="466.03" r="0.45" fill="#5a9ad6" fill-opacity="0.6"/>
<circle cx="61.91" cy="466.25" r="0.45" fill="#5a9ad6" fill-opacity="0.6"/>
<circle cx="60.65" cy="466.14" r="0.45" fill="#5a9ad6" fill-opacity="0.6"/>
<circle cx="59.14" cy="464.92" r="0.45" fill="#5a9ad6" fill-opacity="0.6"/>
<circle cx="66.83" cy="466.18" r="0.45" fill="#5a9ad6" fill-opacity="0.6"/>
<circle cx="60.48" cy="466.57" r="0.45" fill="#5a9ad6" fill-opacity="0.6"/>
<circle cx="61.06" cy="462.37" r="0.45" fill="#5a9ad6" fill-opacity="0.6"/>
<circle cx="61.53" cy="467.62" r="0.45" fill="#5a9ad6" fill-opacity="0.6"/>
<circle cx="63.77" cy="465.79" r="0.45" fill="#5a9ad6" fill-opacity="0.6"/>
<circle cx="61.15" cy="463.63" r="0.45" fill="#5a9ad6" fill-opacity="0.6"/>
<circle cx="65.70" cy="466.54" r="0.45" fill="#5a9ad6" fill-opacity="0.6"/>
<circle cx="61.10" cy="461.36" r="0.45" fill="#5a9ad6" fill-opacity="0.6"/>
<circle cx="60.26" cy="471.45" r="0.45" fill="#5a9ad6" fill-opacity="0.6"/>
<circle cx="60.70" cy="465.83" r="0.45" fill="#5a9ad6" fill-opacity="0.6"/>
<circle cx="63.42" cy="465.65" r="0.45" fill="#5a9ad6" fill-opacity="0.6"/>
<circle cx="62.44" cy="462.98" r="0.45" fill="#5a9ad6" fill-opacity="0.6"/>
<circle cx="60.90" cy="469.72" r="0.45" fill="#5a9ad6" fill-opacity="0.6"/>
<circle cx="61.49" cy="467.86" r="0.45" fill="#5a9ad6" fill-opacity="0.6"/>
<circle cx="59.61" cy="465.40" r="0.45" fill="#5a9ad6" fill-opacity="0.6"/>
<circle cx="63.52" cy="468.28" r="0.45" fill="#5a9ad6" fill-opacity="0.6"/>
<circle cx="60.75" cy="467.31" r="0.45" fill="#5a9ad6" fill-opacity="0.6"/>
<circle cx="63.77" cy="464.38" r="0.45" fill="#5a9ad6" fill-opacity="0.6"/>
<circle cx="63.95" cy="464.02" r="0.45" fill="#5a9ad6" fill-opacity="0.6"/>
<circle cx="61.41" cy="465.96" r="0.45" fill="#5a9ad6" fill-opacity="0.6"/>
<circle cx="57.57" cy="465.76" r="0.45" fill="#5a9ad6" fill-opacity="0.6"/>
<circle cx="61.00" cy="462.78" r="0.45" fill="#5a9ad6" fill-opacity="0.6"/>
<circle cx="62.15" cy="467.68" r="0.45" fill="#5a9ad6" fill-opacity="0.6"/>
<circle cx="62.19" cy="468.78" r="0.45" fill="#5a9ad6" fill-opacity="0.6"/>
<circle cx="60.68" cy="463.11" r="0.45" fill="#5a9ad6" fill-opacity="0.6"/>
<circle cx="66.10" cy="466.88" r="0.45" fill="#5a9ad6" fill-opacity="0.6"/>
<circle cx="64.89" cy="464.18" r="0.45" fill="#5a9ad6" fill-opacity="0.6"/>
<circle cx="64.61" cy="466.57" r="0.45" fill="#5a9ad6" fill-opacity="0.6"/>
<circle cx="64.30" cy="466.06" r="0.45" fill="#5a9ad6" fill-opacity="0.6"/>
<circle cx="65.41" cy="464.57" r="0.45" fill="#5a9ad6" fill-opacity="0.6"/>
<circle cx="61.07" cy="462.75" r="0.45" fill="#5a9ad6" fill-opacity="0.6"/>
<circle cx="65.32" cy="464.38" r="0.45" fill="#5a9ad6" fill-opacity="0.6"/>
<circle cx="60.91" cy="463.93" r="0.45" fill="#5a9ad6" fill-opacity="0.6"/>
<circle cx="62.11" cy="463.20" r="0.45" fill="#5a9ad6" fill-opacity="0.6"/>
<circle cx="62.42" cy="464.62" r="0.45" fill="#5a9ad6" fill-opacity="0.6"/>
<circle cx="61.90" cy="463.89" r="0.45" fill="#5a9ad6" fill-opacity="0.6"/>
<circle cx="63.07" cy="464.99" r="0.45" fill="#5a9ad6" fill-opacity="0.6"/>
<circle cx="63.23" cy="466.55" r="0.45" fill="#5a9ad6" fill-opacity="0.6"/>
<circle cx="63.68" cy="461.18" r="0.45" fill="#5a9ad6" fill-opacity="0.6"/>
<circle cx="61.93" cy="464.25" r="0.45" fill="#5a9ad6" fill-opacity="0.6"/>
<circle cx="64.55" cy="462.53" r="0.45" fill="#5a9ad6" fill-opacity="0.6"/>
<circle cx="61.57" cy="465.35" r="0.45" fill="#5a9ad6" fill-opacity="0.6"/>
<circle cx="62.33" cy="468.18" r="0.45" fill="#5a9ad6" fill-opacity="0.6"/>
<circle cx="62.11" cy="468.12" r="0.45" fill="#5a9ad6" fill-opacity="0.6"/>
<circle cx="76.19" cy="461.29" r="0.45" fill="#a8c8ea" fill-opacity="0.5"/>
<circle cx="73.97" cy="467.13" r="0.45" fill="#a8c8ea" fill-opacity="0.5"/>
<circle cx="67.39" cy="466.32" r="0.45" fill="#a8c8ea" fill-opacity="0.5"/>
<circle cx="67.36" cy="462.84" r="0.45" fill="#a8c8ea" fill-opacity="0.5"/>
<circle cx="71.54" cy="464.62" r="0.45" fill="#a8c8ea" fill-opacity="0.5"/>
<circle cx="71.87" cy="466.23" r="0.45" fill="#a8c8ea" fill-opacity="0.5"/>
<circle cx="80.76" cy="462.65" r="0.45" fill="#a8c8ea" fill-opacity="0.5"/>
<circle cx="73.15" cy="465.64" r="0.45" fill="#a8c8ea" fill-opacity="0.5"/>
<circle cx="66.56" cy="466.63" r="0.45" fill="#a8c8ea" fill-opacity="0.5"/>
<circle cx="66.83" cy="464.58" r="0.45" fill="#a8c8ea" fill-opacity="0.5"/>
<circle cx="63.92" cy="466.38" r="0.45" fill="#a8c8ea" fill-opacity="0.5"/>
<circle cx="76.65" cy="466.12" r="0.45" fill="#a8c8ea" fill-opacity="0.5"/>
<circle cx="79.92" cy="470.69" r="0.45" fill="#a8c8ea" fill-opacity="0.5"/>
<circle cx="78.45" cy="468.76" r="0.45" fill="#a8c8ea" fill-opacity="0.5"/>
<circle cx="64.17" cy="466.36" r="0.45" fill="#a8c8ea" fill-opacity="0.5"/>
<circle cx="64.28" cy="464.10" r="0.45" fill="#a8c8ea" fill-opacity="0.5"/>
<circle cx="63.60" cy="464.33" r="0.45" fill="#a8c8ea" fill-opacity="0.5"/>
<circle cx="77.76" cy="467.39" r="0.45" fill="#a8c8ea" fill-opacity="0.5"/>
<circle cx="67.02" cy="461.02" r="0.45" fill="#a8c8ea" fill-opacity="0.5"/>
<circle cx="63.48" cy="464.92" r="0.45" fill="#a8c8ea" fill-opacity="0.5"/>
<circle cx="72.77" cy="463.05" r="0.45" fill="#a8c8ea" fill-opacity="0.5"/>
<circle cx="83.25" cy="467.48" r="0.45" fill="#a8c8ea" fill-opacity="0.5"/>
<circle cx="63.59" cy="472.71" r="0.45" fill="#a8c8ea" fill-opacity="0.5"/>
<circle cx="63.28" cy="465.61" r="0.45" fill="#a8c8ea" fill-opacity="0.5"/>
<circle cx="76.00" cy="466.35" r="0.45" fill="#a8c8ea" fill-opacity="0.5"/>
<circle cx="64.51" cy="465.03" r="0.45" fill="#a8c8ea" fill-opacity="0.5"/>
<circle cx="68.45" cy="469.90" r="0.45" fill="#a8c8ea" fill-opacity="0.5"/>
<circle cx="72.00" cy="470.46" r="0.45" fill="#a8c8ea" fill-opacity="0.5"/>
<circle cx="66.15" cy="466.08" r="0.45" fill="#a8c8ea" fill-opacity="0.5"/>
<circle cx="70.93" cy="468.51" r="0.45" fill="#a8c8ea" fill-opacity="0.5"/>
<text x="148.40" y="446.10" font-size="3.7" text-anchor="middle" font-weight="normal" fill="#444"  textLength="47.00" lengthAdjust="spacingAndGlyphs">|CD4+) CD137 APC / CD4 PC7</text>
<rect x="126.30" y="449.50" width="43.00" height="42.60" fill="#fff" stroke="#b4b4b4" stroke-width="0.6" />
<line x1="126.30" y1="449.50" x2="126.30" y2="492.10" stroke="#8a8a8a" stroke-width="0.7" />
<line x1="126.30" y1="492.10" x2="169.30" y2="492.10" stroke="#8a8a8a" stroke-width="0.7" />
<line x1="125.00" y1="450.60" x2="126.30" y2="450.60" stroke="#999" stroke-width="0.5" />
<line x1="125.00" y1="458.90" x2="126.30" y2="458.90" stroke="#999" stroke-width="0.5" />
<line x1="125.00" y1="468.90" x2="126.30" y2="468.90" stroke="#999" stroke-width="0.5" />
<line x1="125.00" y1="478.00" x2="126.30" y2="478.00" stroke="#999" stroke-width="0.5" />
<line x1="125.00" y1="486.60" x2="126.30" y2="486.60" stroke="#999" stroke-width="0.5" />
<line x1="125.00" y1="491.10" x2="126.30" y2="491.10" stroke="#999" stroke-width="0.5" />
<line x1="129.30" y1="492.10" x2="129.30" y2="493.40" stroke="#999" stroke-width="0.5" />
<line x1="139.30" y1="492.10" x2="139.30" y2="493.40" stroke="#999" stroke-width="0.5" />
<line x1="149.30" y1="492.10" x2="149.30" y2="493.40" stroke="#999" stroke-width="0.5" />
<line x1="159.30" y1="492.10" x2="159.30" y2="493.40" stroke="#999" stroke-width="0.5" />
<line x1="169.30" y1="492.10" x2="169.30" y2="493.40" stroke="#999" stroke-width="0.5" />
<text x="123.10" y="451.90" font-size="3.8" text-anchor="end" font-weight="normal" fill="#666" >10<tspan dy="-1.3" font-size="2.4">4</tspan></text>
<text x="123.10" y="460.20" font-size="3.8" text-anchor="end" font-weight="normal" fill="#666" >10<tspan dy="-1.3" font-size="2.4">3</tspan></text>
<text x="123.10" y="470.20" font-size="3.8" text-anchor="end" font-weight="normal" fill="#666" >10<tspan dy="-1.3" font-size="2.4">2</tspan></text>
<text x="123.10" y="479.30" font-size="3.8" text-anchor="end" font-weight="normal" fill="#666" >10<tspan dy="-1.3" font-size="2.4">1</tspan></text>
<text x="123.10" y="487.90" font-size="3.8" text-anchor="end" font-weight="normal" fill="#666" >-10<tspan dy="-1.3" font-size="2.4">1</tspan></text>
<text x="123.10" y="492.40" font-size="3.8" text-anchor="end" font-weight="normal" fill="#666" >0</text>
<text x="128.30" y="500.90" font-size="3.8" text-anchor="middle" font-weight="normal" fill="#666" >0 10<tspan dy="-1.3" font-size="2.4">-1</tspan></text>
<text x="139.20" y="500.90" font-size="3.8" text-anchor="middle" font-weight="normal" fill="#666" >10<tspan dy="-1.3" font-size="2.4">1</tspan></text>
<text x="149.20" y="500.90" font-size="3.8" text-anchor="middle" font-weight="normal" fill="#666" >10<tspan dy="-1.3" font-size="2.4">2</tspan></text>
<text x="158.70" y="500.90" font-size="3.8" text-anchor="middle" font-weight="normal" fill="#666" >10<tspan dy="-1.3" font-size="2.4">3</tspan></text>
<text x="167.00" y="500.90" font-size="3.8" text-anchor="middle" font-weight="normal" fill="#666" >10<tspan dy="-1.3" font-size="2.4">4</tspan></text>
<text x="148.60" y="510.30" font-size="6.4" text-anchor="middle" font-weight="normal" fill="#2a2a2a"  textLength="22.30" lengthAdjust="spacingAndGlyphs">CD137 APC</text>
<text x="112.90" y="471.50" font-size="6.2" text-anchor="middle" font-weight="normal" fill="#2a2a2a" transform="rotate(-90 112.90 471.50)"  textLength="18.50" lengthAdjust="spacingAndGlyphs">CD4 PC7</text>
<rect x="136.30" y="452.00" width="31.60" height="24.40" fill="none" stroke="#8a8a8a" stroke-width="0.6" />
<rect x="155.30" y="471.10" width="12.10" height="4.60" fill="#fff" stroke="#aaa" stroke-width="0.35" />
<text x="161.40" y="474.80" font-size="4.2" text-anchor="middle" font-weight="normal" fill="#333"  textLength="10.20" lengthAdjust="spacingAndGlyphs">6,60%</text>
<ellipse cx="131.90" cy="466.00" rx="3.6" ry="2.8" fill="#77b0e0" fill-opacity="0.85" filter="url(#bl1)" transform="rotate(0 131.90 466.00)"/>
<circle cx="129.11" cy="467.24" r="0.45" fill="#5a9ad6" fill-opacity="0.6"/>
<circle cx="134.09" cy="469.10" r="0.45" fill="#5a9ad6" fill-opacity="0.6"/>
<circle cx="130.02" cy="468.40" r="0.45" fill="#5a9ad6" fill-opacity="0.6"/>
<circle cx="130.47" cy="464.33" r="0.45" fill="#5a9ad6" fill-opacity="0.6"/>
<circle cx="129.25" cy="468.54" r="0.45" fill="#5a9ad6" fill-opacity="0.6"/>
<circle cx="135.20" cy="464.69" r="0.45" fill="#5a9ad6" fill-opacity="0.6"/>
<circle cx="130.38" cy="465.25" r="0.45" fill="#5a9ad6" fill-opacity="0.6"/>
<circle cx="136.91" cy="468.21" r="0.45" fill="#5a9ad6" fill-opacity="0.6"/>
<circle cx="130.81" cy="462.05" r="0.45" fill="#5a9ad6" fill-opacity="0.6"/>
<circle cx="130.55" cy="468.61" r="0.45" fill="#5a9ad6" fill-opacity="0.6"/>
<circle cx="135.64" cy="465.41" r="0.45" fill="#5a9ad6" fill-opacity="0.6"/>
<circle cx="130.52" cy="464.88" r="0.45" fill="#5a9ad6" fill-opacity="0.6"/>
<circle cx="128.13" cy="468.00" r="0.45" fill="#5a9ad6" fill-opacity="0.6"/>
<circle cx="129.73" cy="468.34" r="0.45" fill="#5a9ad6" fill-opacity="0.6"/>
<circle cx="128.48" cy="463.21" r="0.45" fill="#5a9ad6" fill-opacity="0.6"/>
<circle cx="132.48" cy="464.32" r="0.45" fill="#5a9ad6" fill-opacity="0.6"/>
<circle cx="133.46" cy="466.02" r="0.45" fill="#5a9ad6" fill-opacity="0.6"/>
<circle cx="129.55" cy="467.37" r="0.45" fill="#5a9ad6" fill-opacity="0.6"/>
<circle cx="133.58" cy="461.79" r="0.45" fill="#5a9ad6" fill-opacity="0.6"/>
<circle cx="135.55" cy="467.09" r="0.45" fill="#5a9ad6" fill-opacity="0.6"/>
<circle cx="133.42" cy="461.91" r="0.45" fill="#5a9ad6" fill-opacity="0.6"/>
<circle cx="130.46" cy="465.23" r="0.45" fill="#5a9ad6" fill-opacity="0.6"/>
<circle cx="134.05" cy="462.79" r="0.45" fill="#5a9ad6" fill-opacity="0.6"/>
<circle cx="130.13" cy="461.53" r="0.45" fill="#5a9ad6" fill-opacity="0.6"/>
<circle cx="131.42" cy="466.76" r="0.45" fill="#5a9ad6" fill-opacity="0.6"/>
<circle cx="128.53" cy="464.70" r="0.45" fill="#5a9ad6" fill-opacity="0.6"/>
<circle cx="132.92" cy="469.49" r="0.45" fill="#5a9ad6" fill-opacity="0.6"/>
<circle cx="133.23" cy="465.33" r="0.45" fill="#5a9ad6" fill-opacity="0.6"/>
<circle cx="129.54" cy="463.94" r="0.45" fill="#5a9ad6" fill-opacity="0.6"/>
<circle cx="130.57" cy="466.32" r="0.45" fill="#5a9ad6" fill-opacity="0.6"/>
<circle cx="131.80" cy="469.67" r="0.45" fill="#5a9ad6" fill-opacity="0.6"/>
<circle cx="132.47" cy="463.64" r="0.45" fill="#5a9ad6" fill-opacity="0.6"/>
<circle cx="134.99" cy="468.09" r="0.45" fill="#5a9ad6" fill-opacity="0.6"/>
<circle cx="132.10" cy="464.41" r="0.45" fill="#5a9ad6" fill-opacity="0.6"/>
<circle cx="128.16" cy="463.75" r="0.45" fill="#5a9ad6" fill-opacity="0.6"/>
<circle cx="133.72" cy="464.23" r="0.45" fill="#5a9ad6" fill-opacity="0.6"/>
<circle cx="129.26" cy="466.43" r="0.45" fill="#5a9ad6" fill-opacity="0.6"/>
<circle cx="132.39" cy="467.33" r="0.45" fill="#5a9ad6" fill-opacity="0.6"/>
<circle cx="133.21" cy="469.10" r="0.45" fill="#5a9ad6" fill-opacity="0.6"/>
<circle cx="130.22" cy="468.15" r="0.45" fill="#5a9ad6" fill-opacity="0.6"/>
<circle cx="129.93" cy="467.53" r="0.45" fill="#5a9ad6" fill-opacity="0.6"/>
<circle cx="132.26" cy="466.54" r="0.45" fill="#5a9ad6" fill-opacity="0.6"/>
<circle cx="133.84" cy="465.96" r="0.45" fill="#5a9ad6" fill-opacity="0.6"/>
<circle cx="134.12" cy="467.93" r="0.45" fill="#5a9ad6" fill-opacity="0.6"/>
<circle cx="132.17" cy="464.75" r="0.45" fill="#5a9ad6" fill-opacity="0.6"/>
<circle cx="130.39" cy="464.84" r="0.45" fill="#5a9ad6" fill-opacity="0.6"/>
<circle cx="131.50" cy="465.95" r="0.45" fill="#5a9ad6" fill-opacity="0.6"/>
<circle cx="137.86" cy="467.40" r="0.45" fill="#5a9ad6" fill-opacity="0.6"/>
<circle cx="133.44" cy="464.11" r="0.45" fill="#5a9ad6" fill-opacity="0.6"/>
<circle cx="130.48" cy="465.30" r="0.45" fill="#5a9ad6" fill-opacity="0.6"/>
<circle cx="132.28" cy="463.72" r="0.45" fill="#5a9ad6" fill-opacity="0.6"/>
<circle cx="135.12" cy="464.76" r="0.45" fill="#5a9ad6" fill-opacity="0.6"/>
<circle cx="134.06" cy="460.86" r="0.45" fill="#5a9ad6" fill-opacity="0.6"/>
<circle cx="131.89" cy="466.61" r="0.45" fill="#5a9ad6" fill-opacity="0.6"/>
<circle cx="132.28" cy="467.32" r="0.45" fill="#5a9ad6" fill-opacity="0.6"/>
<circle cx="132.46" cy="466.36" r="0.45" fill="#5a9ad6" fill-opacity="0.6"/>
<circle cx="128.11" cy="464.43" r="0.45" fill="#5a9ad6" fill-opacity="0.6"/>
<circle cx="127.21" cy="467.38" r="0.45" fill="#5a9ad6" fill-opacity="0.6"/>
<circle cx="132.51" cy="465.57" r="0.45" fill="#5a9ad6" fill-opacity="0.6"/>
<circle cx="130.26" cy="464.72" r="0.45" fill="#5a9ad6" fill-opacity="0.6"/>
<circle cx="148.51" cy="470.50" r="0.45" fill="#a8c8ea" fill-opacity="0.5"/>
<circle cx="132.42" cy="469.35" r="0.45" fill="#a8c8ea" fill-opacity="0.5"/>
<circle cx="146.19" cy="460.97" r="0.45" fill="#a8c8ea" fill-opacity="0.5"/>
<circle cx="136.25" cy="463.73" r="0.45" fill="#a8c8ea" fill-opacity="0.5"/>
<circle cx="136.93" cy="466.49" r="0.45" fill="#a8c8ea" fill-opacity="0.5"/>
<circle cx="159.12" cy="464.28" r="0.45" fill="#a8c8ea" fill-opacity="0.5"/>
<circle cx="132.35" cy="466.72" r="0.45" fill="#a8c8ea" fill-opacity="0.5"/>
<circle cx="132.21" cy="468.42" r="0.45" fill="#a8c8ea" fill-opacity="0.5"/>
<circle cx="147.88" cy="462.77" r="0.45" fill="#a8c8ea" fill-opacity="0.5"/>
<circle cx="133.36" cy="465.31" r="0.45" fill="#a8c8ea" fill-opacity="0.5"/>
<circle cx="135.11" cy="462.02" r="0.45" fill="#a8c8ea" fill-opacity="0.5"/>
<circle cx="147.72" cy="459.98" r="0.45" fill="#a8c8ea" fill-opacity="0.5"/>
<circle cx="136.63" cy="466.50" r="0.45" fill="#a8c8ea" fill-opacity="0.5"/>
<circle cx="132.56" cy="459.85" r="0.45" fill="#a8c8ea" fill-opacity="0.5"/>
<circle cx="135.26" cy="464.04" r="0.45" fill="#a8c8ea" fill-opacity="0.5"/>
<circle cx="144.62" cy="463.62" r="0.45" fill="#a8c8ea" fill-opacity="0.5"/>
<circle cx="138.18" cy="467.41" r="0.45" fill="#a8c8ea" fill-opacity="0.5"/>
<circle cx="132.10" cy="467.34" r="0.45" fill="#a8c8ea" fill-opacity="0.5"/>
<circle cx="137.33" cy="466.19" r="0.45" fill="#a8c8ea" fill-opacity="0.5"/>
<circle cx="132.26" cy="467.44" r="0.45" fill="#a8c8ea" fill-opacity="0.5"/>
<circle cx="132.53" cy="465.63" r="0.45" fill="#a8c8ea" fill-opacity="0.5"/>
<circle cx="133.11" cy="464.32" r="0.45" fill="#a8c8ea" fill-opacity="0.5"/>
<circle cx="152.00" cy="467.34" r="0.45" fill="#a8c8ea" fill-opacity="0.5"/>
<circle cx="135.76" cy="471.96" r="0.45" fill="#a8c8ea" fill-opacity="0.5"/>
<circle cx="144.53" cy="461.95" r="0.45" fill="#a8c8ea" fill-opacity="0.5"/>
<circle cx="138.16" cy="468.18" r="0.45" fill="#a8c8ea" fill-opacity="0.5"/>
<circle cx="148.86" cy="469.42" r="0.45" fill="#a8c8ea" fill-opacity="0.5"/>
<circle cx="138.84" cy="462.94" r="0.45" fill="#a8c8ea" fill-opacity="0.5"/>
<circle cx="139.74" cy="466.70" r="0.45" fill="#a8c8ea" fill-opacity="0.5"/>
<circle cx="136.44" cy="463.34" r="0.45" fill="#a8c8ea" fill-opacity="0.5"/>
<text x="217.20" y="446.10" font-size="3.7" text-anchor="middle" font-weight="normal" fill="#444"  textLength="47.00" lengthAdjust="spacingAndGlyphs">|CD4+) CD137 APC / CD4 PC7</text>
<rect x="195.10" y="449.50" width="43.00" height="42.60" fill="#fff" stroke="#b4b4b4" stroke-width="0.6" />
<line x1="195.10" y1="449.50" x2="195.10" y2="492.10" stroke="#8a8a8a" stroke-width="0.7" />
<line x1="195.10" y1="492.10" x2="238.10" y2="492.10" stroke="#8a8a8a" stroke-width="0.7" />
<line x1="193.80" y1="450.60" x2="195.10" y2="450.60" stroke="#999" stroke-width="0.5" />
<line x1="193.80" y1="458.90" x2="195.10" y2="458.90" stroke="#999" stroke-width="0.5" />
<line x1="193.80" y1="468.90" x2="195.10" y2="468.90" stroke="#999" stroke-width="0.5" />
<line x1="193.80" y1="478.00" x2="195.10" y2="478.00" stroke="#999" stroke-width="0.5" />
<line x1="193.80" y1="486.60" x2="195.10" y2="486.60" stroke="#999" stroke-width="0.5" />
<line x1="193.80" y1="491.10" x2="195.10" y2="491.10" stroke="#999" stroke-width="0.5" />
<line x1="198.10" y1="492.10" x2="198.10" y2="493.40" stroke="#999" stroke-width="0.5" />
<line x1="208.10" y1="492.10" x2="208.10" y2="493.40" stroke="#999" stroke-width="0.5" />
<line x1="218.10" y1="492.10" x2="218.10" y2="493.40" stroke="#999" stroke-width="0.5" />
<line x1="228.10" y1="492.10" x2="228.10" y2="493.40" stroke="#999" stroke-width="0.5" />
<line x1="238.10" y1="492.10" x2="238.10" y2="493.40" stroke="#999" stroke-width="0.5" />
<text x="191.90" y="451.90" font-size="3.8" text-anchor="end" font-weight="normal" fill="#666" >10<tspan dy="-1.3" font-size="2.4">4</tspan></text>
<text x="191.90" y="460.20" font-size="3.8" text-anchor="end" font-weight="normal" fill="#666" >10<tspan dy="-1.3" font-size="2.4">3</tspan></text>
<text x="191.90" y="470.20" font-size="3.8" text-anchor="end" font-weight="normal" fill="#666" >10<tspan dy="-1.3" font-size="2.4">2</tspan></text>
<text x="191.90" y="479.30" font-size="3.8" text-anchor="end" font-weight="normal" fill="#666" >10<tspan dy="-1.3" font-size="2.4">1</tspan></text>
<text x="191.90" y="487.90" font-size="3.8" text-anchor="end" font-weight="normal" fill="#666" >-10<tspan dy="-1.3" font-size="2.4">1</tspan></text>
<text x="191.90" y="492.40" font-size="3.8" text-anchor="end" font-weight="normal" fill="#666" >0</text>
<text x="197.10" y="500.90" font-size="3.8" text-anchor="middle" font-weight="normal" fill="#666" >0 10<tspan dy="-1.3" font-size="2.4">-1</tspan></text>
<text x="208.00" y="500.90" font-size="3.8" text-anchor="middle" font-weight="normal" fill="#666" >10<tspan dy="-1.3" font-size="2.4">1</tspan></text>
<text x="218.00" y="500.90" font-size="3.8" text-anchor="middle" font-weight="normal" fill="#666" >10<tspan dy="-1.3" font-size="2.4">2</tspan></text>
<text x="227.50" y="500.90" font-size="3.8" text-anchor="middle" font-weight="normal" fill="#666" >10<tspan dy="-1.3" font-size="2.4">3</tspan></text>
<text x="235.80" y="500.90" font-size="3.8" text-anchor="middle" font-weight="normal" fill="#666" >10<tspan dy="-1.3" font-size="2.4">4</tspan></text>
<text x="217.40" y="510.30" font-size="6.4" text-anchor="middle" font-weight="normal" fill="#2a2a2a"  textLength="22.30" lengthAdjust="spacingAndGlyphs">CD137 APC</text>
<text x="181.70" y="471.50" font-size="6.2" text-anchor="middle" font-weight="normal" fill="#2a2a2a" transform="rotate(-90 181.70 471.50)"  textLength="18.50" lengthAdjust="spacingAndGlyphs">CD4 PC7</text>
<rect x="205.10" y="452.00" width="31.60" height="24.40" fill="none" stroke="#8a8a8a" stroke-width="0.6" />
<rect x="224.10" y="471.10" width="12.10" height="4.60" fill="#fff" stroke="#aaa" stroke-width="0.35" />
<text x="230.20" y="474.80" font-size="4.2" text-anchor="middle" font-weight="normal" fill="#333"  textLength="10.20" lengthAdjust="spacingAndGlyphs">12,33%</text>
<ellipse cx="200.90" cy="465.40" rx="3.9" ry="4.1" fill="#3f88cc" fill-opacity="1.0" filter="url(#bl1)" transform="rotate(0 200.90 465.40)"/>
<ellipse cx="205.30" cy="464.00" rx="1.6" ry="2.0" fill="#1f2a8e" fill-opacity="0.85" filter="url(#bl1)" transform="rotate(0 205.30 464.00)"/>
<circle cx="207.78" cy="463.64" r="0.45" fill="#4a4ab4" fill-opacity="0.45"/>
<circle cx="205.18" cy="465.41" r="0.45" fill="#4a4ab4" fill-opacity="0.45"/>
<circle cx="207.00" cy="461.63" r="0.45" fill="#4a4ab4" fill-opacity="0.45"/>
<circle cx="214.64" cy="468.43" r="0.45" fill="#4a4ab4" fill-opacity="0.45"/>
<circle cx="205.55" cy="467.06" r="0.45" fill="#4a4ab4" fill-opacity="0.45"/>
<circle cx="208.25" cy="466.18" r="0.45" fill="#4a4ab4" fill-opacity="0.45"/>
<circle cx="208.55" cy="462.77" r="0.45" fill="#4a4ab4" fill-opacity="0.45"/>
<circle cx="209.29" cy="467.03" r="0.45" fill="#4a4ab4" fill-opacity="0.45"/>
<circle cx="211.87" cy="469.32" r="0.45" fill="#4a4ab4" fill-opacity="0.45"/>
<circle cx="221.42" cy="468.98" r="0.45" fill="#4a4ab4" fill-opacity="0.45"/>
<circle cx="220.61" cy="466.38" r="0.45" fill="#4a4ab4" fill-opacity="0.45"/>
<circle cx="207.41" cy="463.16" r="0.45" fill="#4a4ab4" fill-opacity="0.45"/>
<circle cx="211.20" cy="464.88" r="0.45" fill="#4a4ab4" fill-opacity="0.45"/>
<circle cx="204.96" cy="466.21" r="0.45" fill="#4a4ab4" fill-opacity="0.45"/>
<circle cx="220.86" cy="470.15" r="0.45" fill="#4a4ab4" fill-opacity="0.45"/>
<circle cx="222.91" cy="464.53" r="0.45" fill="#4a4ab4" fill-opacity="0.45"/>
<circle cx="210.11" cy="465.74" r="0.45" fill="#4a4ab4" fill-opacity="0.45"/>
<circle cx="206.89" cy="464.10" r="0.45" fill="#4a4ab4" fill-opacity="0.45"/>
<circle cx="205.68" cy="462.62" r="0.45" fill="#4a4ab4" fill-opacity="0.45"/>
<circle cx="206.13" cy="464.54" r="0.45" fill="#4a4ab4" fill-opacity="0.45"/>
<circle cx="207.26" cy="462.55" r="0.45" fill="#4a4ab4" fill-opacity="0.45"/>
<circle cx="205.02" cy="464.71" r="0.45" fill="#4a4ab4" fill-opacity="0.45"/>
<circle cx="209.53" cy="462.05" r="0.45" fill="#4a4ab4" fill-opacity="0.45"/>
<circle cx="208.06" cy="466.96" r="0.45" fill="#4a4ab4" fill-opacity="0.45"/>
<circle cx="209.48" cy="463.72" r="0.45" fill="#4a4ab4" fill-opacity="0.45"/>
<circle cx="208.63" cy="464.03" r="0.45" fill="#4a4ab4" fill-opacity="0.45"/>
<circle cx="210.53" cy="468.33" r="0.45" fill="#4a4ab4" fill-opacity="0.45"/>
<circle cx="205.96" cy="463.06" r="0.45" fill="#4a4ab4" fill-opacity="0.45"/>
<circle cx="207.71" cy="465.09" r="0.45" fill="#4a4ab4" fill-opacity="0.45"/>
<circle cx="211.96" cy="462.83" r="0.45" fill="#4a4ab4" fill-opacity="0.45"/>
<circle cx="205.51" cy="466.21" r="0.45" fill="#4a4ab4" fill-opacity="0.45"/>
<circle cx="214.25" cy="462.16" r="0.45" fill="#4a4ab4" fill-opacity="0.45"/>
<circle cx="208.69" cy="461.66" r="0.45" fill="#4a4ab4" fill-opacity="0.45"/>
<circle cx="205.57" cy="465.45" r="0.45" fill="#4a4ab4" fill-opacity="0.45"/>
<circle cx="205.59" cy="462.16" r="0.45" fill="#4a4ab4" fill-opacity="0.45"/>
<circle cx="205.18" cy="463.80" r="0.45" fill="#4a4ab4" fill-opacity="0.45"/>
<circle cx="207.39" cy="462.59" r="0.45" fill="#4a4ab4" fill-opacity="0.45"/>
<circle cx="213.43" cy="460.58" r="0.45" fill="#4a4ab4" fill-opacity="0.45"/>
<circle cx="206.11" cy="464.62" r="0.45" fill="#4a4ab4" fill-opacity="0.45"/>
<circle cx="212.39" cy="463.14" r="0.45" fill="#4a4ab4" fill-opacity="0.45"/>
<circle cx="209.07" cy="463.24" r="0.45" fill="#4a4ab4" fill-opacity="0.45"/>
<circle cx="210.61" cy="468.77" r="0.45" fill="#4a4ab4" fill-opacity="0.45"/>
<circle cx="207.91" cy="465.66" r="0.45" fill="#4a4ab4" fill-opacity="0.45"/>
<circle cx="212.12" cy="466.94" r="0.45" fill="#4a4ab4" fill-opacity="0.45"/>
<circle cx="214.39" cy="464.68" r="0.45" fill="#4a4ab4" fill-opacity="0.45"/>
<circle cx="213.78" cy="465.57" r="0.45" fill="#4a4ab4" fill-opacity="0.45"/>
<circle cx="213.89" cy="467.22" r="0.45" fill="#4a4ab4" fill-opacity="0.45"/>
<circle cx="211.21" cy="460.21" r="0.45" fill="#4a4ab4" fill-opacity="0.45"/>
<circle cx="210.14" cy="468.01" r="0.45" fill="#4a4ab4" fill-opacity="0.45"/>
<circle cx="214.51" cy="467.32" r="0.45" fill="#4a4ab4" fill-opacity="0.45"/>
<circle cx="219.76" cy="466.43" r="0.45" fill="#4a4ab4" fill-opacity="0.45"/>
<circle cx="213.66" cy="463.80" r="0.45" fill="#4a4ab4" fill-opacity="0.45"/>
<circle cx="214.50" cy="464.35" r="0.45" fill="#4a4ab4" fill-opacity="0.45"/>
<circle cx="206.29" cy="464.49" r="0.45" fill="#4a4ab4" fill-opacity="0.45"/>
<circle cx="210.27" cy="464.25" r="0.45" fill="#4a4ab4" fill-opacity="0.45"/>
<circle cx="206.23" cy="465.62" r="0.45" fill="#4a4ab4" fill-opacity="0.45"/>
<circle cx="204.74" cy="469.02" r="0.45" fill="#4a4ab4" fill-opacity="0.45"/>
<circle cx="208.24" cy="464.80" r="0.45" fill="#4a4ab4" fill-opacity="0.45"/>
<circle cx="206.36" cy="463.10" r="0.45" fill="#4a4ab4" fill-opacity="0.45"/>
<circle cx="215.45" cy="464.96" r="0.45" fill="#4a4ab4" fill-opacity="0.45"/>
<circle cx="213.33" cy="463.25" r="0.45" fill="#4a4ab4" fill-opacity="0.45"/>
<circle cx="205.79" cy="463.53" r="0.45" fill="#4a4ab4" fill-opacity="0.45"/>
<circle cx="213.38" cy="461.81" r="0.45" fill="#4a4ab4" fill-opacity="0.45"/>
<circle cx="208.64" cy="464.94" r="0.45" fill="#4a4ab4" fill-opacity="0.45"/>
<circle cx="214.12" cy="464.71" r="0.45" fill="#4a4ab4" fill-opacity="0.45"/>
<circle cx="205.46" cy="465.80" r="0.45" fill="#4a4ab4" fill-opacity="0.45"/>
<circle cx="208.30" cy="465.33" r="0.45" fill="#4a4ab4" fill-opacity="0.45"/>
<circle cx="218.02" cy="462.00" r="0.45" fill="#4a4ab4" fill-opacity="0.45"/>
<circle cx="210.98" cy="467.10" r="0.45" fill="#4a4ab4" fill-opacity="0.45"/>
<circle cx="204.80" cy="463.16" r="0.45" fill="#4a4ab4" fill-opacity="0.45"/>
<circle cx="213.36" cy="459.58" r="0.45" fill="#4a4ab4" fill-opacity="0.45"/>
<circle cx="211.10" cy="466.21" r="0.45" fill="#4a4ab4" fill-opacity="0.45"/>
<circle cx="209.92" cy="462.12" r="0.45" fill="#4a4ab4" fill-opacity="0.45"/>
<circle cx="219.80" cy="468.08" r="0.45" fill="#4a4ab4" fill-opacity="0.45"/>
<circle cx="205.92" cy="462.45" r="0.45" fill="#4a4ab4" fill-opacity="0.45"/>
<circle cx="205.14" cy="466.76" r="0.45" fill="#4a4ab4" fill-opacity="0.45"/>
<circle cx="225.43" cy="467.26" r="0.45" fill="#4a4ab4" fill-opacity="0.45"/>
<circle cx="210.62" cy="459.61" r="0.45" fill="#4a4ab4" fill-opacity="0.45"/>
<circle cx="210.87" cy="460.33" r="0.45" fill="#4a4ab4" fill-opacity="0.45"/>
<circle cx="213.82" cy="465.56" r="0.45" fill="#4a4ab4" fill-opacity="0.45"/>
<circle cx="222.72" cy="463.13" r="0.45" fill="#4a4ab4" fill-opacity="0.45"/>
<circle cx="204.74" cy="467.11" r="0.45" fill="#4a4ab4" fill-opacity="0.45"/>
<circle cx="209.82" cy="462.91" r="0.45" fill="#4a4ab4" fill-opacity="0.45"/>
<circle cx="207.67" cy="464.43" r="0.45" fill="#4a4ab4" fill-opacity="0.45"/>
<circle cx="213.36" cy="465.76" r="0.45" fill="#4a4ab4" fill-opacity="0.45"/>
<circle cx="209.05" cy="464.77" r="0.45" fill="#4a4ab4" fill-opacity="0.45"/>
<circle cx="218.30" cy="463.81" r="0.45" fill="#4a4ab4" fill-opacity="0.45"/>
<circle cx="215.15" cy="463.29" r="0.45" fill="#4a4ab4" fill-opacity="0.45"/>
<circle cx="210.75" cy="459.96" r="0.45" fill="#4a4ab4" fill-opacity="0.45"/>
<circle cx="206.28" cy="464.18" r="0.45" fill="#4a4ab4" fill-opacity="0.45"/>
<circle cx="208.66" cy="463.13" r="0.45" fill="#4a4ab4" fill-opacity="0.45"/>
<circle cx="207.48" cy="462.87" r="0.45" fill="#4a4ab4" fill-opacity="0.45"/>
<circle cx="222.24" cy="463.17" r="0.45" fill="#4a4ab4" fill-opacity="0.45"/>
<circle cx="209.10" cy="463.34" r="0.45" fill="#4a4ab4" fill-opacity="0.45"/>
<circle cx="213.16" cy="464.27" r="0.45" fill="#4a4ab4" fill-opacity="0.45"/>
<circle cx="210.98" cy="464.00" r="0.45" fill="#4a4ab4" fill-opacity="0.45"/>
<circle cx="208.64" cy="467.86" r="0.45" fill="#4a4ab4" fill-opacity="0.45"/>
<circle cx="212.52" cy="466.81" r="0.45" fill="#4a4ab4" fill-opacity="0.45"/>
<circle cx="213.94" cy="463.81" r="0.45" fill="#4a4ab4" fill-opacity="0.45"/>
<circle cx="205.73" cy="467.27" r="0.45" fill="#4a4ab4" fill-opacity="0.45"/>
<circle cx="209.13" cy="464.31" r="0.45" fill="#4a4ab4" fill-opacity="0.45"/>
<circle cx="207.72" cy="465.49" r="0.45" fill="#4a4ab4" fill-opacity="0.45"/>
<circle cx="206.91" cy="466.96" r="0.45" fill="#4a4ab4" fill-opacity="0.45"/>
<circle cx="206.12" cy="466.34" r="0.45" fill="#4a4ab4" fill-opacity="0.45"/>
<circle cx="213.26" cy="466.18" r="0.45" fill="#4a4ab4" fill-opacity="0.45"/>
<circle cx="210.57" cy="461.82" r="0.45" fill="#4a4ab4" fill-opacity="0.45"/>
<circle cx="215.19" cy="463.12" r="0.45" fill="#4a4ab4" fill-opacity="0.45"/>
<circle cx="208.50" cy="468.20" r="0.45" fill="#4a4ab4" fill-opacity="0.45"/>
<circle cx="214.48" cy="465.34" r="0.45" fill="#4a4ab4" fill-opacity="0.45"/>
<circle cx="211.53" cy="462.84" r="0.45" fill="#4a4ab4" fill-opacity="0.45"/>
<text x="286.10" y="446.10" font-size="3.7" text-anchor="middle" font-weight="normal" fill="#444"  textLength="47.00" lengthAdjust="spacingAndGlyphs">|CD4+) CD137 APC / CD4 PC7</text>
<rect x="264.00" y="449.50" width="43.00" height="42.60" fill="#fff" stroke="#b4b4b4" stroke-width="0.6" />
<line x1="264.00" y1="449.50" x2="264.00" y2="492.10" stroke="#8a8a8a" stroke-width="0.7" />
<line x1="264.00" y1="492.10" x2="307.00" y2="492.10" stroke="#8a8a8a" stroke-width="0.7" />
<line x1="262.70" y1="450.60" x2="264.00" y2="450.60" stroke="#999" stroke-width="0.5" />
<line x1="262.70" y1="458.90" x2="264.00" y2="458.90" stroke="#999" stroke-width="0.5" />
<line x1="262.70" y1="468.90" x2="264.00" y2="468.90" stroke="#999" stroke-width="0.5" />
<line x1="262.70" y1="478.00" x2="264.00" y2="478.00" stroke="#999" stroke-width="0.5" />
<line x1="262.70" y1="486.60" x2="264.00" y2="486.60" stroke="#999" stroke-width="0.5" />
<line x1="262.70" y1="491.10" x2="264.00" y2="491.10" stroke="#999" stroke-width="0.5" />
<line x1="267.00" y1="492.10" x2="267.00" y2="493.40" stroke="#999" stroke-width="0.5" />
<line x1="277.00" y1="492.10" x2="277.00" y2="493.40" stroke="#999" stroke-width="0.5" />
<line x1="287.00" y1="492.10" x2="287.00" y2="493.40" stroke="#999" stroke-width="0.5" />
<line x1="297.00" y1="492.10" x2="297.00" y2="493.40" stroke="#999" stroke-width="0.5" />
<line x1="307.00" y1="492.10" x2="307.00" y2="493.40" stroke="#999" stroke-width="0.5" />
<text x="260.80" y="451.90" font-size="3.8" text-anchor="end" font-weight="normal" fill="#666" >10<tspan dy="-1.3" font-size="2.4">4</tspan></text>
<text x="260.80" y="460.20" font-size="3.8" text-anchor="end" font-weight="normal" fill="#666" >10<tspan dy="-1.3" font-size="2.4">3</tspan></text>
<text x="260.80" y="470.20" font-size="3.8" text-anchor="end" font-weight="normal" fill="#666" >10<tspan dy="-1.3" font-size="2.4">2</tspan></text>
<text x="260.80" y="479.30" font-size="3.8" text-anchor="end" font-weight="normal" fill="#666" >10<tspan dy="-1.3" font-size="2.4">1</tspan></text>
<text x="260.80" y="487.90" font-size="3.8" text-anchor="end" font-weight="normal" fill="#666" >-10<tspan dy="-1.3" font-size="2.4">1</tspan></text>
<text x="260.80" y="492.40" font-size="3.8" text-anchor="end" font-weight="normal" fill="#666" >0</text>
<text x="266.00" y="500.90" font-size="3.8" text-anchor="middle" font-weight="normal" fill="#666" >0 10<tspan dy="-1.3" font-size="2.4">-1</tspan></text>
<text x="276.90" y="500.90" font-size="3.8" text-anchor="middle" font-weight="normal" fill="#666" >10<tspan dy="-1.3" font-size="2.4">1</tspan></text>
<text x="286.90" y="500.90" font-size="3.8" text-anchor="middle" font-weight="normal" fill="#666" >10<tspan dy="-1.3" font-size="2.4">2</tspan></text>
<text x="296.40" y="500.90" font-size="3.8" text-anchor="middle" font-weight="normal" fill="#666" >10<tspan dy="-1.3" font-size="2.4">3</tspan></text>
<text x="304.70" y="500.90" font-size="3.8" text-anchor="middle" font-weight="normal" fill="#666" >10<tspan dy="-1.3" font-size="2.4">4</tspan></text>
<text x="286.30" y="510.30" font-size="6.4" text-anchor="middle" font-weight="normal" fill="#2a2a2a"  textLength="22.30" lengthAdjust="spacingAndGlyphs">CD137 APC</text>
<text x="250.60" y="471.50" font-size="6.2" text-anchor="middle" font-weight="normal" fill="#2a2a2a" transform="rotate(-90 250.60 471.50)"  textLength="18.50" lengthAdjust="spacingAndGlyphs">CD4 PC7</text>
<rect x="274.00" y="452.00" width="31.60" height="24.40" fill="none" stroke="#8a8a8a" stroke-width="0.6" />
<rect x="293.00" y="471.10" width="12.10" height="4.60" fill="#fff" stroke="#aaa" stroke-width="0.35" />
<text x="299.10" y="474.80" font-size="4.2" text-anchor="middle" font-weight="normal" fill="#333"  textLength="10.20" lengthAdjust="spacingAndGlyphs">12,34%</text>
<ellipse cx="269.80" cy="465.40" rx="3.9" ry="4.1" fill="#3f88cc" fill-opacity="1.0" filter="url(#bl1)" transform="rotate(0 269.80 465.40)"/>
<ellipse cx="274.20" cy="464.00" rx="1.6" ry="2.0" fill="#1f2a8e" fill-opacity="0.85" filter="url(#bl1)" transform="rotate(0 274.20 464.00)"/>
<circle cx="275.81" cy="466.26" r="0.45" fill="#4a4ab4" fill-opacity="0.45"/>
<circle cx="275.30" cy="467.43" r="0.45" fill="#4a4ab4" fill-opacity="0.45"/>
<circle cx="281.48" cy="466.73" r="0.45" fill="#4a4ab4" fill-opacity="0.45"/>
<circle cx="281.04" cy="464.77" r="0.45" fill="#4a4ab4" fill-opacity="0.45"/>
<circle cx="277.42" cy="463.25" r="0.45" fill="#4a4ab4" fill-opacity="0.45"/>
<circle cx="282.32" cy="463.63" r="0.45" fill="#4a4ab4" fill-opacity="0.45"/>
<circle cx="278.74" cy="471.54" r="0.45" fill="#4a4ab4" fill-opacity="0.45"/>
<circle cx="277.48" cy="468.56" r="0.45" fill="#4a4ab4" fill-opacity="0.45"/>
<circle cx="275.22" cy="465.35" r="0.45" fill="#4a4ab4" fill-opacity="0.45"/>
<circle cx="279.55" cy="462.73" r="0.45" fill="#4a4ab4" fill-opacity="0.45"/>
<circle cx="280.93" cy="465.50" r="0.45" fill="#4a4ab4" fill-opacity="0.45"/>
<circle cx="285.73" cy="466.04" r="0.45" fill="#4a4ab4" fill-opacity="0.45"/>
<circle cx="278.02" cy="465.69" r="0.45" fill="#4a4ab4" fill-opacity="0.45"/>
<circle cx="286.28" cy="463.61" r="0.45" fill="#4a4ab4" fill-opacity="0.45"/>
<circle cx="277.69" cy="466.40" r="0.45" fill="#4a4ab4" fill-opacity="0.45"/>
<circle cx="280.80" cy="467.48" r="0.45" fill="#4a4ab4" fill-opacity="0.45"/>
<circle cx="285.20" cy="461.48" r="0.45" fill="#4a4ab4" fill-opacity="0.45"/>
<circle cx="277.78" cy="461.99" r="0.45" fill="#4a4ab4" fill-opacity="0.45"/>
<circle cx="274.53" cy="460.65" r="0.45" fill="#4a4ab4" fill-opacity="0.45"/>
<circle cx="274.15" cy="461.88" r="0.45" fill="#4a4ab4" fill-opacity="0.45"/>
<circle cx="276.34" cy="460.92" r="0.45" fill="#4a4ab4" fill-opacity="0.45"/>
<circle cx="277.19" cy="463.96" r="0.45" fill="#4a4ab4" fill-opacity="0.45"/>
<circle cx="274.11" cy="464.44" r="0.45" fill="#4a4ab4" fill-opacity="0.45"/>
<circle cx="274.64" cy="461.43" r="0.45" fill="#4a4ab4" fill-opacity="0.45"/>
<circle cx="294.12" cy="464.68" r="0.45" fill="#4a4ab4" fill-opacity="0.45"/>
<circle cx="281.09" cy="463.51" r="0.45" fill="#4a4ab4" fill-opacity="0.45"/>
<circle cx="277.01" cy="459.84" r="0.45" fill="#4a4ab4" fill-opacity="0.45"/>
<circle cx="279.71" cy="463.14" r="0.45" fill="#4a4ab4" fill-opacity="0.45"/>
<circle cx="282.06" cy="465.38" r="0.45" fill="#4a4ab4" fill-opacity="0.45"/>
<circle cx="274.72" cy="462.63" r="0.45" fill="#4a4ab4" fill-opacity="0.45"/>
<circle cx="281.48" cy="466.54" r="0.45" fill="#4a4ab4" fill-opacity="0.45"/>
<circle cx="278.88" cy="466.00" r="0.45" fill="#4a4ab4" fill-opacity="0.45"/>
<circle cx="277.19" cy="460.05" r="0.45" fill="#4a4ab4" fill-opacity="0.45"/>
<circle cx="282.27" cy="464.61" r="0.45" fill="#4a4ab4" fill-opacity="0.45"/>
<circle cx="276.34" cy="466.47" r="0.45" fill="#4a4ab4" fill-opacity="0.45"/>
<circle cx="280.02" cy="467.08" r="0.45" fill="#4a4ab4" fill-opacity="0.45"/>
<circle cx="276.59" cy="464.09" r="0.45" fill="#4a4ab4" fill-opacity="0.45"/>
<circle cx="279.81" cy="463.58" r="0.45" fill="#4a4ab4" fill-opacity="0.45"/>
<circle cx="282.05" cy="460.79" r="0.45" fill="#4a4ab4" fill-opacity="0.45"/>
<circle cx="278.83" cy="464.18" r="0.45" fill="#4a4ab4" fill-opacity="0.45"/>
<circle cx="289.34" cy="466.95" r="0.45" fill="#4a4ab4" fill-opacity="0.45"/>
<circle cx="276.09" cy="464.65" r="0.45" fill="#4a4ab4" fill-opacity="0.45"/>
<circle cx="282.21" cy="463.48" r="0.45" fill="#4a4ab4" fill-opacity="0.45"/>
<circle cx="285.69" cy="462.61" r="0.45" fill="#4a4ab4" fill-opacity="0.45"/>
<circle cx="301.37" cy="462.54" r="0.45" fill="#4a4ab4" fill-opacity="0.45"/>
<circle cx="283.20" cy="464.28" r="0.45" fill="#4a4ab4" fill-opacity="0.45"/>
<circle cx="276.75" cy="462.41" r="0.45" fill="#4a4ab4" fill-opacity="0.45"/>
<circle cx="280.33" cy="467.11" r="0.45" fill="#4a4ab4" fill-opacity="0.45"/>
<circle cx="285.14" cy="469.30" r="0.45" fill="#4a4ab4" fill-opacity="0.45"/>
<circle cx="277.95" cy="461.98" r="0.45" fill="#4a4ab4" fill-opacity="0.45"/>
<circle cx="279.90" cy="465.95" r="0.45" fill="#4a4ab4" fill-opacity="0.45"/>
<circle cx="281.94" cy="466.40" r="0.45" fill="#4a4ab4" fill-opacity="0.45"/>
<circle cx="288.32" cy="462.38" r="0.45" fill="#4a4ab4" fill-opacity="0.45"/>
<circle cx="282.61" cy="463.99" r="0.45" fill="#4a4ab4" fill-opacity="0.45"/>
<circle cx="284.02" cy="465.83" r="0.45" fill="#4a4ab4" fill-opacity="0.45"/>
<circle cx="280.93" cy="464.55" r="0.45" fill="#4a4ab4" fill-opacity="0.45"/>
<circle cx="288.05" cy="463.77" r="0.45" fill="#4a4ab4" fill-opacity="0.45"/>
<circle cx="276.94" cy="466.44" r="0.45" fill="#4a4ab4" fill-opacity="0.45"/>
<circle cx="288.42" cy="463.99" r="0.45" fill="#4a4ab4" fill-opacity="0.45"/>
<circle cx="277.46" cy="464.51" r="0.45" fill="#4a4ab4" fill-opacity="0.45"/>
<circle cx="283.25" cy="462.34" r="0.45" fill="#4a4ab4" fill-opacity="0.45"/>
<circle cx="284.04" cy="458.00" r="0.45" fill="#4a4ab4" fill-opacity="0.45"/>
<circle cx="279.98" cy="462.98" r="0.45" fill="#4a4ab4" fill-opacity="0.45"/>
<circle cx="277.27" cy="466.25" r="0.45" fill="#4a4ab4" fill-opacity="0.45"/>
<circle cx="283.06" cy="464.39" r="0.45" fill="#4a4ab4" fill-opacity="0.45"/>
<circle cx="275.53" cy="466.01" r="0.45" fill="#4a4ab4" fill-opacity="0.45"/>
<circle cx="281.04" cy="462.22" r="0.45" fill="#4a4ab4" fill-opacity="0.45"/>
<circle cx="288.99" cy="470.69" r="0.45" fill="#4a4ab4" fill-opacity="0.45"/>
<circle cx="275.14" cy="464.07" r="0.45" fill="#4a4ab4" fill-opacity="0.45"/>
<circle cx="285.56" cy="466.83" r="0.45" fill="#4a4ab4" fill-opacity="0.45"/>
<circle cx="277.88" cy="468.05" r="0.45" fill="#4a4ab4" fill-opacity="0.45"/>
<circle cx="280.41" cy="464.65" r="0.45" fill="#4a4ab4" fill-opacity="0.45"/>
<circle cx="279.42" cy="461.93" r="0.45" fill="#4a4ab4" fill-opacity="0.45"/>
<circle cx="276.21" cy="463.22" r="0.45" fill="#4a4ab4" fill-opacity="0.45"/>
<circle cx="283.75" cy="464.64" r="0.45" fill="#4a4ab4" fill-opacity="0.45"/>
<circle cx="274.76" cy="468.05" r="0.45" fill="#4a4ab4" fill-opacity="0.45"/>
<circle cx="300.42" cy="462.99" r="0.45" fill="#4a4ab4" fill-opacity="0.45"/>
<circle cx="280.95" cy="463.49" r="0.45" fill="#4a4ab4" fill-opacity="0.45"/>
<circle cx="276.98" cy="465.57" r="0.45" fill="#4a4ab4" fill-opacity="0.45"/>
<circle cx="273.83" cy="463.46" r="0.45" fill="#4a4ab4" fill-opacity="0.45"/>
<circle cx="277.56" cy="465.46" r="0.45" fill="#4a4ab4" fill-opacity="0.45"/>
<circle cx="288.34" cy="463.97" r="0.45" fill="#4a4ab4" fill-opacity="0.45"/>
<circle cx="284.60" cy="461.76" r="0.45" fill="#4a4ab4" fill-opacity="0.45"/>
<circle cx="274.77" cy="464.74" r="0.45" fill="#4a4ab4" fill-opacity="0.45"/>
<circle cx="274.51" cy="462.50" r="0.45" fill="#4a4ab4" fill-opacity="0.45"/>
<circle cx="275.21" cy="462.41" r="0.45" fill="#4a4ab4" fill-opacity="0.45"/>
<circle cx="276.66" cy="466.25" r="0.45" fill="#4a4ab4" fill-opacity="0.45"/>
<circle cx="287.64" cy="467.64" r="0.45" fill="#4a4ab4" fill-opacity="0.45"/>
<circle cx="280.04" cy="463.50" r="0.45" fill="#4a4ab4" fill-opacity="0.45"/>
<circle cx="281.11" cy="465.33" r="0.45" fill="#4a4ab4" fill-opacity="0.45"/>
<circle cx="289.44" cy="466.30" r="0.45" fill="#4a4ab4" fill-opacity="0.45"/>
<circle cx="291.19" cy="461.58" r="0.45" fill="#4a4ab4" fill-opacity="0.45"/>
<circle cx="283.94" cy="465.84" r="0.45" fill="#4a4ab4" fill-opacity="0.45"/>
<circle cx="273.61" cy="465.32" r="0.45" fill="#4a4ab4" fill-opacity="0.45"/>
<circle cx="287.85" cy="462.61" r="0.45" fill="#4a4ab4" fill-opacity="0.45"/>
<circle cx="280.38" cy="469.32" r="0.45" fill="#4a4ab4" fill-opacity="0.45"/>
<circle cx="276.34" cy="462.73" r="0.45" fill="#4a4ab4" fill-opacity="0.45"/>
<circle cx="289.83" cy="460.94" r="0.45" fill="#4a4ab4" fill-opacity="0.45"/>
<circle cx="293.16" cy="464.76" r="0.45" fill="#4a4ab4" fill-opacity="0.45"/>
<circle cx="273.95" cy="466.98" r="0.45" fill="#4a4ab4" fill-opacity="0.45"/>
<circle cx="274.71" cy="462.94" r="0.45" fill="#4a4ab4" fill-opacity="0.45"/>
<circle cx="279.53" cy="469.16" r="0.45" fill="#4a4ab4" fill-opacity="0.45"/>
<circle cx="287.73" cy="465.02" r="0.45" fill="#4a4ab4" fill-opacity="0.45"/>
<circle cx="273.81" cy="466.08" r="0.45" fill="#4a4ab4" fill-opacity="0.45"/>
<circle cx="276.84" cy="465.80" r="0.45" fill="#4a4ab4" fill-opacity="0.45"/>
<circle cx="280.12" cy="464.25" r="0.45" fill="#4a4ab4" fill-opacity="0.45"/>
<circle cx="277.26" cy="464.15" r="0.45" fill="#4a4ab4" fill-opacity="0.45"/>
<circle cx="281.32" cy="464.10" r="0.45" fill="#4a4ab4" fill-opacity="0.45"/>
<circle cx="276.02" cy="465.10" r="0.45" fill="#4a4ab4" fill-opacity="0.45"/>
<circle cx="284.29" cy="467.74" r="0.45" fill="#4a4ab4" fill-opacity="0.45"/>
<text x="7.60" y="532.80" font-size="12.5" text-anchor="start" font-weight="bold" fill="#000" >F</text>
<rect x="104.20" y="574.40" width="14.60" height="11.20" fill="#fbfbfd" stroke="none" stroke-width="0" />
<rect x="118.80" y="574.40" width="14.60" height="11.20" fill="#8ea3d6" stroke="none" stroke-width="0" />
<rect x="133.40" y="574.40" width="14.60" height="11.20" fill="#93a7d8" stroke="none" stroke-width="0" />
<rect x="148.00" y="574.40" width="14.60" height="11.20" fill="#6f8dcc" stroke="none" stroke-width="0" />
<rect x="162.60" y="574.40" width="14.60" height="11.20" fill="#6585c6" stroke="none" stroke-width="0" />
<rect x="177.20" y="574.40" width="14.60" height="11.20" fill="#6585c6" stroke="none" stroke-width="0" />
<rect x="191.80" y="574.40" width="14.60" height="11.20" fill="#6585c6" stroke="none" stroke-width="0" />
<rect x="206.40" y="574.40" width="14.60" height="11.20" fill="#6585c6" stroke="none" stroke-width="0" />
<rect x="221.00" y="574.40" width="14.60" height="11.20" fill="#6585c6" stroke="none" stroke-width="0" />
<rect x="235.60" y="574.40" width="14.60" height="11.20" fill="#6585c6" stroke="none" stroke-width="0" />
<rect x="250.20" y="574.40" width="14.60" height="11.20" fill="#6585c6" stroke="none" stroke-width="0" />
<rect x="264.80" y="574.40" width="14.60" height="11.20" fill="#6585c6" stroke="none" stroke-width="0" />
<rect x="104.20" y="585.60" width="14.60" height="11.50" fill="#fbf3f6" stroke="none" stroke-width="0" />
<rect x="118.80" y="585.60" width="14.60" height="11.50" fill="#8aa2d6" stroke="none" stroke-width="0" />
<rect x="133.40" y="585.60" width="14.60" height="11.50" fill="#fbfbfd" stroke="none" stroke-width="0" />
<rect x="148.00" y="585.60" width="14.60" height="11.50" fill="#f2d4d9" stroke="none" stroke-width="0" />
<rect x="162.60" y="585.60" width="14.60" height="11.50" fill="#fbfbfd" stroke="none" stroke-width="0" />
<rect x="177.20" y="585.60" width="14.60" height="11.50" fill="#d5ddf0" stroke="none" stroke-width="0" />
<rect x="191.80" y="585.60" width="14.60" height="11.50" fill="#95aad8" stroke="none" stroke-width="0" />
<rect x="206.40" y="585.60" width="14.60" height="11.50" fill="#a0b3dc" stroke="none" stroke-width="0" />
<rect x="221.00" y="585.60" width="14.60" height="11.50" fill="#a0b3dc" stroke="none" stroke-width="0" />
<rect x="235.60" y="585.60" width="14.60" height="11.50" fill="#7895cf" stroke="none" stroke-width="0" />
<rect x="250.20" y="585.60" width="14.60" height="11.50" fill="#fdfdfe" stroke="none" stroke-width="0" />
<rect x="264.80" y="585.60" width="14.60" height="11.50" fill="#fdfdfe" stroke="none" stroke-width="0" />
<rect x="104.20" y="597.10" width="14.60" height="11.40" fill="#e0898f" stroke="none" stroke-width="0" />
<rect x="118.80" y="597.10" width="14.60" height="11.40" fill="#fbfbfd" stroke="none" stroke-width="0" />
<rect x="133.40" y="597.10" width="14.60" height="11.40" fill="#f0c9ce" stroke="none" stroke-width="0" />
<rect x="148.00" y="597.10" width="14.60" height="11.40" fill="#e8aeb3" stroke="none" stroke-width="0" />
<rect x="162.60" y="597.10" width="14.60" height="11.40" fill="#f8e6e9" stroke="none" stroke-width="0" />
<rect x="177.20" y="597.10" width="14.60" height="11.40" fill="#fbfbfd" stroke="none" stroke-width="0" />
<rect x="191.80" y="597.10" width="14.60" height="11.40" fill="#fbfbfd" stroke="none" stroke-width="0" />
<rect x="206.40" y="597.10" width="14.60" height="11.40" fill="#d9666b" stroke="none" stroke-width="0" />
<rect x="221.00" y="597.10" width="14.60" height="11.40" fill="#f9ebee" stroke="none" stroke-width="0" />
<rect x="235.60" y="597.10" width="14.60" height="11.40" fill="#f9e9ec" stroke="none" stroke-width="0" />
<rect x="250.20" y="597.10" width="14.60" height="11.40" fill="#fdfdfe" stroke="none" stroke-width="0" />
<rect x="264.80" y="597.10" width="14.60" height="11.40" fill="#a9bce2" stroke="none" stroke-width="0" />
<rect x="104.20" y="608.50" width="14.60" height="11.70" fill="#f8e4e8" stroke="none" stroke-width="0" />
<rect x="118.80" y="608.50" width="14.60" height="11.70" fill="#f9f2f5" stroke="none" stroke-width="0" />
<rect x="133.40" y="608.50" width="14.60" height="11.70" fill="#f0cdd2" stroke="none" stroke-width="0" />
<rect x="148.00" y="608.50" width="14.60" height="11.70" fill="#f9ecef" stroke="none" stroke-width="0" />
<rect x="162.60" y="608.50" width="14.60" height="11.70" fill="#f8e4e8" stroke="none" stroke-width="0" />
<rect x="177.20" y="608.50" width="14.60" height="11.70" fill="#f4f5fb" stroke="none" stroke-width="0" />
<rect x="191.80" y="608.50" width="14.60" height="11.70" fill="#d0daf0" stroke="none" stroke-width="0" />
<rect x="206.40" y="608.50" width="14.60" height="11.70" fill="#f9ebee" stroke="none" stroke-width="0" />
<rect x="221.00" y="608.50" width="14.60" height="11.70" fill="#fbfbfd" stroke="none" stroke-width="0" />
<rect x="235.60" y="608.50" width="14.60" height="11.70" fill="#fdfdfe" stroke="none" stroke-width="0" />
<rect x="250.20" y="608.50" width="14.60" height="11.70" fill="#c3d0ec" stroke="none" stroke-width="0" />
<rect x="264.80" y="608.50" width="14.60" height="11.70" fill="#7190cd" stroke="none" stroke-width="0" />
<line x1="104.20" y1="574.40" x2="279.40" y2="574.40" stroke="#111" stroke-width="1.4" />
<line x1="104.20" y1="585.60" x2="279.40" y2="585.60" stroke="#111" stroke-width="1.4" />
<line x1="104.20" y1="597.10" x2="279.40" y2="597.10" stroke="#111" stroke-width="1.4" />
<line x1="104.20" y1="608.50" x2="279.40" y2="608.50" stroke="#111" stroke-width="1.4" />
<line x1="104.20" y1="620.20" x2="279.40" y2="620.20" stroke="#111" stroke-width="1.4" />
<line x1="104.20" y1="574.40" x2="104.20" y2="620.20" stroke="#111" stroke-width="1.4" />
<line x1="118.80" y1="574.40" x2="118.80" y2="620.20" stroke="#111" stroke-width="1.4" />
<line x1="133.40" y1="574.40" x2="133.40" y2="620.20" stroke="#111" stroke-width="1.4" />
<line x1="148.00" y1="574.40" x2="148.00" y2="620.20" stroke="#111" stroke-width="1.4" />
<line x1="162.60" y1="574.40" x2="162.60" y2="620.20" stroke="#111" stroke-width="1.4" />
<line x1="177.20" y1="574.40" x2="177.20" y2="620.20" stroke="#111" stroke-width="1.4" />
<line x1="191.80" y1="574.40" x2="191.80" y2="620.20" stroke="#111" stroke-width="1.4" />
<line x1="206.40" y1="574.40" x2="206.40" y2="620.20" stroke="#111" stroke-width="1.4" />
<line x1="221.00" y1="574.40" x2="221.00" y2="620.20" stroke="#111" stroke-width="1.4" />
<line x1="235.60" y1="574.40" x2="235.60" y2="620.20" stroke="#111" stroke-width="1.4" />
<line x1="250.20" y1="574.40" x2="250.20" y2="620.20" stroke="#111" stroke-width="1.4" />
<line x1="264.80" y1="574.40" x2="264.80" y2="620.20" stroke="#111" stroke-width="1.4" />
<line x1="279.40" y1="574.40" x2="279.40" y2="620.20" stroke="#111" stroke-width="1.4" />
<rect x="14.80" y="574.40" width="89.40" height="45.80" fill="#fff" stroke="#111" stroke-width="1" />
<line x1="71.00" y1="574.40" x2="71.00" y2="620.20" stroke="#111" stroke-width="1" />
<line x1="14.80" y1="587.90" x2="71.00" y2="587.90" stroke="#111" stroke-width="1" />
<line x1="14.80" y1="599.30" x2="104.20" y2="599.30" stroke="#111" stroke-width="1" />
<line x1="14.80" y1="609.70" x2="71.00" y2="609.70" stroke="#111" stroke-width="1" />
<text x="17.80" y="584.60" font-size="6.9" text-anchor="start" font-weight="bold" fill="#111"  textLength="33.74" lengthAdjust="spacingAndGlyphs">DP402 DM</text>
<text x="17.80" y="596.80" font-size="6.9" text-anchor="start" font-weight="bold" fill="#111"  textLength="21.10" lengthAdjust="spacingAndGlyphs">DP402</text>
<text x="17.80" y="607.40" font-size="6.9" text-anchor="start" font-weight="bold" fill="#111"  textLength="29.91" lengthAdjust="spacingAndGlyphs">DP10 DM</text>
<text x="17.80" y="618.40" font-size="6.9" text-anchor="start" font-weight="bold" fill="#111"  textLength="17.26" lengthAdjust="spacingAndGlyphs">DP10</text>
<text x="87.10" y="590.40" font-size="6.9" text-anchor="middle" font-weight="bold" fill="#111"  textLength="19.70" lengthAdjust="spacingAndGlyphs">IZTF-3</text>
<text x="87.10" y="611.90" font-size="6.9" text-anchor="middle" font-weight="bold" fill="#111"  textLength="23.90" lengthAdjust="spacingAndGlyphs">IZTF-28</text>
<line x1="14.80" y1="574.40" x2="45.20" y2="550.20" stroke="#111" stroke-width="1.2" />
<line x1="38.80" y1="574.40" x2="69.20" y2="550.20" stroke="#111" stroke-width="1.2" />
<line x1="71.00" y1="574.40" x2="101.40" y2="550.20" stroke="#111" stroke-width="1.2" />
<line x1="104.20" y1="574.40" x2="134.60" y2="550.20" stroke="#111" stroke-width="1.2" />
<line x1="118.80" y1="574.40" x2="149.20" y2="550.20" stroke="#111" stroke-width="1.2" />
<line x1="133.40" y1="574.40" x2="163.80" y2="550.20" stroke="#111" stroke-width="1.2" />
<line x1="148.00" y1="574.40" x2="178.40" y2="550.20" stroke="#111" stroke-width="1.2" />
<line x1="162.60" y1="574.40" x2="193.00" y2="550.20" stroke="#111" stroke-width="1.2" />
<line x1="177.20" y1="574.40" x2="207.60" y2="550.20" stroke="#111" stroke-width="1.2" />
<line x1="191.80" y1="574.40" x2="222.20" y2="550.20" stroke="#111" stroke-width="1.2" />
<line x1="206.40" y1="574.40" x2="236.80" y2="550.20" stroke="#111" stroke-width="1.2" />
<line x1="221.00" y1="574.40" x2="251.40" y2="550.20" stroke="#111" stroke-width="1.2" />
<line x1="235.60" y1="574.40" x2="266.00" y2="550.20" stroke="#111" stroke-width="1.2" />
<line x1="250.20" y1="574.40" x2="280.60" y2="550.20" stroke="#111" stroke-width="1.2" />
<line x1="264.80" y1="574.40" x2="295.20" y2="550.20" stroke="#111" stroke-width="1.2" />
<line x1="279.40" y1="574.40" x2="309.80" y2="550.20" stroke="#111" stroke-width="1.2" />
<text x="43.60" y="562.20" font-size="6.8" text-anchor="middle" font-weight="bold" fill="#111" transform="rotate(-42 43.60 562.20)" >Priming</text>
<text x="65.20" y="559.80" font-size="6.8" text-anchor="middle" font-weight="bold" fill="#111" transform="rotate(-42 65.20 559.80)" >Re-</text>
<text x="80.60" y="558.20" font-size="6.8" text-anchor="middle" font-weight="bold" fill="#111" transform="rotate(-42 80.60 558.20)" >stimulation</text>
<text x="94.00" y="567.60" font-size="6.8" text-anchor="middle" font-weight="bold" fill="#111" transform="rotate(-42 94.00 567.60)" >R</text>
<text x="121.60" y="570.40" font-size="6.9" text-anchor="start" font-weight="bold" fill="#111" transform="rotate(-42 121.60 570.40)" >IL-2</text>
<text x="136.20" y="570.40" font-size="6.9" text-anchor="start" font-weight="bold" fill="#111" transform="rotate(-42 136.20 570.40)" >IL-17/A</text>
<text x="150.80" y="570.40" font-size="6.9" text-anchor="start" font-weight="bold" fill="#111" transform="rotate(-42 150.80 570.40)" >TNF-α</text>
<text x="165.40" y="570.40" font-size="6.9" text-anchor="start" font-weight="bold" fill="#111" transform="rotate(-42 165.40 570.40)" >IFN-γ</text>
<text x="180.00" y="570.40" font-size="6.9" text-anchor="start" font-weight="bold" fill="#111" transform="rotate(-42 180.00 570.40)" >IL-23</text>
<text x="194.60" y="570.40" font-size="6.9" text-anchor="start" font-weight="bold" fill="#111" transform="rotate(-42 194.60 570.40)" >IL-21</text>
<text x="209.20" y="570.40" font-size="6.9" text-anchor="start" font-weight="bold" fill="#111" transform="rotate(-42 209.20 570.40)" >IL-12p70</text>
<text x="223.80" y="570.40" font-size="6.9" text-anchor="start" font-weight="bold" fill="#111" transform="rotate(-42 223.80 570.40)" >IL-5</text>
<text x="238.40" y="570.40" font-size="6.9" text-anchor="start" font-weight="bold" fill="#111" transform="rotate(-42 238.40 570.40)" >IL-10</text>
<text x="253.00" y="570.40" font-size="6.9" text-anchor="start" font-weight="bold" fill="#111" transform="rotate(-42 253.00 570.40)" >IL-3</text>
<text x="267.60" y="570.40" font-size="6.9" text-anchor="start" font-weight="bold" fill="#111" transform="rotate(-42 267.60 570.40)" >IL-4</text>
<text x="282.20" y="570.40" font-size="6.9" text-anchor="start" font-weight="bold" fill="#111" transform="rotate(-42 282.20 570.40)" >IL-1b</text>
<rect x="14.40" y="627.20" width="41.80" height="11.20" fill="#ffffff" stroke="#111" stroke-width="1" />
<text x="33.80" y="635.40" font-size="6.8" text-anchor="middle" font-weight="bold" fill="#111" >pg/mL</text>
<rect x="56.20" y="627.20" width="28.00" height="11.20" fill="#5f80c4" stroke="#111" stroke-width="1" />
<text x="70.20" y="635.20" font-size="6.3" text-anchor="middle" font-weight="normal" fill="#222" >0</text>
<rect x="84.20" y="627.20" width="27.50" height="11.20" fill="#6585c6" stroke="#111" stroke-width="1" />
<text x="97.95" y="635.20" font-size="6.3" text-anchor="middle" font-weight="normal" fill="#222" >10</text>
<rect x="111.70" y="627.20" width="27.90" height="11.20" fill="#8ba2d5" stroke="#111" stroke-width="1" />
<text x="125.65" y="635.20" font-size="6.3" text-anchor="middle" font-weight="normal" fill="#222" >50</text>
<rect x="139.60" y="627.20" width="28.20" height="11.20" fill="#a9bbe2" stroke="#111" stroke-width="1" />
<text x="153.70" y="635.20" font-size="6.3" text-anchor="middle" font-weight="normal" fill="#222" >100</text>
<rect x="167.80" y="627.20" width="27.20" height="11.20" fill="#ffffff" stroke="#111" stroke-width="1" />
<text x="181.40" y="635.20" font-size="6.3" text-anchor="middle" font-weight="normal" fill="#222" >250</text>
<rect x="195.00" y="627.20" width="27.30" height="11.20" fill="#f5d8dc" stroke="#111" stroke-width="1" />
<text x="208.65" y="635.20" font-size="6.3" text-anchor="middle" font-weight="normal" fill="#222" >500</text>
<rect x="222.30" y="627.20" width="28.10" height="11.20" fill="#e29a9f" stroke="#111" stroke-width="1" />
<text x="236.35" y="635.20" font-size="6.3" text-anchor="middle" font-weight="normal" fill="#222" >1000</text>
<rect x="250.40" y="627.20" width="28.50" height="11.20" fill="#d25c62" stroke="#111" stroke-width="1" />
<text x="264.65" y="635.20" font-size="6.3" text-anchor="middle" font-weight="normal" fill="#222" >1500</text>
<text x="324.30" y="345.90" font-size="12.5" text-anchor="start" font-weight="bold" fill="#000" >G</text>
<text x="438.60" y="356.10" font-size="9.8" text-anchor="middle" font-weight="normal" fill="#1a1a1a"  textLength="26.45" lengthAdjust="spacingAndGlyphs">IZTF-3</text>
<rect x="370.65" y="364.60" width="8.70" height="73.70" fill="#c4c3c9" stroke="none" stroke-width="0" />
<rect x="391.85" y="364.60" width="8.70" height="73.70" fill="#c4c3c9" stroke="none" stroke-width="0" />
<rect x="413.15" y="364.60" width="8.70" height="73.70" fill="#c4c3c9" stroke="none" stroke-width="0" />
<rect x="434.15" y="428.13" width="8.70" height="10.17" fill="#5aaae0" stroke="none" stroke-width="0" />
<rect x="434.15" y="422.97" width="8.70" height="5.16" fill="#4a1a5e" stroke="none" stroke-width="0" />
<rect x="434.15" y="394.89" width="8.70" height="28.08" fill="#66a744" stroke="none" stroke-width="0" />
<rect x="434.15" y="376.98" width="8.70" height="17.91" fill="#adbb86" stroke="none" stroke-width="0" />
<rect x="434.15" y="364.60" width="8.70" height="12.38" fill="#c4c3c9" stroke="none" stroke-width="0" />
<rect x="455.45" y="431.67" width="8.70" height="6.63" fill="#5aaae0" stroke="none" stroke-width="0" />
<rect x="455.45" y="428.13" width="8.70" height="3.54" fill="#4a1a5e" stroke="none" stroke-width="0" />
<rect x="455.45" y="399.02" width="8.70" height="29.11" fill="#66a744" stroke="none" stroke-width="0" />
<rect x="455.45" y="371.23" width="8.70" height="27.78" fill="#adbb86" stroke="none" stroke-width="0" />
<rect x="455.45" y="364.60" width="8.70" height="6.63" fill="#c4c3c9" stroke="none" stroke-width="0" />
<rect x="476.65" y="436.24" width="8.70" height="2.06" fill="#5aaae0" stroke="none" stroke-width="0" />
<rect x="476.65" y="433.29" width="8.70" height="2.95" fill="#66a744" stroke="none" stroke-width="0" />
<rect x="476.65" y="364.60" width="8.70" height="68.69" fill="#adbb86" stroke="none" stroke-width="0" />
<rect x="497.65" y="430.41" width="8.70" height="7.89" fill="#4a1a5e" stroke="none" stroke-width="0" />
<rect x="497.65" y="429.46" width="8.70" height="0.96" fill="#66a744" stroke="none" stroke-width="0" />
<rect x="497.65" y="364.60" width="8.70" height="64.86" fill="#adbb86" stroke="none" stroke-width="0" />
<line x1="364.50" y1="361.70" x2="364.50" y2="438.90" stroke="#111" stroke-width="1.2" />
<line x1="364.00" y1="438.30" x2="513.00" y2="438.30" stroke="#111" stroke-width="1.2" />
<line x1="361.50" y1="438.30" x2="364.50" y2="438.30" stroke="#111" stroke-width="1" />
<text x="358.00" y="440.80" font-size="7.2" text-anchor="end" font-weight="normal" fill="#1a1a1a"  textLength="3.52" lengthAdjust="spacingAndGlyphs">0</text>
<line x1="361.50" y1="430.93" x2="364.50" y2="430.93" stroke="#111" stroke-width="1" />
<text x="358.00" y="433.43" font-size="7.2" text-anchor="end" font-weight="normal" fill="#1a1a1a"  textLength="7.05" lengthAdjust="spacingAndGlyphs">10</text>
<line x1="361.50" y1="423.56" x2="364.50" y2="423.56" stroke="#111" stroke-width="1" />
<text x="358.00" y="426.06" font-size="7.2" text-anchor="end" font-weight="normal" fill="#1a1a1a"  textLength="7.05" lengthAdjust="spacingAndGlyphs">20</text>
<line x1="361.50" y1="416.19" x2="364.50" y2="416.19" stroke="#111" stroke-width="1" />
<text x="358.00" y="418.69" font-size="7.2" text-anchor="end" font-weight="normal" fill="#1a1a1a"  textLength="7.05" lengthAdjust="spacingAndGlyphs">30</text>
<line x1="361.50" y1="408.82" x2="364.50" y2="408.82" stroke="#111" stroke-width="1" />
<text x="358.00" y="411.32" font-size="7.2" text-anchor="end" font-weight="normal" fill="#1a1a1a"  textLength="7.05" lengthAdjust="spacingAndGlyphs">40</text>
<line x1="361.50" y1="401.45" x2="364.50" y2="401.45" stroke="#111" stroke-width="1" />
<text x="358.00" y="403.95" font-size="7.2" text-anchor="end" font-weight="normal" fill="#1a1a1a"  textLength="7.05" lengthAdjust="spacingAndGlyphs">50</text>
<line x1="361.50" y1="394.08" x2="364.50" y2="394.08" stroke="#111" stroke-width="1" />
<text x="358.00" y="396.58" font-size="7.2" text-anchor="end" font-weight="normal" fill="#1a1a1a"  textLength="7.05" lengthAdjust="spacingAndGlyphs">60</text>
<line x1="361.50" y1="386.71" x2="364.50" y2="386.71" stroke="#111" stroke-width="1" />
<text x="358.00" y="389.21" font-size="7.2" text-anchor="end" font-weight="normal" fill="#1a1a1a"  textLength="7.05" lengthAdjust="spacingAndGlyphs">70</text>
<line x1="361.50" y1="379.34" x2="364.50" y2="379.34" stroke="#111" stroke-width="1" />
<text x="358.00" y="381.84" font-size="7.2" text-anchor="end" font-weight="normal" fill="#1a1a1a"  textLength="7.05" lengthAdjust="spacingAndGlyphs">80</text>
<line x1="361.50" y1="371.97" x2="364.50" y2="371.97" stroke="#111" stroke-width="1" />
<text x="358.00" y="374.47" font-size="7.2" text-anchor="end" font-weight="normal" fill="#1a1a1a"  textLength="7.05" lengthAdjust="spacingAndGlyphs">90</text>
<line x1="361.50" y1="364.60" x2="364.50" y2="364.60" stroke="#111" stroke-width="1" />
<text x="358.00" y="367.10" font-size="7.2" text-anchor="end" font-weight="normal" fill="#1a1a1a"  textLength="10.57" lengthAdjust="spacingAndGlyphs">100</text>
<text x="341.80" y="400.25" font-size="8.8" text-anchor="middle" font-weight="normal" fill="#222" transform="rotate(-90 341.80 400.25)"  textLength="76.50" lengthAdjust="spacingAndGlyphs">Clonotype frequency (%)</text>
<text x="380.20" y="446.20" font-size="7.5" text-anchor="end" font-weight="normal" fill="#1a1a1a" transform="rotate(-45 380.20 446.20)"  textLength="19.40" lengthAdjust="spacingAndGlyphs">Donor</text>
<text x="401.40" y="446.20" font-size="7.5" text-anchor="end" font-weight="normal" fill="#1a1a1a" transform="rotate(-45 401.40 446.20)"  textLength="24.75" lengthAdjust="spacingAndGlyphs">+30 BM</text>
<text x="422.70" y="446.20" font-size="7.5" text-anchor="end" font-weight="normal" fill="#1a1a1a" transform="rotate(-45 422.70 446.20)"  textLength="23.57" lengthAdjust="spacingAndGlyphs">+30 PB</text>
<text x="443.70" y="446.20" font-size="7.5" text-anchor="end" font-weight="normal" fill="#1a1a1a" transform="rotate(-45 443.70 446.20)"  textLength="27.53" lengthAdjust="spacingAndGlyphs">+195 PB</text>
<text x="465.00" y="446.20" font-size="7.5" text-anchor="end" font-weight="normal" fill="#1a1a1a" transform="rotate(-45 465.00 446.20)"  textLength="27.53" lengthAdjust="spacingAndGlyphs">+363 PB</text>
<text x="486.20" y="446.20" font-size="7.5" text-anchor="end" font-weight="normal" fill="#1a1a1a" transform="rotate(-45 486.20 446.20)"  textLength="34.84" lengthAdjust="spacingAndGlyphs">DP402 DM</text>
<text x="507.20" y="446.20" font-size="7.5" text-anchor="end" font-weight="normal" fill="#1a1a1a" transform="rotate(-45 507.20 446.20)"  textLength="21.78" lengthAdjust="spacingAndGlyphs">DP402</text>
<text x="428.30" y="407.50" font-size="5.8" text-anchor="middle" font-weight="normal" fill="#1a1a1a" transform="rotate(-90 428.30 407.50)"  textLength="12.80" lengthAdjust="spacingAndGlyphs">CMV</text>
<line x1="426.60" y1="417.30" x2="426.60" y2="431.10" stroke="#111" stroke-width="1.1" />
<path d="M424.1,429.40 Q426.6,430.60 429.1,429.40 L426.6,434.60 Z" fill="#111"/>
<rect x="383.80" y="473.80" width="3.00" height="3.00" fill="#5aaae0" stroke="none" stroke-width="0" />
<text x="389.50" y="477.60" font-size="6.5" text-anchor="start" font-weight="normal" fill="#1a1a1a"  textLength="25.00" lengthAdjust="spacingAndGlyphs">DM+ only</text>
<rect x="419.60" y="473.80" width="3.00" height="3.00" fill="#4a1a5e" stroke="none" stroke-width="0" />
<text x="425.30" y="477.60" font-size="6.5" text-anchor="start" font-weight="normal" fill="#1a1a1a"  textLength="23.10" lengthAdjust="spacingAndGlyphs">DM- only</text>
<rect x="450.80" y="473.80" width="3.00" height="3.00" fill="#66a744" stroke="none" stroke-width="0" />
<text x="456.50" y="477.60" font-size="6.5" text-anchor="start" font-weight="normal" fill="#1a1a1a"  textLength="36.00" lengthAdjust="spacingAndGlyphs">DM+ and DM-</text>
<rect x="399.20" y="483.00" width="3.00" height="3.00" fill="#adbb86" stroke="none" stroke-width="0" />
<text x="404.90" y="486.80" font-size="6.5" text-anchor="start" font-weight="normal" fill="#1a1a1a"  textLength="45.90" lengthAdjust="spacingAndGlyphs">CASTHSGPSFEAFF</text>
<rect x="456.90" y="483.00" width="3.00" height="3.00" fill="#c4c3c9" stroke="none" stroke-width="0" />
<text x="462.60" y="486.80" font-size="6.5" text-anchor="start" font-weight="normal" fill="#1a1a1a"  textLength="14.60" lengthAdjust="spacingAndGlyphs">Other</text>
<text x="438.60" y="504.50" font-size="9.8" text-anchor="middle" font-weight="normal" fill="#1a1a1a"  textLength="31.36" lengthAdjust="spacingAndGlyphs">IZTF-28</text>
<rect x="370.65" y="590.03" width="8.70" height="0.47" fill="#5aaae0" stroke="none" stroke-width="0" />
<rect x="370.65" y="588.79" width="8.70" height="1.24" fill="#4a1a5e" stroke="none" stroke-width="0" />
<rect x="370.65" y="587.63" width="8.70" height="1.16" fill="#66a744" stroke="none" stroke-width="0" />
<rect x="370.65" y="512.90" width="8.70" height="74.73" fill="#c4c3c9" stroke="none" stroke-width="0" />
<rect x="391.85" y="588.56" width="8.70" height="1.94" fill="#5aaae0" stroke="none" stroke-width="0" />
<rect x="391.85" y="586.78" width="8.70" height="1.78" fill="#4a1a5e" stroke="none" stroke-width="0" />
<rect x="391.85" y="583.28" width="8.70" height="3.49" fill="#66a744" stroke="none" stroke-width="0" />
<rect x="391.85" y="512.90" width="8.70" height="70.38" fill="#c4c3c9" stroke="none" stroke-width="0" />
<rect x="413.15" y="586.15" width="8.70" height="4.35" fill="#5aaae0" stroke="none" stroke-width="0" />
<rect x="413.15" y="584.29" width="8.70" height="1.86" fill="#4a1a5e" stroke="none" stroke-width="0" />
<rect x="413.15" y="578.86" width="8.70" height="5.43" fill="#66a744" stroke="none" stroke-width="0" />
<rect x="413.15" y="512.90" width="8.70" height="65.96" fill="#c4c3c9" stroke="none" stroke-width="0" />
<rect x="434.15" y="580.33" width="8.70" height="10.17" fill="#5aaae0" stroke="none" stroke-width="0" />
<rect x="434.15" y="574.28" width="8.70" height="6.05" fill="#4a1a5e" stroke="none" stroke-width="0" />
<rect x="434.15" y="560.47" width="8.70" height="13.81" fill="#66a744" stroke="none" stroke-width="0" />
<rect x="434.15" y="512.90" width="8.70" height="47.57" fill="#c4c3c9" stroke="none" stroke-width="0" />
<rect x="455.45" y="584.29" width="8.70" height="6.21" fill="#5aaae0" stroke="none" stroke-width="0" />
<rect x="455.45" y="577.00" width="8.70" height="7.29" fill="#4a1a5e" stroke="none" stroke-width="0" />
<rect x="455.45" y="565.90" width="8.70" height="11.10" fill="#66a744" stroke="none" stroke-width="0" />
<rect x="455.45" y="512.90" width="8.70" height="53.00" fill="#c4c3c9" stroke="none" stroke-width="0" />
<rect x="476.65" y="534.94" width="8.70" height="55.56" fill="#5aaae0" stroke="none" stroke-width="0" />
<rect x="476.65" y="512.90" width="8.70" height="22.04" fill="#66a744" stroke="none" stroke-width="0" />
<rect x="497.65" y="539.36" width="8.70" height="51.14" fill="#4a1a5e" stroke="none" stroke-width="0" />
<rect x="497.65" y="512.90" width="8.70" height="26.46" fill="#66a744" stroke="none" stroke-width="0" />
<line x1="364.50" y1="510.00" x2="364.50" y2="591.10" stroke="#111" stroke-width="1.2" />
<line x1="364.00" y1="590.50" x2="513.00" y2="590.50" stroke="#111" stroke-width="1.2" />
<line x1="361.50" y1="590.50" x2="364.50" y2="590.50" stroke="#111" stroke-width="1" />
<text x="358.00" y="593.00" font-size="7.2" text-anchor="end" font-weight="normal" fill="#1a1a1a"  textLength="3.52" lengthAdjust="spacingAndGlyphs">0</text>
<line x1="361.50" y1="582.74" x2="364.50" y2="582.74" stroke="#111" stroke-width="1" />
<text x="358.00" y="585.24" font-size="7.2" text-anchor="end" font-weight="normal" fill="#1a1a1a"  textLength="7.05" lengthAdjust="spacingAndGlyphs">10</text>
<line x1="361.50" y1="574.98" x2="364.50" y2="574.98" stroke="#111" stroke-width="1" />
<text x="358.00" y="577.48" font-size="7.2" text-anchor="end" font-weight="normal" fill="#1a1a1a"  textLength="7.05" lengthAdjust="spacingAndGlyphs">20</text>
<line x1="361.50" y1="567.22" x2="364.50" y2="567.22" stroke="#111" stroke-width="1" />
<text x="358.00" y="569.72" font-size="7.2" text-anchor="end" font-weight="normal" fill="#1a1a1a"  textLength="7.05" lengthAdjust="spacingAndGlyphs">30</text>
<line x1="361.50" y1="559.46" x2="364.50" y2="559.46" stroke="#111" stroke-width="1" />
<text x="358.00" y="561.96" font-size="7.2" text-anchor="end" font-weight="normal" fill="#1a1a1a"  textLength="7.05" lengthAdjust="spacingAndGlyphs">40</text>
<line x1="361.50" y1="551.70" x2="364.50" y2="551.70" stroke="#111" stroke-width="1" />
<text x="358.00" y="554.20" font-size="7.2" text-anchor="end" font-weight="normal" fill="#1a1a1a"  textLength="7.05" lengthAdjust="spacingAndGlyphs">50</text>
<line x1="361.50" y1="543.94" x2="364.50" y2="543.94" stroke="#111" stroke-width="1" />
<text x="358.00" y="546.44" font-size="7.2" text-anchor="end" font-weight="normal" fill="#1a1a1a"  textLength="7.05" lengthAdjust="spacingAndGlyphs">60</text>
<line x1="361.50" y1="536.18" x2="364.50" y2="536.18" stroke="#111" stroke-width="1" />
<text x="358.00" y="538.68" font-size="7.2" text-anchor="end" font-weight="normal" fill="#1a1a1a"  textLength="7.05" lengthAdjust="spacingAndGlyphs">70</text>
<line x1="361.50" y1="528.42" x2="364.50" y2="528.42" stroke="#111" stroke-width="1" />
<text x="358.00" y="530.92" font-size="7.2" text-anchor="end" font-weight="normal" fill="#1a1a1a"  textLength="7.05" lengthAdjust="spacingAndGlyphs">80</text>
<line x1="361.50" y1="520.66" x2="364.50" y2="520.66" stroke="#111" stroke-width="1" />
<text x="358.00" y="523.16" font-size="7.2" text-anchor="end" font-weight="normal" fill="#1a1a1a"  textLength="7.05" lengthAdjust="spacingAndGlyphs">90</text>
<line x1="361.50" y1="512.90" x2="364.50" y2="512.90" stroke="#111" stroke-width="1" />
<text x="358.00" y="515.40" font-size="7.2" text-anchor="end" font-weight="normal" fill="#1a1a1a"  textLength="10.57" lengthAdjust="spacingAndGlyphs">100</text>
<text x="341.80" y="550.50" font-size="8.8" text-anchor="middle" font-weight="normal" fill="#222" transform="rotate(-90 341.80 550.50)"  textLength="76.50" lengthAdjust="spacingAndGlyphs">Clonotype frequency (%)</text>
<text x="380.20" y="598.40" font-size="7.5" text-anchor="end" font-weight="normal" fill="#1a1a1a" transform="rotate(-45 380.20 598.40)"  textLength="19.40" lengthAdjust="spacingAndGlyphs">Donor</text>
<text x="401.40" y="598.40" font-size="7.5" text-anchor="end" font-weight="normal" fill="#1a1a1a" transform="rotate(-45 401.40 598.40)"  textLength="24.75" lengthAdjust="spacingAndGlyphs">+30 BM</text>
<text x="422.70" y="598.40" font-size="7.5" text-anchor="end" font-weight="normal" fill="#1a1a1a" transform="rotate(-45 422.70 598.40)"  textLength="23.57" lengthAdjust="spacingAndGlyphs">+30 PB</text>
<text x="443.70" y="598.40" font-size="7.5" text-anchor="end" font-weight="normal" fill="#1a1a1a" transform="rotate(-45 443.70 598.40)"  textLength="27.53" lengthAdjust="spacingAndGlyphs">+181 PB</text>
<text x="465.00" y="598.40" font-size="7.5" text-anchor="end" font-weight="normal" fill="#1a1a1a" transform="rotate(-45 465.00 598.40)"  textLength="27.53" lengthAdjust="spacingAndGlyphs">+346 PB</text>
<text x="486.20" y="598.40" font-size="7.5" text-anchor="end" font-weight="normal" fill="#1a1a1a" transform="rotate(-45 486.20 598.40)"  textLength="30.88" lengthAdjust="spacingAndGlyphs">DP10 DM</text>
<text x="507.20" y="598.40" font-size="7.5" text-anchor="end" font-weight="normal" fill="#1a1a1a" transform="rotate(-45 507.20 598.40)"  textLength="17.82" lengthAdjust="spacingAndGlyphs">DP10</text>
<text x="428.30" y="559.20" font-size="5.8" text-anchor="middle" font-weight="normal" fill="#1a1a1a" transform="rotate(-90 428.30 559.20)"  textLength="12.80" lengthAdjust="spacingAndGlyphs">CMV</text>
<line x1="426.60" y1="569.10" x2="426.60" y2="582.20" stroke="#111" stroke-width="1.1" />
<path d="M424.1,580.50 Q426.6,581.70 429.1,580.50 L426.6,585.70 Z" fill="#111"/>
<rect x="371.50" y="626.20" width="3.00" height="3.00" fill="#5aaae0" stroke="none" stroke-width="0" />
<text x="377.20" y="630.00" font-size="6.5" text-anchor="start" font-weight="normal" fill="#1a1a1a"  textLength="25.00" lengthAdjust="spacingAndGlyphs">DM+ only</text>
<rect x="406.20" y="626.20" width="3.00" height="3.00" fill="#4a1a5e" stroke="none" stroke-width="0" />
<text x="411.90" y="630.00" font-size="6.5" text-anchor="start" font-weight="normal" fill="#1a1a1a"  textLength="23.10" lengthAdjust="spacingAndGlyphs">DM- only</text>
<rect x="439.00" y="626.20" width="3.00" height="3.00" fill="#66a744" stroke="none" stroke-width="0" />
<text x="444.70" y="630.00" font-size="6.5" text-anchor="start" font-weight="normal" fill="#1a1a1a"  textLength="36.00" lengthAdjust="spacingAndGlyphs">DM+ and DM-</text>
<rect x="485.00" y="626.20" width="3.00" height="3.00" fill="#c4c3c9" stroke="none" stroke-width="0" />
<text x="490.70" y="630.00" font-size="6.5" text-anchor="start" font-weight="normal" fill="#1a1a1a"  textLength="14.60" lengthAdjust="spacingAndGlyphs">Other</text>
<line x1="0" y1="0.55" x2="520" y2="0.55" stroke="#000" stroke-width="1.1"/>
<line x1="0.55" y1="0" x2="0.55" y2="646" stroke="#000" stroke-width="1.1"/>
<line x1="0" y1="645.35" x2="520" y2="645.35" stroke="#000" stroke-width="1.3"/>
<line x1="519.4" y1="0" x2="519.4" y2="646" stroke="#000" stroke-width="1.2"/>
</svg>
</body></html>
